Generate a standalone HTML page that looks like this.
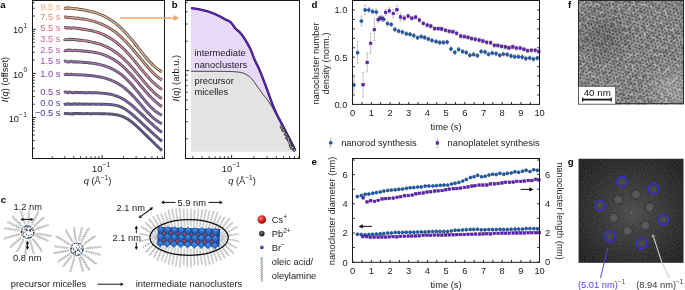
<!DOCTYPE html>
<html><head><meta charset="utf-8"><style>
html,body{margin:0;padding:0;background:#fff;width:685px;height:290px;overflow:hidden;}
svg{display:block;font-family:"Liberation Sans",sans-serif;will-change:transform;}
</style></head><body>
<svg width="685" height="290" viewBox="0 0 685 290">
<text x="0.30" y="7.60" font-size="9.6" text-anchor="start" fill="#000" font-weight="bold">a</text>
<line x1="32.50" y1="148.32" x2="34.70" y2="148.32" stroke="#1a1a1a" stroke-width="0.9"/>
<line x1="32.50" y1="140.56" x2="34.70" y2="140.56" stroke="#1a1a1a" stroke-width="0.9"/>
<line x1="32.50" y1="135.05" x2="34.70" y2="135.05" stroke="#1a1a1a" stroke-width="0.9"/>
<line x1="32.50" y1="130.78" x2="34.70" y2="130.78" stroke="#1a1a1a" stroke-width="0.9"/>
<line x1="32.50" y1="127.28" x2="34.70" y2="127.28" stroke="#1a1a1a" stroke-width="0.9"/>
<line x1="32.50" y1="124.33" x2="34.70" y2="124.33" stroke="#1a1a1a" stroke-width="0.9"/>
<line x1="32.50" y1="121.77" x2="34.70" y2="121.77" stroke="#1a1a1a" stroke-width="0.9"/>
<line x1="32.50" y1="119.52" x2="34.70" y2="119.52" stroke="#1a1a1a" stroke-width="0.9"/>
<line x1="32.50" y1="117.50" x2="36.00" y2="117.50" stroke="#1a1a1a" stroke-width="0.9"/>
<line x1="32.50" y1="104.22" x2="34.70" y2="104.22" stroke="#1a1a1a" stroke-width="0.9"/>
<line x1="32.50" y1="96.46" x2="34.70" y2="96.46" stroke="#1a1a1a" stroke-width="0.9"/>
<line x1="32.50" y1="90.95" x2="34.70" y2="90.95" stroke="#1a1a1a" stroke-width="0.9"/>
<line x1="32.50" y1="86.68" x2="34.70" y2="86.68" stroke="#1a1a1a" stroke-width="0.9"/>
<line x1="32.50" y1="83.18" x2="34.70" y2="83.18" stroke="#1a1a1a" stroke-width="0.9"/>
<line x1="32.50" y1="80.23" x2="34.70" y2="80.23" stroke="#1a1a1a" stroke-width="0.9"/>
<line x1="32.50" y1="77.67" x2="34.70" y2="77.67" stroke="#1a1a1a" stroke-width="0.9"/>
<line x1="32.50" y1="75.42" x2="34.70" y2="75.42" stroke="#1a1a1a" stroke-width="0.9"/>
<line x1="32.50" y1="73.40" x2="36.00" y2="73.40" stroke="#1a1a1a" stroke-width="0.9"/>
<line x1="32.50" y1="60.12" x2="34.70" y2="60.12" stroke="#1a1a1a" stroke-width="0.9"/>
<line x1="32.50" y1="52.36" x2="34.70" y2="52.36" stroke="#1a1a1a" stroke-width="0.9"/>
<line x1="32.50" y1="46.85" x2="34.70" y2="46.85" stroke="#1a1a1a" stroke-width="0.9"/>
<line x1="32.50" y1="42.58" x2="34.70" y2="42.58" stroke="#1a1a1a" stroke-width="0.9"/>
<line x1="32.50" y1="39.08" x2="34.70" y2="39.08" stroke="#1a1a1a" stroke-width="0.9"/>
<line x1="32.50" y1="36.13" x2="34.70" y2="36.13" stroke="#1a1a1a" stroke-width="0.9"/>
<line x1="32.50" y1="33.57" x2="34.70" y2="33.57" stroke="#1a1a1a" stroke-width="0.9"/>
<line x1="32.50" y1="31.32" x2="34.70" y2="31.32" stroke="#1a1a1a" stroke-width="0.9"/>
<line x1="32.50" y1="29.30" x2="36.00" y2="29.30" stroke="#1a1a1a" stroke-width="0.9"/>
<line x1="32.50" y1="16.02" x2="34.70" y2="16.02" stroke="#1a1a1a" stroke-width="0.9"/>
<line x1="32.50" y1="8.26" x2="34.70" y2="8.26" stroke="#1a1a1a" stroke-width="0.9"/>
<line x1="32.50" y1="2.75" x2="34.70" y2="2.75" stroke="#1a1a1a" stroke-width="0.9"/>
<line x1="52.26" y1="158.50" x2="52.26" y2="156.30" stroke="#1a1a1a" stroke-width="0.9"/>
<line x1="64.82" y1="158.50" x2="64.82" y2="156.30" stroke="#1a1a1a" stroke-width="0.9"/>
<line x1="73.73" y1="158.50" x2="73.73" y2="156.30" stroke="#1a1a1a" stroke-width="0.9"/>
<line x1="80.64" y1="158.50" x2="80.64" y2="156.30" stroke="#1a1a1a" stroke-width="0.9"/>
<line x1="86.28" y1="158.50" x2="86.28" y2="156.30" stroke="#1a1a1a" stroke-width="0.9"/>
<line x1="91.06" y1="158.50" x2="91.06" y2="156.30" stroke="#1a1a1a" stroke-width="0.9"/>
<line x1="95.19" y1="158.50" x2="95.19" y2="156.30" stroke="#1a1a1a" stroke-width="0.9"/>
<line x1="98.84" y1="158.50" x2="98.84" y2="156.30" stroke="#1a1a1a" stroke-width="0.9"/>
<line x1="102.10" y1="158.50" x2="102.10" y2="155.00" stroke="#1a1a1a" stroke-width="0.9"/>
<line x1="123.56" y1="158.50" x2="123.56" y2="156.30" stroke="#1a1a1a" stroke-width="0.9"/>
<line x1="136.12" y1="158.50" x2="136.12" y2="156.30" stroke="#1a1a1a" stroke-width="0.9"/>
<line x1="145.03" y1="158.50" x2="145.03" y2="156.30" stroke="#1a1a1a" stroke-width="0.9"/>
<line x1="151.94" y1="158.50" x2="151.94" y2="156.30" stroke="#1a1a1a" stroke-width="0.9"/>
<line x1="157.58" y1="158.50" x2="157.58" y2="156.30" stroke="#1a1a1a" stroke-width="0.9"/>
<line x1="162.36" y1="158.50" x2="162.36" y2="156.30" stroke="#1a1a1a" stroke-width="0.9"/>
<rect x="32.5" y="0.5" width="132.0" height="158.0" fill="none" stroke="#1a1a1a" stroke-width="1"/>
<text x="23.30" y="33.10" font-size="9.3" text-anchor="end" fill="#1a1a1a">10</text>
<text x="23.60" y="27.50" font-size="6.6" text-anchor="start" fill="#1a1a1a">1</text>
<text x="23.30" y="77.50" font-size="9.3" text-anchor="end" fill="#1a1a1a">10</text>
<text x="23.60" y="71.90" font-size="6.6" text-anchor="start" fill="#1a1a1a">0</text>
<text x="19.00" y="122.30" font-size="9.3" text-anchor="end" fill="#1a1a1a">10</text>
<text x="19.30" y="116.70" font-size="6.6" text-anchor="start" fill="#1a1a1a">−1</text>
<text x="102.40" y="172.20" font-size="9.3" text-anchor="end" fill="#1a1a1a">10</text>
<text x="102.70" y="166.60" font-size="6.6" text-anchor="start" fill="#1a1a1a">−1</text>
<text x="97.5" y="183.6" font-size="9.3" text-anchor="middle" fill="#1a1a1a"><tspan font-style="italic">q</tspan> (Å<tspan font-size="6.6" dy="-3.6">−1</tspan><tspan dy="3.6">)</tspan></text>
<text transform="translate(7.8,79.5) rotate(-90)" font-size="9.3" text-anchor="middle" fill="#1a1a1a"><tspan font-style="italic">I</tspan>(<tspan font-style="italic">q</tspan>) (offset)</text>
<text x="60.50" y="10.10" font-size="9.3" text-anchor="end" fill="#f3ad72">9.5 s</text>
<path d="M64.00,7.96 L65.00,8.23 L66.00,8.56 L67.00,7.95 L68.00,7.78 L69.00,8.47 L70.00,8.11 L71.00,8.10 L72.00,8.39 L73.00,8.45 L74.00,8.64 L75.00,8.95 L76.00,8.65 L77.00,8.94 L78.00,8.87 L79.00,9.41 L80.00,9.48 L81.00,9.73 L82.00,9.41 L83.00,9.78 L84.00,10.22 L85.00,10.18 L86.00,10.24 L87.00,10.72 L88.00,10.87 L89.00,11.03 L90.00,11.34 L91.00,11.56 L92.00,11.83 L93.00,11.95 L94.00,12.21 L95.00,12.56 L96.00,12.94 L97.00,13.23 L98.00,13.58 L99.00,13.98 L100.00,14.36 L101.00,14.78 L102.00,15.21 L103.00,15.66 L104.00,16.13 L105.00,16.63 L106.00,17.15 L107.00,17.69 L108.00,18.26 L109.00,18.85 L110.00,19.47 L111.00,20.11 L112.00,20.79 L113.00,21.49 L114.00,22.21 L115.00,22.97 L116.00,23.75 L117.00,24.57 L118.00,25.41 L119.00,26.28 L120.00,27.18 L121.00,28.10 L122.00,29.06 L123.00,30.05 L124.00,31.06 L125.00,32.10 L126.00,33.16 L127.00,34.25 L128.00,35.37 L129.00,36.51 L130.00,37.67 L131.00,38.85 L132.00,40.05 L133.00,41.27 L134.00,42.50 L135.00,43.74 L136.00,45.00 L137.00,46.26 L138.00,47.53 L139.00,48.80 L140.00,50.07 L141.00,51.34 L142.00,52.60 L143.00,53.85 L144.00,55.09 L145.00,56.31 L146.00,57.51 L147.00,58.69 L148.00,59.84 L149.00,60.96 L150.00,62.05 L151.00,63.10 L152.00,64.12 L153.00,65.09 L154.00,66.03 L155.00,66.92 L156.00,67.76 L157.00,68.56 L158.00,69.32 L159.00,70.03 L160.00,70.70 L161.00,71.32 L162.00,71.89" fill="none" stroke="#505050" stroke-width="2.9" stroke-linejoin="round"/>
<path d="M64.00,7.96 L65.00,8.23 L66.00,8.56 L67.00,7.95 L68.00,7.78 L69.00,8.47 L70.00,8.11 L71.00,8.10 L72.00,8.39 L73.00,8.45 L74.00,8.64 L75.00,8.95 L76.00,8.65 L77.00,8.94 L78.00,8.87 L79.00,9.41 L80.00,9.48 L81.00,9.73 L82.00,9.41 L83.00,9.78 L84.00,10.22 L85.00,10.18 L86.00,10.24 L87.00,10.72 L88.00,10.87 L89.00,11.03 L90.00,11.34 L91.00,11.56 L92.00,11.83 L93.00,11.95 L94.00,12.21 L95.00,12.56 L96.00,12.94 L97.00,13.23 L98.00,13.58 L99.00,13.98 L100.00,14.36 L101.00,14.78 L102.00,15.21 L103.00,15.66 L104.00,16.13 L105.00,16.63 L106.00,17.15 L107.00,17.69 L108.00,18.26 L109.00,18.85 L110.00,19.47 L111.00,20.11 L112.00,20.79 L113.00,21.49 L114.00,22.21 L115.00,22.97 L116.00,23.75 L117.00,24.57 L118.00,25.41 L119.00,26.28 L120.00,27.18 L121.00,28.10 L122.00,29.06 L123.00,30.05 L124.00,31.06 L125.00,32.10 L126.00,33.16 L127.00,34.25 L128.00,35.37 L129.00,36.51 L130.00,37.67 L131.00,38.85 L132.00,40.05 L133.00,41.27 L134.00,42.50 L135.00,43.74 L136.00,45.00 L137.00,46.26 L138.00,47.53 L139.00,48.80 L140.00,50.07 L141.00,51.34 L142.00,52.60 L143.00,53.85 L144.00,55.09 L145.00,56.31 L146.00,57.51 L147.00,58.69 L148.00,59.84 L149.00,60.96 L150.00,62.05 L151.00,63.10 L152.00,64.12 L153.00,65.09 L154.00,66.03 L155.00,66.92 L156.00,67.76 L157.00,68.56 L158.00,69.32 L159.00,70.03 L160.00,70.70 L161.00,71.32 L162.00,71.89" fill="none" stroke="#f5bb8b" stroke-width="1.2" stroke-linejoin="round"/>
<text x="60.50" y="20.30" font-size="9.3" text-anchor="end" fill="#ec8a72">7.5 s</text>
<path d="M64.00,17.16 L65.00,17.03 L66.00,16.83 L67.00,17.55 L68.00,17.32 L69.00,17.83 L70.00,17.58 L71.00,17.52 L72.00,17.92 L73.00,17.93 L74.00,17.59 L75.00,18.34 L76.00,18.44 L77.00,17.93 L78.00,18.09 L79.00,18.28 L80.00,18.61 L81.00,18.83 L82.00,19.05 L83.00,18.79 L84.00,18.95 L85.00,19.39 L86.00,19.33 L87.00,19.55 L88.00,20.04 L89.00,20.13 L90.00,20.41 L91.00,20.72 L92.00,20.92 L93.00,21.18 L94.00,21.44 L95.00,21.73 L96.00,22.03 L97.00,22.38 L98.00,22.77 L99.00,23.10 L100.00,23.49 L101.00,23.89 L102.00,24.32 L103.00,24.76 L104.00,25.23 L105.00,25.72 L106.00,26.23 L107.00,26.76 L108.00,27.32 L109.00,27.90 L110.00,28.51 L111.00,29.14 L112.00,29.80 L113.00,30.48 L114.00,31.19 L115.00,31.93 L116.00,32.69 L117.00,33.48 L118.00,34.30 L119.00,35.14 L120.00,36.01 L121.00,36.91 L122.00,37.83 L123.00,38.78 L124.00,39.76 L125.00,40.76 L126.00,41.78 L127.00,42.83 L128.00,43.90 L129.00,44.99 L130.00,46.10 L131.00,47.23 L132.00,48.37 L133.00,49.54 L134.00,50.71 L135.00,51.90 L136.00,53.10 L137.00,54.31 L138.00,55.52 L139.00,56.74 L140.00,57.95 L141.00,59.17 L142.00,60.39 L143.00,61.59 L144.00,62.79 L145.00,63.98 L146.00,65.15 L147.00,66.31 L148.00,67.45 L149.00,68.56 L150.00,69.66 L151.00,70.72 L152.00,71.76 L153.00,72.76 L154.00,73.73 L155.00,74.67 L156.00,75.57 L157.00,76.43 L158.00,77.26 L159.00,78.04 L160.00,78.79 L161.00,79.49 L162.00,80.16" fill="none" stroke="#505050" stroke-width="2.9" stroke-linejoin="round"/>
<path d="M64.00,17.16 L65.00,17.03 L66.00,16.83 L67.00,17.55 L68.00,17.32 L69.00,17.83 L70.00,17.58 L71.00,17.52 L72.00,17.92 L73.00,17.93 L74.00,17.59 L75.00,18.34 L76.00,18.44 L77.00,17.93 L78.00,18.09 L79.00,18.28 L80.00,18.61 L81.00,18.83 L82.00,19.05 L83.00,18.79 L84.00,18.95 L85.00,19.39 L86.00,19.33 L87.00,19.55 L88.00,20.04 L89.00,20.13 L90.00,20.41 L91.00,20.72 L92.00,20.92 L93.00,21.18 L94.00,21.44 L95.00,21.73 L96.00,22.03 L97.00,22.38 L98.00,22.77 L99.00,23.10 L100.00,23.49 L101.00,23.89 L102.00,24.32 L103.00,24.76 L104.00,25.23 L105.00,25.72 L106.00,26.23 L107.00,26.76 L108.00,27.32 L109.00,27.90 L110.00,28.51 L111.00,29.14 L112.00,29.80 L113.00,30.48 L114.00,31.19 L115.00,31.93 L116.00,32.69 L117.00,33.48 L118.00,34.30 L119.00,35.14 L120.00,36.01 L121.00,36.91 L122.00,37.83 L123.00,38.78 L124.00,39.76 L125.00,40.76 L126.00,41.78 L127.00,42.83 L128.00,43.90 L129.00,44.99 L130.00,46.10 L131.00,47.23 L132.00,48.37 L133.00,49.54 L134.00,50.71 L135.00,51.90 L136.00,53.10 L137.00,54.31 L138.00,55.52 L139.00,56.74 L140.00,57.95 L141.00,59.17 L142.00,60.39 L143.00,61.59 L144.00,62.79 L145.00,63.98 L146.00,65.15 L147.00,66.31 L148.00,67.45 L149.00,68.56 L150.00,69.66 L151.00,70.72 L152.00,71.76 L153.00,72.76 L154.00,73.73 L155.00,74.67 L156.00,75.57 L157.00,76.43 L158.00,77.26 L159.00,78.04 L160.00,78.79 L161.00,79.49 L162.00,80.16" fill="none" stroke="#ef9f8b" stroke-width="1.2" stroke-linejoin="round"/>
<text x="60.50" y="30.80" font-size="9.3" text-anchor="end" fill="#de6e86">5.5 s</text>
<path d="M64.00,27.33 L65.00,27.35 L66.00,27.82 L67.00,28.23 L68.00,27.51 L69.00,27.82 L70.00,28.01 L71.00,28.25 L72.00,28.18 L73.00,27.76 L74.00,27.94 L75.00,27.96 L76.00,28.39 L77.00,28.17 L78.00,28.70 L79.00,28.45 L80.00,28.69 L81.00,28.97 L82.00,29.24 L83.00,29.13 L84.00,29.19 L85.00,29.38 L86.00,29.75 L87.00,29.84 L88.00,30.06 L89.00,30.23 L90.00,30.23 L91.00,30.62 L92.00,30.74 L93.00,31.01 L94.00,31.28 L95.00,31.62 L96.00,31.83 L97.00,32.20 L98.00,32.53 L99.00,32.84 L100.00,33.21 L101.00,33.59 L102.00,34.00 L103.00,34.42 L104.00,34.87 L105.00,35.33 L106.00,35.83 L107.00,36.35 L108.00,36.89 L109.00,37.46 L110.00,38.05 L111.00,38.67 L112.00,39.32 L113.00,40.00 L114.00,40.70 L115.00,41.44 L116.00,42.20 L117.00,42.99 L118.00,43.81 L119.00,44.65 L120.00,45.53 L121.00,46.43 L122.00,47.36 L123.00,48.32 L124.00,49.30 L125.00,50.31 L126.00,51.35 L127.00,52.40 L128.00,53.48 L129.00,54.58 L130.00,55.70 L131.00,56.84 L132.00,58.00 L133.00,59.17 L134.00,60.35 L135.00,61.54 L136.00,62.74 L137.00,63.95 L138.00,65.16 L139.00,66.38 L140.00,67.59 L141.00,68.80 L142.00,70.01 L143.00,71.21 L144.00,72.39 L145.00,73.57 L146.00,74.73 L147.00,75.87 L148.00,76.99 L149.00,78.08 L150.00,79.15 L151.00,80.20 L152.00,81.21 L153.00,82.19 L154.00,83.14 L155.00,84.06 L156.00,84.93 L157.00,85.78 L158.00,86.58 L159.00,87.35 L160.00,88.08 L161.00,88.77 L162.00,89.42" fill="none" stroke="#505050" stroke-width="2.9" stroke-linejoin="round"/>
<path d="M64.00,27.33 L65.00,27.35 L66.00,27.82 L67.00,28.23 L68.00,27.51 L69.00,27.82 L70.00,28.01 L71.00,28.25 L72.00,28.18 L73.00,27.76 L74.00,27.94 L75.00,27.96 L76.00,28.39 L77.00,28.17 L78.00,28.70 L79.00,28.45 L80.00,28.69 L81.00,28.97 L82.00,29.24 L83.00,29.13 L84.00,29.19 L85.00,29.38 L86.00,29.75 L87.00,29.84 L88.00,30.06 L89.00,30.23 L90.00,30.23 L91.00,30.62 L92.00,30.74 L93.00,31.01 L94.00,31.28 L95.00,31.62 L96.00,31.83 L97.00,32.20 L98.00,32.53 L99.00,32.84 L100.00,33.21 L101.00,33.59 L102.00,34.00 L103.00,34.42 L104.00,34.87 L105.00,35.33 L106.00,35.83 L107.00,36.35 L108.00,36.89 L109.00,37.46 L110.00,38.05 L111.00,38.67 L112.00,39.32 L113.00,40.00 L114.00,40.70 L115.00,41.44 L116.00,42.20 L117.00,42.99 L118.00,43.81 L119.00,44.65 L120.00,45.53 L121.00,46.43 L122.00,47.36 L123.00,48.32 L124.00,49.30 L125.00,50.31 L126.00,51.35 L127.00,52.40 L128.00,53.48 L129.00,54.58 L130.00,55.70 L131.00,56.84 L132.00,58.00 L133.00,59.17 L134.00,60.35 L135.00,61.54 L136.00,62.74 L137.00,63.95 L138.00,65.16 L139.00,66.38 L140.00,67.59 L141.00,68.80 L142.00,70.01 L143.00,71.21 L144.00,72.39 L145.00,73.57 L146.00,74.73 L147.00,75.87 L148.00,76.99 L149.00,78.08 L150.00,79.15 L151.00,80.20 L152.00,81.21 L153.00,82.19 L154.00,83.14 L155.00,84.06 L156.00,84.93 L157.00,85.78 L158.00,86.58 L159.00,87.35 L160.00,88.08 L161.00,88.77 L162.00,89.42" fill="none" stroke="#e3889b" stroke-width="1.2" stroke-linejoin="round"/>
<text x="60.50" y="42.00" font-size="9.3" text-anchor="end" fill="#c8689c">3.5 s</text>
<path d="M64.00,38.85 L65.00,39.74 L66.00,39.61 L67.00,39.63 L68.00,39.78 L69.00,39.09 L70.00,39.02 L71.00,39.77 L72.00,39.58 L73.00,39.27 L74.00,39.46 L75.00,39.53 L76.00,40.16 L77.00,39.69 L78.00,40.10 L79.00,40.33 L80.00,39.92 L81.00,40.56 L82.00,40.34 L83.00,40.38 L84.00,40.65 L85.00,40.87 L86.00,40.83 L87.00,40.96 L88.00,41.27 L89.00,41.46 L90.00,41.58 L91.00,41.80 L92.00,42.10 L93.00,42.36 L94.00,42.56 L95.00,42.76 L96.00,43.04 L97.00,43.34 L98.00,43.60 L99.00,43.93 L100.00,44.24 L101.00,44.59 L102.00,44.95 L103.00,45.34 L104.00,45.74 L105.00,46.17 L106.00,46.62 L107.00,47.09 L108.00,47.58 L109.00,48.10 L110.00,48.64 L111.00,49.21 L112.00,49.80 L113.00,50.42 L114.00,51.07 L115.00,51.74 L116.00,52.44 L117.00,53.17 L118.00,53.93 L119.00,54.72 L120.00,55.53 L121.00,56.38 L122.00,57.25 L123.00,58.15 L124.00,59.07 L125.00,60.03 L126.00,61.00 L127.00,62.01 L128.00,63.04 L129.00,64.09 L130.00,65.17 L131.00,66.26 L132.00,67.38 L133.00,68.51 L134.00,69.66 L135.00,70.82 L136.00,72.00 L137.00,73.19 L138.00,74.38 L139.00,75.58 L140.00,76.79 L141.00,77.99 L142.00,79.19 L143.00,80.39 L144.00,81.58 L145.00,82.76 L146.00,83.92 L147.00,85.07 L148.00,86.20 L149.00,87.31 L150.00,88.40 L151.00,89.46 L152.00,90.49 L153.00,91.49 L154.00,92.45 L155.00,93.38 L156.00,94.28 L157.00,95.13 L158.00,95.95 L159.00,96.73 L160.00,97.47 L161.00,98.17 L162.00,98.83" fill="none" stroke="#505050" stroke-width="2.9" stroke-linejoin="round"/>
<path d="M64.00,38.85 L65.00,39.74 L66.00,39.61 L67.00,39.63 L68.00,39.78 L69.00,39.09 L70.00,39.02 L71.00,39.77 L72.00,39.58 L73.00,39.27 L74.00,39.46 L75.00,39.53 L76.00,40.16 L77.00,39.69 L78.00,40.10 L79.00,40.33 L80.00,39.92 L81.00,40.56 L82.00,40.34 L83.00,40.38 L84.00,40.65 L85.00,40.87 L86.00,40.83 L87.00,40.96 L88.00,41.27 L89.00,41.46 L90.00,41.58 L91.00,41.80 L92.00,42.10 L93.00,42.36 L94.00,42.56 L95.00,42.76 L96.00,43.04 L97.00,43.34 L98.00,43.60 L99.00,43.93 L100.00,44.24 L101.00,44.59 L102.00,44.95 L103.00,45.34 L104.00,45.74 L105.00,46.17 L106.00,46.62 L107.00,47.09 L108.00,47.58 L109.00,48.10 L110.00,48.64 L111.00,49.21 L112.00,49.80 L113.00,50.42 L114.00,51.07 L115.00,51.74 L116.00,52.44 L117.00,53.17 L118.00,53.93 L119.00,54.72 L120.00,55.53 L121.00,56.38 L122.00,57.25 L123.00,58.15 L124.00,59.07 L125.00,60.03 L126.00,61.00 L127.00,62.01 L128.00,63.04 L129.00,64.09 L130.00,65.17 L131.00,66.26 L132.00,67.38 L133.00,68.51 L134.00,69.66 L135.00,70.82 L136.00,72.00 L137.00,73.19 L138.00,74.38 L139.00,75.58 L140.00,76.79 L141.00,77.99 L142.00,79.19 L143.00,80.39 L144.00,81.58 L145.00,82.76 L146.00,83.92 L147.00,85.07 L148.00,86.20 L149.00,87.31 L150.00,88.40 L151.00,89.46 L152.00,90.49 L153.00,91.49 L154.00,92.45 L155.00,93.38 L156.00,94.28 L157.00,95.13 L158.00,95.95 L159.00,96.73 L160.00,97.47 L161.00,98.17 L162.00,98.83" fill="none" stroke="#d183ad" stroke-width="1.2" stroke-linejoin="round"/>
<text x="60.50" y="52.50" font-size="9.3" text-anchor="end" fill="#ae5aad">2.5 s</text>
<path d="M64.00,50.20 L65.00,50.72 L66.00,50.38 L67.00,50.43 L68.00,49.94 L69.00,50.71 L70.00,49.92 L71.00,50.36 L72.00,50.70 L73.00,50.60 L74.00,50.26 L75.00,50.45 L76.00,50.47 L77.00,50.41 L78.00,50.91 L79.00,50.71 L80.00,50.71 L81.00,50.75 L82.00,50.97 L83.00,51.05 L84.00,51.24 L85.00,51.14 L86.00,51.27 L87.00,51.15 L88.00,51.59 L89.00,51.72 L90.00,51.71 L91.00,51.93 L92.00,52.03 L93.00,52.15 L94.00,52.35 L95.00,52.48 L96.00,52.74 L97.00,52.94 L98.00,53.14 L99.00,53.39 L100.00,53.65 L101.00,53.93 L102.00,54.23 L103.00,54.55 L104.00,54.89 L105.00,55.25 L106.00,55.64 L107.00,56.05 L108.00,56.49 L109.00,56.96 L110.00,57.45 L111.00,57.97 L112.00,58.51 L113.00,59.09 L114.00,59.70 L115.00,60.33 L116.00,61.00 L117.00,61.70 L118.00,62.43 L119.00,63.20 L120.00,63.99 L121.00,64.81 L122.00,65.67 L123.00,66.55 L124.00,67.47 L125.00,68.41 L126.00,69.38 L127.00,70.38 L128.00,71.40 L129.00,72.44 L130.00,73.50 L131.00,74.59 L132.00,75.69 L133.00,76.81 L134.00,77.95 L135.00,79.10 L136.00,80.25 L137.00,81.42 L138.00,82.59 L139.00,83.76 L140.00,84.94 L141.00,86.11 L142.00,87.29 L143.00,88.45 L144.00,89.61 L145.00,90.75 L146.00,91.88 L147.00,93.00 L148.00,94.10 L149.00,95.18 L150.00,96.24 L151.00,97.27 L152.00,98.28 L153.00,99.26 L154.00,100.22 L155.00,101.14 L156.00,102.03 L157.00,102.89 L158.00,103.72 L159.00,104.52 L160.00,105.28 L161.00,106.00 L162.00,106.69" fill="none" stroke="#505050" stroke-width="2.9" stroke-linejoin="round"/>
<path d="M64.00,50.20 L65.00,50.72 L66.00,50.38 L67.00,50.43 L68.00,49.94 L69.00,50.71 L70.00,49.92 L71.00,50.36 L72.00,50.70 L73.00,50.60 L74.00,50.26 L75.00,50.45 L76.00,50.47 L77.00,50.41 L78.00,50.91 L79.00,50.71 L80.00,50.71 L81.00,50.75 L82.00,50.97 L83.00,51.05 L84.00,51.24 L85.00,51.14 L86.00,51.27 L87.00,51.15 L88.00,51.59 L89.00,51.72 L90.00,51.71 L91.00,51.93 L92.00,52.03 L93.00,52.15 L94.00,52.35 L95.00,52.48 L96.00,52.74 L97.00,52.94 L98.00,53.14 L99.00,53.39 L100.00,53.65 L101.00,53.93 L102.00,54.23 L103.00,54.55 L104.00,54.89 L105.00,55.25 L106.00,55.64 L107.00,56.05 L108.00,56.49 L109.00,56.96 L110.00,57.45 L111.00,57.97 L112.00,58.51 L113.00,59.09 L114.00,59.70 L115.00,60.33 L116.00,61.00 L117.00,61.70 L118.00,62.43 L119.00,63.20 L120.00,63.99 L121.00,64.81 L122.00,65.67 L123.00,66.55 L124.00,67.47 L125.00,68.41 L126.00,69.38 L127.00,70.38 L128.00,71.40 L129.00,72.44 L130.00,73.50 L131.00,74.59 L132.00,75.69 L133.00,76.81 L134.00,77.95 L135.00,79.10 L136.00,80.25 L137.00,81.42 L138.00,82.59 L139.00,83.76 L140.00,84.94 L141.00,86.11 L142.00,87.29 L143.00,88.45 L144.00,89.61 L145.00,90.75 L146.00,91.88 L147.00,93.00 L148.00,94.10 L149.00,95.18 L150.00,96.24 L151.00,97.27 L152.00,98.28 L153.00,99.26 L154.00,100.22 L155.00,101.14 L156.00,102.03 L157.00,102.89 L158.00,103.72 L159.00,104.52 L160.00,105.28 L161.00,106.00 L162.00,106.69" fill="none" stroke="#bc77bb" stroke-width="1.2" stroke-linejoin="round"/>
<text x="60.50" y="64.10" font-size="9.3" text-anchor="end" fill="#9650b4">1.5 s</text>
<path d="M64.00,61.44 L65.00,61.04 L66.00,61.62 L67.00,61.87 L68.00,61.59 L69.00,62.08 L70.00,61.73 L71.00,61.30 L72.00,61.72 L73.00,61.73 L74.00,61.99 L75.00,61.64 L76.00,62.04 L77.00,61.68 L78.00,62.19 L79.00,62.04 L80.00,61.94 L81.00,62.12 L82.00,62.22 L83.00,62.23 L84.00,62.46 L85.00,62.47 L86.00,62.49 L87.00,62.64 L88.00,62.69 L89.00,62.95 L90.00,62.80 L91.00,63.06 L92.00,63.07 L93.00,63.29 L94.00,63.39 L95.00,63.59 L96.00,63.84 L97.00,64.02 L98.00,64.19 L99.00,64.41 L100.00,64.63 L101.00,64.87 L102.00,65.13 L103.00,65.41 L104.00,65.70 L105.00,66.02 L106.00,66.35 L107.00,66.70 L108.00,67.08 L109.00,67.48 L110.00,67.90 L111.00,68.35 L112.00,68.82 L113.00,69.33 L114.00,69.86 L115.00,70.42 L116.00,71.01 L117.00,71.63 L118.00,72.28 L119.00,72.97 L120.00,73.69 L121.00,74.44 L122.00,75.23 L123.00,76.05 L124.00,76.90 L125.00,77.79 L126.00,78.72 L127.00,79.67 L128.00,80.66 L129.00,81.69 L130.00,82.74 L131.00,83.82 L132.00,84.93 L133.00,86.06 L134.00,87.22 L135.00,88.40 L136.00,89.60 L137.00,90.81 L138.00,92.03 L139.00,93.26 L140.00,94.50 L141.00,95.73 L142.00,96.97 L143.00,98.19 L144.00,99.40 L145.00,100.60 L146.00,101.77 L147.00,102.92 L148.00,104.04 L149.00,105.13 L150.00,106.18 L151.00,107.20 L152.00,108.17 L153.00,109.09 L154.00,109.97 L155.00,110.80 L156.00,111.58 L157.00,112.31 L158.00,113.00 L159.00,113.64 L160.00,114.22 L161.00,114.77 L162.00,115.27" fill="none" stroke="#505050" stroke-width="2.9" stroke-linejoin="round"/>
<path d="M64.00,61.44 L65.00,61.04 L66.00,61.62 L67.00,61.87 L68.00,61.59 L69.00,62.08 L70.00,61.73 L71.00,61.30 L72.00,61.72 L73.00,61.73 L74.00,61.99 L75.00,61.64 L76.00,62.04 L77.00,61.68 L78.00,62.19 L79.00,62.04 L80.00,61.94 L81.00,62.12 L82.00,62.22 L83.00,62.23 L84.00,62.46 L85.00,62.47 L86.00,62.49 L87.00,62.64 L88.00,62.69 L89.00,62.95 L90.00,62.80 L91.00,63.06 L92.00,63.07 L93.00,63.29 L94.00,63.39 L95.00,63.59 L96.00,63.84 L97.00,64.02 L98.00,64.19 L99.00,64.41 L100.00,64.63 L101.00,64.87 L102.00,65.13 L103.00,65.41 L104.00,65.70 L105.00,66.02 L106.00,66.35 L107.00,66.70 L108.00,67.08 L109.00,67.48 L110.00,67.90 L111.00,68.35 L112.00,68.82 L113.00,69.33 L114.00,69.86 L115.00,70.42 L116.00,71.01 L117.00,71.63 L118.00,72.28 L119.00,72.97 L120.00,73.69 L121.00,74.44 L122.00,75.23 L123.00,76.05 L124.00,76.90 L125.00,77.79 L126.00,78.72 L127.00,79.67 L128.00,80.66 L129.00,81.69 L130.00,82.74 L131.00,83.82 L132.00,84.93 L133.00,86.06 L134.00,87.22 L135.00,88.40 L136.00,89.60 L137.00,90.81 L138.00,92.03 L139.00,93.26 L140.00,94.50 L141.00,95.73 L142.00,96.97 L143.00,98.19 L144.00,99.40 L145.00,100.60 L146.00,101.77 L147.00,102.92 L148.00,104.04 L149.00,105.13 L150.00,106.18 L151.00,107.20 L152.00,108.17 L153.00,109.09 L154.00,109.97 L155.00,110.80 L156.00,111.58 L157.00,112.31 L158.00,113.00 L159.00,113.64 L160.00,114.22 L161.00,114.77 L162.00,115.27" fill="none" stroke="#a86fc1" stroke-width="1.2" stroke-linejoin="round"/>
<text x="60.50" y="76.90" font-size="9.3" text-anchor="end" fill="#8046b2">1.0 s</text>
<path d="M64.00,74.90 L65.00,74.54 L66.00,74.29 L67.00,73.98 L68.00,74.85 L69.00,74.63 L70.00,74.51 L71.00,74.24 L72.00,74.55 L73.00,74.57 L74.00,74.80 L75.00,74.70 L76.00,74.80 L77.00,74.68 L78.00,74.95 L79.00,74.89 L80.00,74.64 L81.00,74.77 L82.00,75.07 L83.00,75.14 L84.00,74.96 L85.00,75.00 L86.00,75.35 L87.00,75.16 L88.00,75.50 L89.00,75.45 L90.00,75.46 L91.00,75.65 L92.00,75.73 L93.00,75.92 L94.00,76.04 L95.00,76.14 L96.00,76.33 L97.00,76.46 L98.00,76.62 L99.00,76.80 L100.00,77.01 L101.00,77.21 L102.00,77.43 L103.00,77.67 L104.00,77.92 L105.00,78.18 L106.00,78.47 L107.00,78.77 L108.00,79.09 L109.00,79.43 L110.00,79.80 L111.00,80.18 L112.00,80.59 L113.00,81.03 L114.00,81.49 L115.00,81.97 L116.00,82.48 L117.00,83.03 L118.00,83.60 L119.00,84.20 L120.00,84.83 L121.00,85.49 L122.00,86.18 L123.00,86.91 L124.00,87.67 L125.00,88.46 L126.00,89.28 L127.00,90.14 L128.00,91.03 L129.00,91.95 L130.00,92.90 L131.00,93.88 L132.00,94.89 L133.00,95.93 L134.00,96.99 L135.00,98.07 L136.00,99.18 L137.00,100.30 L138.00,101.43 L139.00,102.58 L140.00,103.74 L141.00,104.90 L142.00,106.06 L143.00,107.21 L144.00,108.36 L145.00,109.50 L146.00,110.61 L147.00,111.71 L148.00,112.79 L149.00,113.83 L150.00,114.85 L151.00,115.82 L152.00,116.76 L153.00,117.66 L154.00,118.51 L155.00,119.32 L156.00,120.09 L157.00,120.81 L158.00,121.48 L159.00,122.10 L160.00,122.68 L161.00,123.21 L162.00,123.71" fill="none" stroke="#505050" stroke-width="2.9" stroke-linejoin="round"/>
<path d="M64.00,74.90 L65.00,74.54 L66.00,74.29 L67.00,73.98 L68.00,74.85 L69.00,74.63 L70.00,74.51 L71.00,74.24 L72.00,74.55 L73.00,74.57 L74.00,74.80 L75.00,74.70 L76.00,74.80 L77.00,74.68 L78.00,74.95 L79.00,74.89 L80.00,74.64 L81.00,74.77 L82.00,75.07 L83.00,75.14 L84.00,74.96 L85.00,75.00 L86.00,75.35 L87.00,75.16 L88.00,75.50 L89.00,75.45 L90.00,75.46 L91.00,75.65 L92.00,75.73 L93.00,75.92 L94.00,76.04 L95.00,76.14 L96.00,76.33 L97.00,76.46 L98.00,76.62 L99.00,76.80 L100.00,77.01 L101.00,77.21 L102.00,77.43 L103.00,77.67 L104.00,77.92 L105.00,78.18 L106.00,78.47 L107.00,78.77 L108.00,79.09 L109.00,79.43 L110.00,79.80 L111.00,80.18 L112.00,80.59 L113.00,81.03 L114.00,81.49 L115.00,81.97 L116.00,82.48 L117.00,83.03 L118.00,83.60 L119.00,84.20 L120.00,84.83 L121.00,85.49 L122.00,86.18 L123.00,86.91 L124.00,87.67 L125.00,88.46 L126.00,89.28 L127.00,90.14 L128.00,91.03 L129.00,91.95 L130.00,92.90 L131.00,93.88 L132.00,94.89 L133.00,95.93 L134.00,96.99 L135.00,98.07 L136.00,99.18 L137.00,100.30 L138.00,101.43 L139.00,102.58 L140.00,103.74 L141.00,104.90 L142.00,106.06 L143.00,107.21 L144.00,108.36 L145.00,109.50 L146.00,110.61 L147.00,111.71 L148.00,112.79 L149.00,113.83 L150.00,114.85 L151.00,115.82 L152.00,116.76 L153.00,117.66 L154.00,118.51 L155.00,119.32 L156.00,120.09 L157.00,120.81 L158.00,121.48 L159.00,122.10 L160.00,122.68 L161.00,123.21 L162.00,123.71" fill="none" stroke="#9667bf" stroke-width="1.2" stroke-linejoin="round"/>
<text x="60.50" y="94.70" font-size="9.3" text-anchor="end" fill="#6a3eaa">0.5 s</text>
<path d="M64.00,92.46 L65.00,91.96 L66.00,92.13 L67.00,92.41 L68.00,92.87 L69.00,92.02 L70.00,92.14 L71.00,92.32 L72.00,92.82 L73.00,92.59 L74.00,92.77 L75.00,92.51 L76.00,92.20 L77.00,92.49 L78.00,92.68 L79.00,92.38 L80.00,92.76 L81.00,92.49 L82.00,92.68 L83.00,92.44 L84.00,92.73 L85.00,92.69 L86.00,92.65 L87.00,92.76 L88.00,92.62 L89.00,92.48 L90.00,92.74 L91.00,92.72 L92.00,92.75 L93.00,92.63 L94.00,92.80 L95.00,92.80 L96.00,92.78 L97.00,92.89 L98.00,92.90 L99.00,92.97 L100.00,93.03 L101.00,93.10 L102.00,93.17 L103.00,93.26 L104.00,93.36 L105.00,93.47 L106.00,93.59 L107.00,93.73 L108.00,93.88 L109.00,94.05 L110.00,94.24 L111.00,94.45 L112.00,94.68 L113.00,94.93 L114.00,95.20 L115.00,95.51 L116.00,95.84 L117.00,96.20 L118.00,96.59 L119.00,97.01 L120.00,97.46 L121.00,97.95 L122.00,98.47 L123.00,99.03 L124.00,99.62 L125.00,100.24 L126.00,100.90 L127.00,101.59 L128.00,102.31 L129.00,103.06 L130.00,103.84 L131.00,104.64 L132.00,105.47 L133.00,106.32 L134.00,107.19 L135.00,108.07 L136.00,108.98 L137.00,109.90 L138.00,110.82 L139.00,111.76 L140.00,112.71 L141.00,113.66 L142.00,114.62 L143.00,115.58 L144.00,116.53 L145.00,117.49 L146.00,118.45 L147.00,119.40 L148.00,120.34 L149.00,121.28 L150.00,122.22 L151.00,123.14 L152.00,124.05 L153.00,124.95 L154.00,125.84 L155.00,126.72 L156.00,127.59 L157.00,128.44 L158.00,129.27 L159.00,130.09 L160.00,130.89 L161.00,131.68 L162.00,132.45" fill="none" stroke="#505050" stroke-width="2.9" stroke-linejoin="round"/>
<path d="M64.00,92.46 L65.00,91.96 L66.00,92.13 L67.00,92.41 L68.00,92.87 L69.00,92.02 L70.00,92.14 L71.00,92.32 L72.00,92.82 L73.00,92.59 L74.00,92.77 L75.00,92.51 L76.00,92.20 L77.00,92.49 L78.00,92.68 L79.00,92.38 L80.00,92.76 L81.00,92.49 L82.00,92.68 L83.00,92.44 L84.00,92.73 L85.00,92.69 L86.00,92.65 L87.00,92.76 L88.00,92.62 L89.00,92.48 L90.00,92.74 L91.00,92.72 L92.00,92.75 L93.00,92.63 L94.00,92.80 L95.00,92.80 L96.00,92.78 L97.00,92.89 L98.00,92.90 L99.00,92.97 L100.00,93.03 L101.00,93.10 L102.00,93.17 L103.00,93.26 L104.00,93.36 L105.00,93.47 L106.00,93.59 L107.00,93.73 L108.00,93.88 L109.00,94.05 L110.00,94.24 L111.00,94.45 L112.00,94.68 L113.00,94.93 L114.00,95.20 L115.00,95.51 L116.00,95.84 L117.00,96.20 L118.00,96.59 L119.00,97.01 L120.00,97.46 L121.00,97.95 L122.00,98.47 L123.00,99.03 L124.00,99.62 L125.00,100.24 L126.00,100.90 L127.00,101.59 L128.00,102.31 L129.00,103.06 L130.00,103.84 L131.00,104.64 L132.00,105.47 L133.00,106.32 L134.00,107.19 L135.00,108.07 L136.00,108.98 L137.00,109.90 L138.00,110.82 L139.00,111.76 L140.00,112.71 L141.00,113.66 L142.00,114.62 L143.00,115.58 L144.00,116.53 L145.00,117.49 L146.00,118.45 L147.00,119.40 L148.00,120.34 L149.00,121.28 L150.00,122.22 L151.00,123.14 L152.00,124.05 L153.00,124.95 L154.00,125.84 L155.00,126.72 L156.00,127.59 L157.00,128.44 L158.00,129.27 L159.00,130.09 L160.00,130.89 L161.00,131.68 L162.00,132.45" fill="none" stroke="#8460b9" stroke-width="1.2" stroke-linejoin="round"/>
<text x="60.50" y="106.30" font-size="9.3" text-anchor="end" fill="#56389c">0.0 s</text>
<path d="M64.00,104.61 L65.00,104.24 L66.00,104.56 L67.00,104.01 L68.00,103.64 L69.00,104.22 L70.00,103.96 L71.00,104.45 L72.00,104.22 L73.00,104.38 L74.00,103.81 L75.00,103.79 L76.00,104.34 L77.00,103.93 L78.00,104.35 L79.00,103.81 L80.00,104.16 L81.00,103.85 L82.00,103.87 L83.00,104.33 L84.00,104.23 L85.00,104.22 L86.00,104.00 L87.00,104.14 L88.00,104.25 L89.00,104.12 L90.00,104.24 L91.00,104.24 L92.00,104.14 L93.00,104.06 L94.00,104.15 L95.00,104.20 L96.00,104.12 L97.00,104.19 L98.00,104.17 L99.00,104.15 L100.00,104.18 L101.00,104.19 L102.00,104.21 L103.00,104.23 L104.00,104.25 L105.00,104.28 L106.00,104.32 L107.00,104.36 L108.00,104.41 L109.00,104.48 L110.00,104.55 L111.00,104.64 L112.00,104.75 L113.00,104.87 L114.00,105.02 L115.00,105.19 L116.00,105.40 L117.00,105.63 L118.00,105.91 L119.00,106.22 L120.00,106.57 L121.00,106.97 L122.00,107.42 L123.00,107.91 L124.00,108.45 L125.00,109.04 L126.00,109.67 L127.00,110.35 L128.00,111.06 L129.00,111.80 L130.00,112.58 L131.00,113.39 L132.00,114.22 L133.00,115.08 L134.00,115.95 L135.00,116.83 L136.00,117.73 L137.00,118.64 L138.00,119.55 L139.00,120.48 L140.00,121.40 L141.00,122.33 L142.00,123.26 L143.00,124.20 L144.00,125.13 L145.00,126.06 L146.00,126.99 L147.00,127.92 L148.00,128.84 L149.00,129.76 L150.00,130.68 L151.00,131.60 L152.00,132.51 L153.00,133.41 L154.00,134.31 L155.00,135.21 L156.00,136.10 L157.00,136.98 L158.00,137.86 L159.00,138.73 L160.00,139.60 L161.00,140.45 L162.00,141.30" fill="none" stroke="#505050" stroke-width="2.9" stroke-linejoin="round"/>
<path d="M64.00,104.61 L65.00,104.24 L66.00,104.56 L67.00,104.01 L68.00,103.64 L69.00,104.22 L70.00,103.96 L71.00,104.45 L72.00,104.22 L73.00,104.38 L74.00,103.81 L75.00,103.79 L76.00,104.34 L77.00,103.93 L78.00,104.35 L79.00,103.81 L80.00,104.16 L81.00,103.85 L82.00,103.87 L83.00,104.33 L84.00,104.23 L85.00,104.22 L86.00,104.00 L87.00,104.14 L88.00,104.25 L89.00,104.12 L90.00,104.24 L91.00,104.24 L92.00,104.14 L93.00,104.06 L94.00,104.15 L95.00,104.20 L96.00,104.12 L97.00,104.19 L98.00,104.17 L99.00,104.15 L100.00,104.18 L101.00,104.19 L102.00,104.21 L103.00,104.23 L104.00,104.25 L105.00,104.28 L106.00,104.32 L107.00,104.36 L108.00,104.41 L109.00,104.48 L110.00,104.55 L111.00,104.64 L112.00,104.75 L113.00,104.87 L114.00,105.02 L115.00,105.19 L116.00,105.40 L117.00,105.63 L118.00,105.91 L119.00,106.22 L120.00,106.57 L121.00,106.97 L122.00,107.42 L123.00,107.91 L124.00,108.45 L125.00,109.04 L126.00,109.67 L127.00,110.35 L128.00,111.06 L129.00,111.80 L130.00,112.58 L131.00,113.39 L132.00,114.22 L133.00,115.08 L134.00,115.95 L135.00,116.83 L136.00,117.73 L137.00,118.64 L138.00,119.55 L139.00,120.48 L140.00,121.40 L141.00,122.33 L142.00,123.26 L143.00,124.20 L144.00,125.13 L145.00,126.06 L146.00,126.99 L147.00,127.92 L148.00,128.84 L149.00,129.76 L150.00,130.68 L151.00,131.60 L152.00,132.51 L153.00,133.41 L154.00,134.31 L155.00,135.21 L156.00,136.10 L157.00,136.98 L158.00,137.86 L159.00,138.73 L160.00,139.60 L161.00,140.45 L162.00,141.30" fill="none" stroke="#745bad" stroke-width="1.2" stroke-linejoin="round"/>
<text x="60.50" y="116.40" font-size="9.3" text-anchor="end" fill="#43328a">−0.5 s</text>
<path d="M64.00,113.55 L65.00,113.39 L66.00,113.80 L67.00,113.33 L68.00,113.62 L69.00,113.72 L70.00,113.92 L71.00,113.73 L72.00,114.02 L73.00,113.52 L74.00,113.93 L75.00,113.41 L76.00,113.40 L77.00,113.49 L78.00,113.38 L79.00,113.50 L80.00,113.90 L81.00,113.49 L82.00,113.57 L83.00,113.61 L84.00,113.76 L85.00,113.59 L86.00,113.61 L87.00,113.48 L88.00,113.62 L89.00,113.67 L90.00,113.70 L91.00,113.74 L92.00,113.75 L93.00,113.67 L94.00,113.57 L95.00,113.58 L96.00,113.71 L97.00,113.65 L98.00,113.65 L99.00,113.67 L100.00,113.70 L101.00,113.71 L102.00,113.73 L103.00,113.75 L104.00,113.77 L105.00,113.80 L106.00,113.84 L107.00,113.88 L108.00,113.92 L109.00,113.98 L110.00,114.04 L111.00,114.12 L112.00,114.21 L113.00,114.31 L114.00,114.43 L115.00,114.57 L116.00,114.73 L117.00,114.92 L118.00,115.13 L119.00,115.38 L120.00,115.65 L121.00,115.97 L122.00,116.32 L123.00,116.71 L124.00,117.15 L125.00,117.63 L126.00,118.15 L127.00,118.72 L128.00,119.34 L129.00,119.99 L130.00,120.69 L131.00,121.42 L132.00,122.19 L133.00,123.00 L134.00,123.83 L135.00,124.69 L136.00,125.57 L137.00,126.48 L138.00,127.40 L139.00,128.34 L140.00,129.29 L141.00,130.25 L142.00,131.22 L143.00,132.19 L144.00,133.17 L145.00,134.16 L146.00,135.14 L147.00,136.13 L148.00,137.12 L149.00,138.11 L150.00,139.10 L151.00,140.08 L152.00,141.06 L153.00,142.04 L154.00,143.01 L155.00,143.98 L156.00,144.95 L157.00,145.91 L158.00,146.86 L159.00,147.80 L160.00,148.74 L161.00,149.68 L162.00,150.60" fill="none" stroke="#505050" stroke-width="2.9" stroke-linejoin="round"/>
<path d="M64.00,113.55 L65.00,113.39 L66.00,113.80 L67.00,113.33 L68.00,113.62 L69.00,113.72 L70.00,113.92 L71.00,113.73 L72.00,114.02 L73.00,113.52 L74.00,113.93 L75.00,113.41 L76.00,113.40 L77.00,113.49 L78.00,113.38 L79.00,113.50 L80.00,113.90 L81.00,113.49 L82.00,113.57 L83.00,113.61 L84.00,113.76 L85.00,113.59 L86.00,113.61 L87.00,113.48 L88.00,113.62 L89.00,113.67 L90.00,113.70 L91.00,113.74 L92.00,113.75 L93.00,113.67 L94.00,113.57 L95.00,113.58 L96.00,113.71 L97.00,113.65 L98.00,113.65 L99.00,113.67 L100.00,113.70 L101.00,113.71 L102.00,113.73 L103.00,113.75 L104.00,113.77 L105.00,113.80 L106.00,113.84 L107.00,113.88 L108.00,113.92 L109.00,113.98 L110.00,114.04 L111.00,114.12 L112.00,114.21 L113.00,114.31 L114.00,114.43 L115.00,114.57 L116.00,114.73 L117.00,114.92 L118.00,115.13 L119.00,115.38 L120.00,115.65 L121.00,115.97 L122.00,116.32 L123.00,116.71 L124.00,117.15 L125.00,117.63 L126.00,118.15 L127.00,118.72 L128.00,119.34 L129.00,119.99 L130.00,120.69 L131.00,121.42 L132.00,122.19 L133.00,123.00 L134.00,123.83 L135.00,124.69 L136.00,125.57 L137.00,126.48 L138.00,127.40 L139.00,128.34 L140.00,129.29 L141.00,130.25 L142.00,131.22 L143.00,132.19 L144.00,133.17 L145.00,134.16 L146.00,135.14 L147.00,136.13 L148.00,137.12 L149.00,138.11 L150.00,139.10 L151.00,140.08 L152.00,141.06 L153.00,142.04 L154.00,143.01 L155.00,143.98 L156.00,144.95 L157.00,145.91 L158.00,146.86 L159.00,147.80 L160.00,148.74 L161.00,149.68 L162.00,150.60" fill="none" stroke="#64569f" stroke-width="1.2" stroke-linejoin="round"/>
<line x1="120.00" y1="18.00" x2="175.00" y2="18.00" stroke="#f5a66a" stroke-width="1.5"/>
<path d="M173.5,15 L179.2,18 L173.5,21 Z" fill="#f5a66a"/>
<text x="171.80" y="7.80" font-size="9.6" text-anchor="start" fill="#000" font-weight="bold">b</text>
<line x1="192.70" y1="158.50" x2="192.70" y2="156.30" stroke="#1a1a1a" stroke-width="0.9"/>
<line x1="201.99" y1="158.50" x2="201.99" y2="156.30" stroke="#1a1a1a" stroke-width="0.9"/>
<line x1="209.20" y1="158.50" x2="209.20" y2="156.30" stroke="#1a1a1a" stroke-width="0.9"/>
<line x1="215.09" y1="158.50" x2="215.09" y2="156.30" stroke="#1a1a1a" stroke-width="0.9"/>
<line x1="220.08" y1="158.50" x2="220.08" y2="156.30" stroke="#1a1a1a" stroke-width="0.9"/>
<line x1="224.39" y1="158.50" x2="224.39" y2="156.30" stroke="#1a1a1a" stroke-width="0.9"/>
<line x1="228.20" y1="158.50" x2="228.20" y2="156.30" stroke="#1a1a1a" stroke-width="0.9"/>
<line x1="231.60" y1="158.50" x2="231.60" y2="155.00" stroke="#1a1a1a" stroke-width="0.9"/>
<line x1="185.50" y1="138.82" x2="187.70" y2="138.82" stroke="#1a1a1a" stroke-width="0.9"/>
<line x1="254.00" y1="158.50" x2="254.00" y2="156.30" stroke="#1a1a1a" stroke-width="0.9"/>
<line x1="185.50" y1="121.63" x2="187.70" y2="121.63" stroke="#1a1a1a" stroke-width="0.9"/>
<line x1="267.10" y1="158.50" x2="267.10" y2="156.30" stroke="#1a1a1a" stroke-width="0.9"/>
<line x1="185.50" y1="109.44" x2="187.70" y2="109.44" stroke="#1a1a1a" stroke-width="0.9"/>
<line x1="276.39" y1="158.50" x2="276.39" y2="156.30" stroke="#1a1a1a" stroke-width="0.9"/>
<line x1="185.50" y1="99.98" x2="187.70" y2="99.98" stroke="#1a1a1a" stroke-width="0.9"/>
<line x1="283.60" y1="158.50" x2="283.60" y2="156.30" stroke="#1a1a1a" stroke-width="0.9"/>
<line x1="185.50" y1="92.25" x2="187.70" y2="92.25" stroke="#1a1a1a" stroke-width="0.9"/>
<line x1="289.49" y1="158.50" x2="289.49" y2="156.30" stroke="#1a1a1a" stroke-width="0.9"/>
<line x1="185.50" y1="85.72" x2="187.70" y2="85.72" stroke="#1a1a1a" stroke-width="0.9"/>
<line x1="294.48" y1="158.50" x2="294.48" y2="156.30" stroke="#1a1a1a" stroke-width="0.9"/>
<line x1="185.50" y1="80.06" x2="187.70" y2="80.06" stroke="#1a1a1a" stroke-width="0.9"/>
<line x1="298.79" y1="158.50" x2="298.79" y2="156.30" stroke="#1a1a1a" stroke-width="0.9"/>
<line x1="185.50" y1="75.07" x2="187.70" y2="75.07" stroke="#1a1a1a" stroke-width="0.9"/>
<line x1="185.50" y1="70.60" x2="189.00" y2="70.60" stroke="#1a1a1a" stroke-width="0.9"/>
<line x1="185.50" y1="41.22" x2="187.70" y2="41.22" stroke="#1a1a1a" stroke-width="0.9"/>
<line x1="185.50" y1="24.03" x2="187.70" y2="24.03" stroke="#1a1a1a" stroke-width="0.9"/>
<line x1="185.50" y1="11.84" x2="187.70" y2="11.84" stroke="#1a1a1a" stroke-width="0.9"/>
<line x1="185.50" y1="2.38" x2="187.70" y2="2.38" stroke="#1a1a1a" stroke-width="0.9"/>
<path d="M191.00,8.10 L191.50,8.16 L192.00,8.22 L192.50,8.29 L193.00,8.35 L193.50,8.42 L194.00,8.49 L194.50,8.56 L195.00,8.64 L195.50,8.72 L196.00,8.80 L196.50,8.88 L197.00,8.97 L197.50,9.05 L198.00,9.14 L198.50,9.23 L199.00,9.33 L199.50,9.42 L200.00,9.52 L200.50,9.62 L201.00,9.72 L201.50,9.83 L202.00,9.94 L202.50,10.05 L203.00,10.16 L203.50,10.28 L204.00,10.39 L204.50,10.52 L205.00,10.64 L205.50,10.77 L206.00,10.90 L206.50,11.04 L207.00,11.18 L207.50,11.32 L208.00,11.48 L208.50,11.64 L209.00,11.80 L209.50,11.97 L210.00,12.14 L210.50,12.32 L211.00,12.50 L211.50,12.69 L212.00,12.87 L212.50,13.07 L213.00,13.26 L213.50,13.46 L214.00,13.67 L214.50,13.87 L215.00,14.08 L215.50,14.29 L216.00,14.50 L216.50,14.72 L217.00,14.94 L217.50,15.18 L218.00,15.42 L218.50,15.67 L219.00,15.93 L219.50,16.19 L220.00,16.46 L220.50,16.72 L221.00,17.00 L221.50,17.27 L222.00,17.55 L222.50,17.82 L223.00,18.10 L223.50,18.37 L224.00,18.64 L224.50,18.91 L225.00,19.18 L225.50,19.44 L226.00,19.70 L226.50,19.94 L227.00,20.17 L227.50,20.39 L228.00,20.61 L228.50,20.84 L229.00,21.09 L229.50,21.38 L230.00,21.70 L230.50,22.09 L231.00,22.58 L231.50,23.13 L232.00,23.75 L232.50,24.41 L233.00,25.10 L233.50,25.80 L234.00,26.50 L234.50,27.19 L235.00,27.84 L235.50,28.45 L236.00,29.00 L236.50,29.49 L237.00,29.93 L237.50,30.35 L238.00,30.76 L238.50,31.18 L239.00,31.61 L239.50,32.08 L240.00,32.60 L240.50,33.16 L241.00,33.76 L241.50,34.37 L242.00,35.02 L242.50,35.68 L243.00,36.38 L243.50,37.09 L244.00,37.83 L244.50,38.60 L245.00,39.38 L245.50,40.19 L246.00,41.01 L246.50,41.86 L247.00,42.72 L247.50,43.61 L248.00,44.51 L248.50,45.44 L249.00,46.37 L249.50,47.33 L250.00,48.30 L250.50,49.33 L251.00,50.46 L251.50,51.67 L252.00,52.93 L252.50,54.23 L253.00,55.54 L253.50,56.84 L254.00,58.11 L254.50,59.34 L255.00,60.50 L255.50,61.59 L256.00,62.63 L256.50,63.64 L257.00,64.63 L257.50,65.63 L258.00,66.65 L258.50,67.70 L259.00,68.80 L259.50,69.95 L260.00,71.14 L260.50,72.36 L261.00,73.61 L261.50,74.87 L262.00,76.16 L262.50,77.46 L263.00,78.77 L263.50,80.08 L264.00,81.39 L264.50,82.70 L265.00,84.00 L265.50,85.31 L266.00,86.64 L266.50,87.99 L267.00,89.35 L267.50,90.73 L268.00,92.12 L268.50,93.51 L269.00,94.90 L269.50,96.29 L270.00,97.68 L270.50,99.06 L271.00,100.42 L271.50,101.77 L272.00,103.10 L272.50,104.40 L273.00,105.68 L273.50,106.93 L274.00,108.14 L274.50,109.32 L275.00,110.45 L275.50,111.55 L276.00,112.63 L276.50,113.68 L277.00,114.71 L277.50,115.72 L278.00,116.72 L278.50,117.70 L279.00,118.66 L279.50,119.61 L280.00,120.56 L280.50,121.50 L281.00,122.43 L281.50,123.36 L282.00,124.29 L282.50,125.23 L283.00,126.17 L283.50,127.11 L284.00,128.06 L284.50,129.02 L285.00,130.00 L285.50,130.98 L286.00,131.97 L286.50,132.95 L287.00,133.93 L287.50,134.92 L288.00,135.90 L288.50,136.89 L289.00,137.87 L289.50,138.86 L290.00,139.84 L290.50,140.83 L291.00,141.81 L291.50,142.80 L292.00,143.79 L292.50,144.77 L293.00,145.76 L293.50,146.75 L294.00,147.73 L294.50,148.72 L295.00,149.71 L295.4,151.4 L191,151.4 Z" fill="#e9d9f8"/>
<path d="M191.00,71.30 L191.50,71.30 L192.00,71.30 L192.50,71.30 L193.00,71.30 L193.50,71.30 L194.00,71.30 L194.50,71.30 L195.00,71.30 L195.50,71.30 L196.00,71.30 L196.50,71.30 L197.00,71.30 L197.50,71.30 L198.00,71.30 L198.50,71.30 L199.00,71.30 L199.50,71.30 L200.00,71.30 L200.50,71.30 L201.00,71.30 L201.50,71.30 L202.00,71.30 L202.50,71.30 L203.00,71.30 L203.50,71.30 L204.00,71.30 L204.50,71.30 L205.00,71.30 L205.50,71.30 L206.00,71.30 L206.50,71.30 L207.00,71.30 L207.50,71.30 L208.00,71.30 L208.50,71.30 L209.00,71.30 L209.50,71.30 L210.00,71.30 L210.50,71.30 L211.00,71.30 L211.50,71.30 L212.00,71.30 L212.50,71.30 L213.00,71.30 L213.50,71.31 L214.00,71.31 L214.50,71.31 L215.00,71.31 L215.50,71.32 L216.00,71.32 L216.50,71.32 L217.00,71.33 L217.50,71.33 L218.00,71.33 L218.50,71.34 L219.00,71.34 L219.50,71.35 L220.00,71.35 L220.50,71.36 L221.00,71.36 L221.50,71.37 L222.00,71.37 L222.50,71.38 L223.00,71.39 L223.50,71.39 L224.00,71.40 L224.50,71.41 L225.00,71.41 L225.50,71.42 L226.00,71.43 L226.50,71.44 L227.00,71.45 L227.50,71.45 L228.00,71.46 L228.50,71.47 L229.00,71.48 L229.50,71.49 L230.00,71.50 L230.50,71.51 L231.00,71.53 L231.50,71.54 L232.00,71.56 L232.50,71.59 L233.00,71.62 L233.50,71.65 L234.00,71.68 L234.50,71.71 L235.00,71.75 L235.50,71.80 L236.00,71.84 L236.50,71.89 L237.00,71.94 L237.50,71.99 L238.00,72.05 L238.50,72.11 L239.00,72.17 L239.50,72.23 L240.00,72.30 L240.50,72.38 L241.00,72.48 L241.50,72.60 L242.00,72.74 L242.50,72.89 L243.00,73.07 L243.50,73.26 L244.00,73.46 L244.50,73.67 L245.00,73.90 L245.50,74.14 L246.00,74.38 L246.50,74.64 L247.00,74.90 L247.50,75.19 L248.00,75.52 L248.50,75.88 L249.00,76.29 L249.50,76.72 L250.00,77.18 L250.50,77.66 L251.00,78.16 L251.50,78.67 L252.00,79.20 L252.50,79.76 L253.00,80.37 L253.50,81.03 L254.00,81.73 L254.50,82.45 L255.00,83.19 L255.50,83.93 L256.00,84.67 L256.50,85.40 L257.00,86.10 L257.50,86.79 L258.00,87.49 L258.50,88.18 L259.00,88.88 L259.50,89.57 L260.00,90.27 L260.50,90.96 L261.00,91.65 L261.50,92.33 L262.00,93.00 L262.50,93.66 L263.00,94.31 L263.50,94.95 L264.00,95.58 L264.50,96.21 L265.00,96.84 L265.50,97.47 L266.00,98.11 L266.50,98.76 L267.00,99.42 L267.50,100.10 L268.00,100.80 L268.50,101.52 L269.00,102.25 L269.50,103.00 L270.00,103.76 L270.50,104.54 L271.00,105.33 L271.50,106.13 L272.00,106.94 L272.50,107.76 L273.00,108.60 L273.50,109.45 L274.00,110.33 L274.50,111.22 L275.00,112.13 L275.50,113.05 L276.00,113.98 L276.50,114.92 L277.00,115.87 L277.50,116.82 L278.00,117.76 L278.50,118.71 L279.00,119.65 L279.50,120.58 L280.00,121.50 L280.50,122.41 L281.00,123.32 L281.50,124.23 L282.00,125.14 L282.50,126.05 L283.00,126.96 L283.50,127.86 L284.00,128.77 L284.50,129.67 L285.00,130.57 L285.50,131.48 L286.00,132.38 L286.50,133.28 L287.00,134.19 L287.50,135.09 L288.00,136.00 L288.50,136.91 L289.00,137.81 L289.50,138.72 L290.00,139.62 L290.50,140.53 L291.00,141.44 L291.50,142.34 L292.00,143.25 L292.50,144.16 L293.00,145.06 L293.50,145.97 L294.00,146.88 L294.50,147.78 L295.00,148.69 L295.50,149.59 L296.00,150.50 L296,151.4 L191,151.4 Z" fill="#e3e3e3"/>
<path d="M191.00,71.30 L191.50,71.30 L192.00,71.30 L192.50,71.30 L193.00,71.30 L193.50,71.30 L194.00,71.30 L194.50,71.30 L195.00,71.30 L195.50,71.30 L196.00,71.30 L196.50,71.30 L197.00,71.30 L197.50,71.30 L198.00,71.30 L198.50,71.30 L199.00,71.30 L199.50,71.30 L200.00,71.30 L200.50,71.30 L201.00,71.30 L201.50,71.30 L202.00,71.30 L202.50,71.30 L203.00,71.30 L203.50,71.30 L204.00,71.30 L204.50,71.30 L205.00,71.30 L205.50,71.30 L206.00,71.30 L206.50,71.30 L207.00,71.30 L207.50,71.30 L208.00,71.30 L208.50,71.30 L209.00,71.30 L209.50,71.30 L210.00,71.30 L210.50,71.30 L211.00,71.30 L211.50,71.30 L212.00,71.30 L212.50,71.30 L213.00,71.30 L213.50,71.31 L214.00,71.31 L214.50,71.31 L215.00,71.31 L215.50,71.32 L216.00,71.32 L216.50,71.32 L217.00,71.33 L217.50,71.33 L218.00,71.33 L218.50,71.34 L219.00,71.34 L219.50,71.35 L220.00,71.35 L220.50,71.36 L221.00,71.36 L221.50,71.37 L222.00,71.37 L222.50,71.38 L223.00,71.39 L223.50,71.39 L224.00,71.40 L224.50,71.41 L225.00,71.41 L225.50,71.42 L226.00,71.43 L226.50,71.44 L227.00,71.45 L227.50,71.45 L228.00,71.46 L228.50,71.47 L229.00,71.48 L229.50,71.49 L230.00,71.50 L230.50,71.51 L231.00,71.53 L231.50,71.54 L232.00,71.56 L232.50,71.59 L233.00,71.62 L233.50,71.65 L234.00,71.68 L234.50,71.71 L235.00,71.75 L235.50,71.80 L236.00,71.84 L236.50,71.89 L237.00,71.94 L237.50,71.99 L238.00,72.05 L238.50,72.11 L239.00,72.17 L239.50,72.23 L240.00,72.30 L240.50,72.38 L241.00,72.48 L241.50,72.60 L242.00,72.74 L242.50,72.89 L243.00,73.07 L243.50,73.26 L244.00,73.46 L244.50,73.67 L245.00,73.90 L245.50,74.14 L246.00,74.38 L246.50,74.64 L247.00,74.90 L247.50,75.19 L248.00,75.52 L248.50,75.88 L249.00,76.29 L249.50,76.72 L250.00,77.18 L250.50,77.66 L251.00,78.16 L251.50,78.67 L252.00,79.20 L252.50,79.76 L253.00,80.37 L253.50,81.03 L254.00,81.73 L254.50,82.45 L255.00,83.19 L255.50,83.93 L256.00,84.67 L256.50,85.40 L257.00,86.10 L257.50,86.79 L258.00,87.49 L258.50,88.18 L259.00,88.88 L259.50,89.57 L260.00,90.27 L260.50,90.96 L261.00,91.65 L261.50,92.33 L262.00,93.00 L262.50,93.66 L263.00,94.31 L263.50,94.95 L264.00,95.58 L264.50,96.21 L265.00,96.84 L265.50,97.47 L266.00,98.11 L266.50,98.76 L267.00,99.42 L267.50,100.10 L268.00,100.80 L268.50,101.52 L269.00,102.25 L269.50,103.00 L270.00,103.76 L270.50,104.54 L271.00,105.33 L271.50,106.13 L272.00,106.94 L272.50,107.76 L273.00,108.60 L273.50,109.45 L274.00,110.33 L274.50,111.22 L275.00,112.13 L275.50,113.05 L276.00,113.98 L276.50,114.92 L277.00,115.87 L277.50,116.82 L278.00,117.76 L278.50,118.71 L279.00,119.65 L279.50,120.58 L280.00,121.50 L280.50,122.41 L281.00,123.32 L281.50,124.23 L282.00,125.14 L282.50,126.05 L283.00,126.96 L283.50,127.86 L284.00,128.77 L284.50,129.67 L285.00,130.57 L285.50,131.48 L286.00,132.38 L286.50,133.28 L287.00,134.19 L287.50,135.09 L288.00,136.00 L288.50,136.91 L289.00,137.81 L289.50,138.72 L290.00,139.62 L290.50,140.53 L291.00,141.44 L291.50,142.34 L292.00,143.25 L292.50,144.16 L293.00,145.06 L293.50,145.97 L294.00,146.88 L294.50,147.78 L295.00,148.69 L295.50,149.59 L296.00,150.50" fill="none" stroke="#262626" stroke-width="1.0"/>
<path d="M191.00,8.10 L191.50,8.16 L192.00,8.22 L192.50,8.29 L193.00,8.35 L193.50,8.42 L194.00,8.49 L194.50,8.56 L195.00,8.64 L195.50,8.72 L196.00,8.80 L196.50,8.88 L197.00,8.97 L197.50,9.05 L198.00,9.14 L198.50,9.23 L199.00,9.33 L199.50,9.42 L200.00,9.52 L200.50,9.62 L201.00,9.72 L201.50,9.83 L202.00,9.94 L202.50,10.05 L203.00,10.16 L203.50,10.28 L204.00,10.39 L204.50,10.52 L205.00,10.64 L205.50,10.77 L206.00,10.90 L206.50,11.04 L207.00,11.18 L207.50,11.32 L208.00,11.48 L208.50,11.64 L209.00,11.80 L209.50,11.97 L210.00,12.14 L210.50,12.32 L211.00,12.50 L211.50,12.69 L212.00,12.87 L212.50,13.07 L213.00,13.26 L213.50,13.46 L214.00,13.67 L214.50,13.87 L215.00,14.08 L215.50,14.29 L216.00,14.50 L216.50,14.72 L217.00,14.94 L217.50,15.18 L218.00,15.42 L218.50,15.67 L219.00,15.93 L219.50,16.19 L220.00,16.46 L220.50,16.72 L221.00,17.00 L221.50,17.27 L222.00,17.55 L222.50,17.82 L223.00,18.10 L223.50,18.37 L224.00,18.64 L224.50,18.91 L225.00,19.18 L225.50,19.44 L226.00,19.70 L226.50,19.94 L227.00,20.17 L227.50,20.39 L228.00,20.61 L228.50,20.84 L229.00,21.09 L229.50,21.38 L230.00,21.70 L230.50,22.09 L231.00,22.58 L231.50,23.13 L232.00,23.75 L232.50,24.41 L233.00,25.10 L233.50,25.80 L234.00,26.50 L234.50,27.19 L235.00,27.84 L235.50,28.45 L236.00,29.00 L236.50,29.49 L237.00,29.93 L237.50,30.35 L238.00,30.76 L238.50,31.18 L239.00,31.61 L239.50,32.08 L240.00,32.60 L240.50,33.16 L241.00,33.76 L241.50,34.37 L242.00,35.02 L242.50,35.68 L243.00,36.38 L243.50,37.09 L244.00,37.83 L244.50,38.60 L245.00,39.38 L245.50,40.19 L246.00,41.01 L246.50,41.86 L247.00,42.72 L247.50,43.61 L248.00,44.51 L248.50,45.44 L249.00,46.37 L249.50,47.33 L250.00,48.30 L250.50,49.33 L251.00,50.46 L251.50,51.67 L252.00,52.93 L252.50,54.23 L253.00,55.54 L253.50,56.84 L254.00,58.11 L254.50,59.34 L255.00,60.50 L255.50,61.59 L256.00,62.63 L256.50,63.64 L257.00,64.63 L257.50,65.63 L258.00,66.65 L258.50,67.70 L259.00,68.80 L259.50,69.95 L260.00,71.14 L260.50,72.36 L261.00,73.61 L261.50,74.87 L262.00,76.16 L262.50,77.46 L263.00,78.77 L263.50,80.08 L264.00,81.39 L264.50,82.70 L265.00,84.00 L265.50,85.31 L266.00,86.64 L266.50,87.99 L267.00,89.35 L267.50,90.73 L268.00,92.12 L268.50,93.51 L269.00,94.90 L269.50,96.29 L270.00,97.68 L270.50,99.06 L271.00,100.42 L271.50,101.77 L272.00,103.10 L272.50,104.40 L273.00,105.68 L273.50,106.93 L274.00,108.14 L274.50,109.32 L275.00,110.45 L275.50,111.55 L276.00,112.63 L276.50,113.68 L277.00,114.71 L277.50,115.72 L278.00,116.72 L278.50,117.70 L279.00,118.66 L279.50,119.61 L280.00,120.56 L280.50,121.50 L281.00,122.43 L281.50,123.36 L282.00,124.29 L282.50,125.23 L283.00,126.17 L283.50,127.11 L284.00,128.06 L284.50,129.02 L285.00,130.00 L285.50,130.98 L286.00,131.97 L286.50,132.95 L287.00,133.93 L287.50,134.92 L288.00,135.90 L288.50,136.89 L289.00,137.87 L289.50,138.86 L290.00,139.84 L290.50,140.83 L291.00,141.81 L291.50,142.80 L292.00,143.79 L292.50,144.77 L293.00,145.76 L293.50,146.75 L294.00,147.73 L294.50,148.72 L295.00,149.71" fill="none" stroke="#1b1030" stroke-width="2.3"/>
<path d="M191.00,8.10 L191.50,8.16 L192.00,8.22 L192.50,8.29 L193.00,8.35 L193.50,8.42 L194.00,8.49 L194.50,8.56 L195.00,8.64 L195.50,8.72 L196.00,8.80 L196.50,8.88 L197.00,8.97 L197.50,9.05 L198.00,9.14 L198.50,9.23 L199.00,9.33 L199.50,9.42 L200.00,9.52 L200.50,9.62 L201.00,9.72 L201.50,9.83 L202.00,9.94 L202.50,10.05 L203.00,10.16 L203.50,10.28 L204.00,10.39 L204.50,10.52 L205.00,10.64 L205.50,10.77 L206.00,10.90 L206.50,11.04 L207.00,11.18 L207.50,11.32 L208.00,11.48 L208.50,11.64 L209.00,11.80 L209.50,11.97 L210.00,12.14 L210.50,12.32 L211.00,12.50 L211.50,12.69 L212.00,12.87 L212.50,13.07 L213.00,13.26 L213.50,13.46 L214.00,13.67 L214.50,13.87 L215.00,14.08 L215.50,14.29 L216.00,14.50 L216.50,14.72 L217.00,14.94 L217.50,15.18 L218.00,15.42 L218.50,15.67 L219.00,15.93 L219.50,16.19 L220.00,16.46 L220.50,16.72 L221.00,17.00 L221.50,17.27 L222.00,17.55 L222.50,17.82 L223.00,18.10 L223.50,18.37 L224.00,18.64 L224.50,18.91 L225.00,19.18 L225.50,19.44 L226.00,19.70 L226.50,19.94 L227.00,20.17 L227.50,20.39 L228.00,20.61 L228.50,20.84 L229.00,21.09 L229.50,21.38 L230.00,21.70 L230.50,22.09 L231.00,22.58 L231.50,23.13 L232.00,23.75 L232.50,24.41 L233.00,25.10 L233.50,25.80 L234.00,26.50 L234.50,27.19 L235.00,27.84 L235.50,28.45 L236.00,29.00 L236.50,29.49 L237.00,29.93 L237.50,30.35 L238.00,30.76 L238.50,31.18 L239.00,31.61 L239.50,32.08 L240.00,32.60 L240.50,33.16 L241.00,33.76 L241.50,34.37 L242.00,35.02 L242.50,35.68 L243.00,36.38 L243.50,37.09 L244.00,37.83 L244.50,38.60 L245.00,39.38 L245.50,40.19 L246.00,41.01 L246.50,41.86 L247.00,42.72 L247.50,43.61 L248.00,44.51 L248.50,45.44 L249.00,46.37 L249.50,47.33 L250.00,48.30 L250.50,49.33 L251.00,50.46 L251.50,51.67 L252.00,52.93 L252.50,54.23 L253.00,55.54 L253.50,56.84 L254.00,58.11 L254.50,59.34 L255.00,60.50 L255.50,61.59 L256.00,62.63 L256.50,63.64 L257.00,64.63 L257.50,65.63 L258.00,66.65 L258.50,67.70 L259.00,68.80 L259.50,69.95 L260.00,71.14 L260.50,72.36 L261.00,73.61 L261.50,74.87 L262.00,76.16 L262.50,77.46 L263.00,78.77 L263.50,80.08 L264.00,81.39 L264.50,82.70 L265.00,84.00 L265.50,85.31 L266.00,86.64 L266.50,87.99 L267.00,89.35 L267.50,90.73 L268.00,92.12 L268.50,93.51 L269.00,94.90 L269.50,96.29 L270.00,97.68 L270.50,99.06 L271.00,100.42 L271.50,101.77 L272.00,103.10 L272.50,104.40 L273.00,105.68 L273.50,106.93 L274.00,108.14 L274.50,109.32 L275.00,110.45 L275.50,111.55 L276.00,112.63 L276.50,113.68 L277.00,114.71 L277.50,115.72 L278.00,116.72 L278.50,117.70 L279.00,118.66 L279.50,119.61 L280.00,120.56 L280.50,121.50 L281.00,122.43 L281.50,123.36 L282.00,124.29 L282.50,125.23 L283.00,126.17 L283.50,127.11 L284.00,128.06 L284.50,129.02 L285.00,130.00 L285.50,130.98 L286.00,131.97 L286.50,132.95 L287.00,133.93 L287.50,134.92 L288.00,135.90 L288.50,136.89 L289.00,137.87 L289.50,138.86 L290.00,139.84 L290.50,140.83 L291.00,141.81 L291.50,142.80 L292.00,143.79 L292.50,144.77 L293.00,145.76 L293.50,146.75 L294.00,147.73 L294.50,148.72 L295.00,149.71" fill="none" stroke="#6a22d8" stroke-width="1.2"/>
<circle cx="281.3" cy="126.5" r="1.2" fill="#fff" fill-opacity="0.6" stroke="#151515" stroke-width="0.7"/>
<circle cx="282.0" cy="128.1" r="1.2" fill="#fff" fill-opacity="0.6" stroke="#151515" stroke-width="0.7"/>
<circle cx="283.0" cy="128.0" r="1.2" fill="#fff" fill-opacity="0.6" stroke="#151515" stroke-width="0.7"/>
<circle cx="282.8" cy="130.4" r="1.2" fill="#fff" fill-opacity="0.6" stroke="#151515" stroke-width="0.7"/>
<circle cx="283.7" cy="130.0" r="1.2" fill="#fff" fill-opacity="0.6" stroke="#151515" stroke-width="0.7"/>
<circle cx="285.2" cy="133.8" r="1.2" fill="#fff" fill-opacity="0.6" stroke="#151515" stroke-width="0.7"/>
<circle cx="285.6" cy="134.6" r="1.2" fill="#fff" fill-opacity="0.6" stroke="#151515" stroke-width="0.7"/>
<circle cx="286.0" cy="134.2" r="1.2" fill="#fff" fill-opacity="0.6" stroke="#151515" stroke-width="0.7"/>
<circle cx="286.6" cy="137.9" r="1.2" fill="#fff" fill-opacity="0.6" stroke="#151515" stroke-width="0.7"/>
<circle cx="287.0" cy="138.3" r="1.2" fill="#fff" fill-opacity="0.6" stroke="#151515" stroke-width="0.7"/>
<circle cx="287.8" cy="137.5" r="1.2" fill="#fff" fill-opacity="0.6" stroke="#151515" stroke-width="0.7"/>
<circle cx="288.5" cy="140.7" r="1.2" fill="#fff" fill-opacity="0.6" stroke="#151515" stroke-width="0.7"/>
<circle cx="288.6" cy="138.9" r="1.2" fill="#fff" fill-opacity="0.6" stroke="#151515" stroke-width="0.7"/>
<circle cx="289.8" cy="142.9" r="1.2" fill="#fff" fill-opacity="0.6" stroke="#151515" stroke-width="0.7"/>
<circle cx="290.3" cy="145.2" r="1.2" fill="#fff" fill-opacity="0.6" stroke="#151515" stroke-width="0.7"/>
<circle cx="290.9" cy="146.5" r="1.2" fill="#fff" fill-opacity="0.6" stroke="#151515" stroke-width="0.7"/>
<circle cx="291.1" cy="146.5" r="1.2" fill="#fff" fill-opacity="0.6" stroke="#151515" stroke-width="0.7"/>
<circle cx="291.7" cy="148.3" r="1.2" fill="#fff" fill-opacity="0.6" stroke="#151515" stroke-width="0.7"/>
<circle cx="292.9" cy="147.6" r="1.2" fill="#fff" fill-opacity="0.6" stroke="#151515" stroke-width="0.7"/>
<circle cx="292.6" cy="147.4" r="1.2" fill="#fff" fill-opacity="0.6" stroke="#151515" stroke-width="0.7"/>
<circle cx="294.2" cy="150.2" r="1.2" fill="#fff" fill-opacity="0.6" stroke="#151515" stroke-width="0.7"/>
<circle cx="294.4" cy="149.8" r="1.2" fill="#fff" fill-opacity="0.6" stroke="#151515" stroke-width="0.7"/>
<rect x="185.5" y="0.5" width="114.0" height="158.0" fill="none" stroke="#1a1a1a" stroke-width="1"/>
<text x="194.50" y="56.40" font-size="9.3" text-anchor="start" fill="#1a1a1a">intermediate</text>
<text x="194.50" y="67.80" font-size="9.3" text-anchor="start" fill="#1a1a1a">nanoclusters</text>
<text x="194.50" y="84.00" font-size="9.3" text-anchor="start" fill="#1a1a1a">precursor</text>
<text x="194.50" y="95.20" font-size="9.3" text-anchor="start" fill="#1a1a1a">micelles</text>
<text x="232.20" y="172.20" font-size="9.3" text-anchor="end" fill="#1a1a1a">10</text>
<text x="232.50" y="166.60" font-size="6.6" text-anchor="start" fill="#1a1a1a">−1</text>
<text x="242" y="183.6" font-size="9.3" text-anchor="middle" fill="#1a1a1a"><tspan font-style="italic">q</tspan> (Å<tspan font-size="6.6" dy="-3.6">−1</tspan><tspan dy="3.6">)</tspan></text>
<text transform="translate(179.0,78.2) rotate(-90)" font-size="9.3" text-anchor="middle" fill="#1a1a1a"><tspan font-style="italic">I</tspan>(<tspan font-style="italic">q</tspan>) (arb.u.)</text>
<text x="311.60" y="7.60" font-size="9.6" text-anchor="start" fill="#000" font-weight="bold">d</text>
<line x1="352.60" y1="104.40" x2="352.60" y2="102.00" stroke="#1a1a1a" stroke-width="0.9"/>
<line x1="361.95" y1="104.40" x2="361.95" y2="102.00" stroke="#1a1a1a" stroke-width="0.9"/>
<line x1="371.30" y1="104.40" x2="371.30" y2="102.00" stroke="#1a1a1a" stroke-width="0.9"/>
<line x1="380.65" y1="104.40" x2="380.65" y2="102.00" stroke="#1a1a1a" stroke-width="0.9"/>
<line x1="390.00" y1="104.40" x2="390.00" y2="102.00" stroke="#1a1a1a" stroke-width="0.9"/>
<line x1="399.35" y1="104.40" x2="399.35" y2="102.00" stroke="#1a1a1a" stroke-width="0.9"/>
<line x1="408.70" y1="104.40" x2="408.70" y2="102.00" stroke="#1a1a1a" stroke-width="0.9"/>
<line x1="418.05" y1="104.40" x2="418.05" y2="102.00" stroke="#1a1a1a" stroke-width="0.9"/>
<line x1="427.40" y1="104.40" x2="427.40" y2="102.00" stroke="#1a1a1a" stroke-width="0.9"/>
<line x1="436.75" y1="104.40" x2="436.75" y2="102.00" stroke="#1a1a1a" stroke-width="0.9"/>
<line x1="446.10" y1="104.40" x2="446.10" y2="102.00" stroke="#1a1a1a" stroke-width="0.9"/>
<line x1="455.45" y1="104.40" x2="455.45" y2="102.00" stroke="#1a1a1a" stroke-width="0.9"/>
<line x1="464.80" y1="104.40" x2="464.80" y2="102.00" stroke="#1a1a1a" stroke-width="0.9"/>
<line x1="474.15" y1="104.40" x2="474.15" y2="102.00" stroke="#1a1a1a" stroke-width="0.9"/>
<line x1="483.50" y1="104.40" x2="483.50" y2="102.00" stroke="#1a1a1a" stroke-width="0.9"/>
<line x1="492.85" y1="104.40" x2="492.85" y2="102.00" stroke="#1a1a1a" stroke-width="0.9"/>
<line x1="502.20" y1="104.40" x2="502.20" y2="102.00" stroke="#1a1a1a" stroke-width="0.9"/>
<line x1="511.55" y1="104.40" x2="511.55" y2="102.00" stroke="#1a1a1a" stroke-width="0.9"/>
<line x1="520.90" y1="104.40" x2="520.90" y2="102.00" stroke="#1a1a1a" stroke-width="0.9"/>
<line x1="530.25" y1="104.40" x2="530.25" y2="102.00" stroke="#1a1a1a" stroke-width="0.9"/>
<line x1="352.50" y1="94.96" x2="354.90" y2="94.96" stroke="#1a1a1a" stroke-width="0.9"/>
<line x1="539.50" y1="94.96" x2="537.10" y2="94.96" stroke="#1a1a1a" stroke-width="0.9"/>
<line x1="352.50" y1="85.52" x2="354.90" y2="85.52" stroke="#1a1a1a" stroke-width="0.9"/>
<line x1="539.50" y1="85.52" x2="537.10" y2="85.52" stroke="#1a1a1a" stroke-width="0.9"/>
<line x1="352.50" y1="76.08" x2="354.90" y2="76.08" stroke="#1a1a1a" stroke-width="0.9"/>
<line x1="539.50" y1="76.08" x2="537.10" y2="76.08" stroke="#1a1a1a" stroke-width="0.9"/>
<line x1="352.50" y1="66.64" x2="354.90" y2="66.64" stroke="#1a1a1a" stroke-width="0.9"/>
<line x1="539.50" y1="66.64" x2="537.10" y2="66.64" stroke="#1a1a1a" stroke-width="0.9"/>
<line x1="352.50" y1="57.20" x2="354.90" y2="57.20" stroke="#1a1a1a" stroke-width="0.9"/>
<line x1="539.50" y1="57.20" x2="537.10" y2="57.20" stroke="#1a1a1a" stroke-width="0.9"/>
<line x1="352.50" y1="47.76" x2="354.90" y2="47.76" stroke="#1a1a1a" stroke-width="0.9"/>
<line x1="539.50" y1="47.76" x2="537.10" y2="47.76" stroke="#1a1a1a" stroke-width="0.9"/>
<line x1="352.50" y1="38.32" x2="354.90" y2="38.32" stroke="#1a1a1a" stroke-width="0.9"/>
<line x1="539.50" y1="38.32" x2="537.10" y2="38.32" stroke="#1a1a1a" stroke-width="0.9"/>
<line x1="352.50" y1="28.88" x2="354.90" y2="28.88" stroke="#1a1a1a" stroke-width="0.9"/>
<line x1="539.50" y1="28.88" x2="537.10" y2="28.88" stroke="#1a1a1a" stroke-width="0.9"/>
<line x1="352.50" y1="19.44" x2="354.90" y2="19.44" stroke="#1a1a1a" stroke-width="0.9"/>
<line x1="539.50" y1="19.44" x2="537.10" y2="19.44" stroke="#1a1a1a" stroke-width="0.9"/>
<line x1="352.50" y1="10.00" x2="354.90" y2="10.00" stroke="#1a1a1a" stroke-width="0.9"/>
<line x1="539.50" y1="10.00" x2="537.10" y2="10.00" stroke="#1a1a1a" stroke-width="0.9"/>
<line x1="352.50" y1="0.56" x2="354.90" y2="0.56" stroke="#1a1a1a" stroke-width="0.9"/>
<line x1="539.50" y1="0.56" x2="537.10" y2="0.56" stroke="#1a1a1a" stroke-width="0.9"/>
<text x="347.40" y="107.70" font-size="9.3" text-anchor="end" fill="#1a1a1a">0.0</text>
<text x="347.40" y="60.50" font-size="9.3" text-anchor="end" fill="#1a1a1a">0.5</text>
<text x="347.40" y="13.30" font-size="9.3" text-anchor="end" fill="#1a1a1a">1.0</text>
<text x="352.60" y="115.80" font-size="9.3" text-anchor="middle" fill="#1a1a1a">0</text>
<text x="371.30" y="115.80" font-size="9.3" text-anchor="middle" fill="#1a1a1a">1</text>
<text x="390.00" y="115.80" font-size="9.3" text-anchor="middle" fill="#1a1a1a">2</text>
<text x="408.70" y="115.80" font-size="9.3" text-anchor="middle" fill="#1a1a1a">3</text>
<text x="427.40" y="115.80" font-size="9.3" text-anchor="middle" fill="#1a1a1a">4</text>
<text x="446.10" y="115.80" font-size="9.3" text-anchor="middle" fill="#1a1a1a">5</text>
<text x="464.80" y="115.80" font-size="9.3" text-anchor="middle" fill="#1a1a1a">6</text>
<text x="483.50" y="115.80" font-size="9.3" text-anchor="middle" fill="#1a1a1a">7</text>
<text x="502.20" y="115.80" font-size="9.3" text-anchor="middle" fill="#1a1a1a">8</text>
<text x="520.90" y="115.80" font-size="9.3" text-anchor="middle" fill="#1a1a1a">9</text>
<text x="539.60" y="115.80" font-size="9.3" text-anchor="middle" fill="#1a1a1a">10</text>
<text x="446.00" y="130.00" font-size="9.3" text-anchor="middle" fill="#1a1a1a">time (s)</text>
<text transform="translate(319.2,63.5) rotate(-90)" font-size="9.3" text-anchor="middle" fill="#1a1a1a">nanocluster number</text>
<text transform="translate(328.6,63.5) rotate(-90)" font-size="9.3" text-anchor="middle" fill="#1a1a1a">density (norm.)</text>
<line x1="353.90" y1="74.90" x2="353.90" y2="94.90" stroke="#b8b8b8" stroke-width="0.8"/>
<line x1="352.80" y1="74.90" x2="355.00" y2="74.90" stroke="#b8b8b8" stroke-width="0.8"/>
<line x1="352.80" y1="94.90" x2="355.00" y2="94.90" stroke="#b8b8b8" stroke-width="0.8"/>
<line x1="357.60" y1="41.70" x2="357.60" y2="63.70" stroke="#b8b8b8" stroke-width="0.8"/>
<line x1="356.50" y1="41.70" x2="358.70" y2="41.70" stroke="#b8b8b8" stroke-width="0.8"/>
<line x1="356.50" y1="63.70" x2="358.70" y2="63.70" stroke="#b8b8b8" stroke-width="0.8"/>
<line x1="361.40" y1="16.10" x2="361.40" y2="26.10" stroke="#b8b8b8" stroke-width="0.8"/>
<line x1="360.30" y1="16.10" x2="362.50" y2="16.10" stroke="#b8b8b8" stroke-width="0.8"/>
<line x1="360.30" y1="26.10" x2="362.50" y2="26.10" stroke="#b8b8b8" stroke-width="0.8"/>
<line x1="365.10" y1="5.20" x2="365.10" y2="14.60" stroke="#b8b8b8" stroke-width="0.8"/>
<line x1="364.00" y1="5.20" x2="366.20" y2="5.20" stroke="#b8b8b8" stroke-width="0.8"/>
<line x1="364.00" y1="14.60" x2="366.20" y2="14.60" stroke="#b8b8b8" stroke-width="0.8"/>
<line x1="368.80" y1="7.40" x2="368.80" y2="12.40" stroke="#b8b8b8" stroke-width="0.8"/>
<line x1="367.70" y1="7.40" x2="369.90" y2="7.40" stroke="#b8b8b8" stroke-width="0.8"/>
<line x1="367.70" y1="12.40" x2="369.90" y2="12.40" stroke="#b8b8b8" stroke-width="0.8"/>
<line x1="372.60" y1="9.10" x2="372.60" y2="14.10" stroke="#b8b8b8" stroke-width="0.8"/>
<line x1="371.50" y1="9.10" x2="373.70" y2="9.10" stroke="#b8b8b8" stroke-width="0.8"/>
<line x1="371.50" y1="14.10" x2="373.70" y2="14.10" stroke="#b8b8b8" stroke-width="0.8"/>
<line x1="376.30" y1="9.00" x2="376.30" y2="15.00" stroke="#b8b8b8" stroke-width="0.8"/>
<line x1="375.20" y1="9.00" x2="377.40" y2="9.00" stroke="#b8b8b8" stroke-width="0.8"/>
<line x1="375.20" y1="15.00" x2="377.40" y2="15.00" stroke="#b8b8b8" stroke-width="0.8"/>
<line x1="380.00" y1="15.70" x2="380.00" y2="20.70" stroke="#b8b8b8" stroke-width="0.8"/>
<line x1="378.90" y1="15.70" x2="381.10" y2="15.70" stroke="#b8b8b8" stroke-width="0.8"/>
<line x1="378.90" y1="20.70" x2="381.10" y2="20.70" stroke="#b8b8b8" stroke-width="0.8"/>
<line x1="383.70" y1="16.80" x2="383.70" y2="21.80" stroke="#b8b8b8" stroke-width="0.8"/>
<line x1="382.60" y1="16.80" x2="384.80" y2="16.80" stroke="#b8b8b8" stroke-width="0.8"/>
<line x1="382.60" y1="21.80" x2="384.80" y2="21.80" stroke="#b8b8b8" stroke-width="0.8"/>
<line x1="387.50" y1="21.10" x2="387.50" y2="26.10" stroke="#b8b8b8" stroke-width="0.8"/>
<line x1="386.40" y1="21.10" x2="388.60" y2="21.10" stroke="#b8b8b8" stroke-width="0.8"/>
<line x1="386.40" y1="26.10" x2="388.60" y2="26.10" stroke="#b8b8b8" stroke-width="0.8"/>
<line x1="391.20" y1="22.40" x2="391.20" y2="26.40" stroke="#b8b8b8" stroke-width="0.8"/>
<line x1="390.10" y1="22.40" x2="392.30" y2="22.40" stroke="#b8b8b8" stroke-width="0.8"/>
<line x1="390.10" y1="26.40" x2="392.30" y2="26.40" stroke="#b8b8b8" stroke-width="0.8"/>
<line x1="394.90" y1="27.40" x2="394.90" y2="31.40" stroke="#b8b8b8" stroke-width="0.8"/>
<line x1="393.80" y1="27.40" x2="396.00" y2="27.40" stroke="#b8b8b8" stroke-width="0.8"/>
<line x1="393.80" y1="31.40" x2="396.00" y2="31.40" stroke="#b8b8b8" stroke-width="0.8"/>
<line x1="398.70" y1="29.10" x2="398.70" y2="33.10" stroke="#b8b8b8" stroke-width="0.8"/>
<line x1="397.60" y1="29.10" x2="399.80" y2="29.10" stroke="#b8b8b8" stroke-width="0.8"/>
<line x1="397.60" y1="33.10" x2="399.80" y2="33.10" stroke="#b8b8b8" stroke-width="0.8"/>
<line x1="402.40" y1="30.10" x2="402.40" y2="34.10" stroke="#b8b8b8" stroke-width="0.8"/>
<line x1="401.30" y1="30.10" x2="403.50" y2="30.10" stroke="#b8b8b8" stroke-width="0.8"/>
<line x1="401.30" y1="34.10" x2="403.50" y2="34.10" stroke="#b8b8b8" stroke-width="0.8"/>
<line x1="406.30" y1="31.70" x2="406.30" y2="35.70" stroke="#b8b8b8" stroke-width="0.8"/>
<line x1="405.20" y1="31.70" x2="407.40" y2="31.70" stroke="#b8b8b8" stroke-width="0.8"/>
<line x1="405.20" y1="35.70" x2="407.40" y2="35.70" stroke="#b8b8b8" stroke-width="0.8"/>
<line x1="410.00" y1="32.20" x2="410.00" y2="36.20" stroke="#b8b8b8" stroke-width="0.8"/>
<line x1="408.90" y1="32.20" x2="411.10" y2="32.20" stroke="#b8b8b8" stroke-width="0.8"/>
<line x1="408.90" y1="36.20" x2="411.10" y2="36.20" stroke="#b8b8b8" stroke-width="0.8"/>
<line x1="413.80" y1="33.60" x2="413.80" y2="37.60" stroke="#b8b8b8" stroke-width="0.8"/>
<line x1="412.70" y1="33.60" x2="414.90" y2="33.60" stroke="#b8b8b8" stroke-width="0.8"/>
<line x1="412.70" y1="37.60" x2="414.90" y2="37.60" stroke="#b8b8b8" stroke-width="0.8"/>
<line x1="417.50" y1="35.70" x2="417.50" y2="39.70" stroke="#b8b8b8" stroke-width="0.8"/>
<line x1="416.40" y1="35.70" x2="418.60" y2="35.70" stroke="#b8b8b8" stroke-width="0.8"/>
<line x1="416.40" y1="39.70" x2="418.60" y2="39.70" stroke="#b8b8b8" stroke-width="0.8"/>
<line x1="421.20" y1="34.60" x2="421.20" y2="38.60" stroke="#b8b8b8" stroke-width="0.8"/>
<line x1="420.10" y1="34.60" x2="422.30" y2="34.60" stroke="#b8b8b8" stroke-width="0.8"/>
<line x1="420.10" y1="38.60" x2="422.30" y2="38.60" stroke="#b8b8b8" stroke-width="0.8"/>
<line x1="424.60" y1="35.50" x2="424.60" y2="39.50" stroke="#b8b8b8" stroke-width="0.8"/>
<line x1="423.50" y1="35.50" x2="425.70" y2="35.50" stroke="#b8b8b8" stroke-width="0.8"/>
<line x1="423.50" y1="39.50" x2="425.70" y2="39.50" stroke="#b8b8b8" stroke-width="0.8"/>
<line x1="428.30" y1="37.00" x2="428.30" y2="41.00" stroke="#b8b8b8" stroke-width="0.8"/>
<line x1="427.20" y1="37.00" x2="429.40" y2="37.00" stroke="#b8b8b8" stroke-width="0.8"/>
<line x1="427.20" y1="41.00" x2="429.40" y2="41.00" stroke="#b8b8b8" stroke-width="0.8"/>
<line x1="432.00" y1="38.40" x2="432.00" y2="42.40" stroke="#b8b8b8" stroke-width="0.8"/>
<line x1="430.90" y1="38.40" x2="433.10" y2="38.40" stroke="#b8b8b8" stroke-width="0.8"/>
<line x1="430.90" y1="42.40" x2="433.10" y2="42.40" stroke="#b8b8b8" stroke-width="0.8"/>
<line x1="436.00" y1="39.50" x2="436.00" y2="43.50" stroke="#b8b8b8" stroke-width="0.8"/>
<line x1="434.90" y1="39.50" x2="437.10" y2="39.50" stroke="#b8b8b8" stroke-width="0.8"/>
<line x1="434.90" y1="43.50" x2="437.10" y2="43.50" stroke="#b8b8b8" stroke-width="0.8"/>
<line x1="439.70" y1="40.50" x2="439.70" y2="44.50" stroke="#b8b8b8" stroke-width="0.8"/>
<line x1="438.60" y1="40.50" x2="440.80" y2="40.50" stroke="#b8b8b8" stroke-width="0.8"/>
<line x1="438.60" y1="44.50" x2="440.80" y2="44.50" stroke="#b8b8b8" stroke-width="0.8"/>
<line x1="443.40" y1="40.50" x2="443.40" y2="44.50" stroke="#b8b8b8" stroke-width="0.8"/>
<line x1="442.30" y1="40.50" x2="444.50" y2="40.50" stroke="#b8b8b8" stroke-width="0.8"/>
<line x1="442.30" y1="44.50" x2="444.50" y2="44.50" stroke="#b8b8b8" stroke-width="0.8"/>
<line x1="447.10" y1="40.10" x2="447.10" y2="44.10" stroke="#b8b8b8" stroke-width="0.8"/>
<line x1="446.00" y1="40.10" x2="448.20" y2="40.10" stroke="#b8b8b8" stroke-width="0.8"/>
<line x1="446.00" y1="44.10" x2="448.20" y2="44.10" stroke="#b8b8b8" stroke-width="0.8"/>
<line x1="451.00" y1="46.90" x2="451.00" y2="50.90" stroke="#b8b8b8" stroke-width="0.8"/>
<line x1="449.90" y1="46.90" x2="452.10" y2="46.90" stroke="#b8b8b8" stroke-width="0.8"/>
<line x1="449.90" y1="50.90" x2="452.10" y2="50.90" stroke="#b8b8b8" stroke-width="0.8"/>
<line x1="454.80" y1="50.30" x2="454.80" y2="54.30" stroke="#b8b8b8" stroke-width="0.8"/>
<line x1="453.70" y1="50.30" x2="455.90" y2="50.30" stroke="#b8b8b8" stroke-width="0.8"/>
<line x1="453.70" y1="54.30" x2="455.90" y2="54.30" stroke="#b8b8b8" stroke-width="0.8"/>
<line x1="458.60" y1="47.40" x2="458.60" y2="51.40" stroke="#b8b8b8" stroke-width="0.8"/>
<line x1="457.50" y1="47.40" x2="459.70" y2="47.40" stroke="#b8b8b8" stroke-width="0.8"/>
<line x1="457.50" y1="51.40" x2="459.70" y2="51.40" stroke="#b8b8b8" stroke-width="0.8"/>
<line x1="462.50" y1="49.50" x2="462.50" y2="53.50" stroke="#b8b8b8" stroke-width="0.8"/>
<line x1="461.40" y1="49.50" x2="463.60" y2="49.50" stroke="#b8b8b8" stroke-width="0.8"/>
<line x1="461.40" y1="53.50" x2="463.60" y2="53.50" stroke="#b8b8b8" stroke-width="0.8"/>
<line x1="466.20" y1="50.50" x2="466.20" y2="54.50" stroke="#b8b8b8" stroke-width="0.8"/>
<line x1="465.10" y1="50.50" x2="467.30" y2="50.50" stroke="#b8b8b8" stroke-width="0.8"/>
<line x1="465.10" y1="54.50" x2="467.30" y2="54.50" stroke="#b8b8b8" stroke-width="0.8"/>
<line x1="469.90" y1="53.20" x2="469.90" y2="57.20" stroke="#b8b8b8" stroke-width="0.8"/>
<line x1="468.80" y1="53.20" x2="471.00" y2="53.20" stroke="#b8b8b8" stroke-width="0.8"/>
<line x1="468.80" y1="57.20" x2="471.00" y2="57.20" stroke="#b8b8b8" stroke-width="0.8"/>
<line x1="473.60" y1="52.40" x2="473.60" y2="56.40" stroke="#b8b8b8" stroke-width="0.8"/>
<line x1="472.50" y1="52.40" x2="474.70" y2="52.40" stroke="#b8b8b8" stroke-width="0.8"/>
<line x1="472.50" y1="56.40" x2="474.70" y2="56.40" stroke="#b8b8b8" stroke-width="0.8"/>
<line x1="477.40" y1="53.60" x2="477.40" y2="57.60" stroke="#b8b8b8" stroke-width="0.8"/>
<line x1="476.30" y1="53.60" x2="478.50" y2="53.60" stroke="#b8b8b8" stroke-width="0.8"/>
<line x1="476.30" y1="57.60" x2="478.50" y2="57.60" stroke="#b8b8b8" stroke-width="0.8"/>
<line x1="481.10" y1="49.50" x2="481.10" y2="53.50" stroke="#b8b8b8" stroke-width="0.8"/>
<line x1="480.00" y1="49.50" x2="482.20" y2="49.50" stroke="#b8b8b8" stroke-width="0.8"/>
<line x1="480.00" y1="53.50" x2="482.20" y2="53.50" stroke="#b8b8b8" stroke-width="0.8"/>
<line x1="485.00" y1="49.90" x2="485.00" y2="53.90" stroke="#b8b8b8" stroke-width="0.8"/>
<line x1="483.90" y1="49.90" x2="486.10" y2="49.90" stroke="#b8b8b8" stroke-width="0.8"/>
<line x1="483.90" y1="53.90" x2="486.10" y2="53.90" stroke="#b8b8b8" stroke-width="0.8"/>
<line x1="488.50" y1="52.20" x2="488.50" y2="56.20" stroke="#b8b8b8" stroke-width="0.8"/>
<line x1="487.40" y1="52.20" x2="489.60" y2="52.20" stroke="#b8b8b8" stroke-width="0.8"/>
<line x1="487.40" y1="56.20" x2="489.60" y2="56.20" stroke="#b8b8b8" stroke-width="0.8"/>
<line x1="492.20" y1="51.00" x2="492.20" y2="55.00" stroke="#b8b8b8" stroke-width="0.8"/>
<line x1="491.10" y1="51.00" x2="493.30" y2="51.00" stroke="#b8b8b8" stroke-width="0.8"/>
<line x1="491.10" y1="55.00" x2="493.30" y2="55.00" stroke="#b8b8b8" stroke-width="0.8"/>
<line x1="496.00" y1="51.60" x2="496.00" y2="55.60" stroke="#b8b8b8" stroke-width="0.8"/>
<line x1="494.90" y1="51.60" x2="497.10" y2="51.60" stroke="#b8b8b8" stroke-width="0.8"/>
<line x1="494.90" y1="55.60" x2="497.10" y2="55.60" stroke="#b8b8b8" stroke-width="0.8"/>
<line x1="499.80" y1="53.30" x2="499.80" y2="57.30" stroke="#b8b8b8" stroke-width="0.8"/>
<line x1="498.70" y1="53.30" x2="500.90" y2="53.30" stroke="#b8b8b8" stroke-width="0.8"/>
<line x1="498.70" y1="57.30" x2="500.90" y2="57.30" stroke="#b8b8b8" stroke-width="0.8"/>
<line x1="503.40" y1="52.10" x2="503.40" y2="56.10" stroke="#b8b8b8" stroke-width="0.8"/>
<line x1="502.30" y1="52.10" x2="504.50" y2="52.10" stroke="#b8b8b8" stroke-width="0.8"/>
<line x1="502.30" y1="56.10" x2="504.50" y2="56.10" stroke="#b8b8b8" stroke-width="0.8"/>
<line x1="507.20" y1="52.50" x2="507.20" y2="56.50" stroke="#b8b8b8" stroke-width="0.8"/>
<line x1="506.10" y1="52.50" x2="508.30" y2="52.50" stroke="#b8b8b8" stroke-width="0.8"/>
<line x1="506.10" y1="56.50" x2="508.30" y2="56.50" stroke="#b8b8b8" stroke-width="0.8"/>
<line x1="511.00" y1="53.90" x2="511.00" y2="57.90" stroke="#b8b8b8" stroke-width="0.8"/>
<line x1="509.90" y1="53.90" x2="512.10" y2="53.90" stroke="#b8b8b8" stroke-width="0.8"/>
<line x1="509.90" y1="57.90" x2="512.10" y2="57.90" stroke="#b8b8b8" stroke-width="0.8"/>
<line x1="514.70" y1="54.70" x2="514.70" y2="58.70" stroke="#b8b8b8" stroke-width="0.8"/>
<line x1="513.60" y1="54.70" x2="515.80" y2="54.70" stroke="#b8b8b8" stroke-width="0.8"/>
<line x1="513.60" y1="58.70" x2="515.80" y2="58.70" stroke="#b8b8b8" stroke-width="0.8"/>
<line x1="518.40" y1="54.70" x2="518.40" y2="58.70" stroke="#b8b8b8" stroke-width="0.8"/>
<line x1="517.30" y1="54.70" x2="519.50" y2="54.70" stroke="#b8b8b8" stroke-width="0.8"/>
<line x1="517.30" y1="58.70" x2="519.50" y2="58.70" stroke="#b8b8b8" stroke-width="0.8"/>
<line x1="522.10" y1="55.10" x2="522.10" y2="59.10" stroke="#b8b8b8" stroke-width="0.8"/>
<line x1="521.00" y1="55.10" x2="523.20" y2="55.10" stroke="#b8b8b8" stroke-width="0.8"/>
<line x1="521.00" y1="59.10" x2="523.20" y2="59.10" stroke="#b8b8b8" stroke-width="0.8"/>
<line x1="525.90" y1="56.40" x2="525.90" y2="60.40" stroke="#b8b8b8" stroke-width="0.8"/>
<line x1="524.80" y1="56.40" x2="527.00" y2="56.40" stroke="#b8b8b8" stroke-width="0.8"/>
<line x1="524.80" y1="60.40" x2="527.00" y2="60.40" stroke="#b8b8b8" stroke-width="0.8"/>
<line x1="529.70" y1="55.90" x2="529.70" y2="59.90" stroke="#b8b8b8" stroke-width="0.8"/>
<line x1="528.60" y1="55.90" x2="530.80" y2="55.90" stroke="#b8b8b8" stroke-width="0.8"/>
<line x1="528.60" y1="59.90" x2="530.80" y2="59.90" stroke="#b8b8b8" stroke-width="0.8"/>
<line x1="533.40" y1="57.00" x2="533.40" y2="61.00" stroke="#b8b8b8" stroke-width="0.8"/>
<line x1="532.30" y1="57.00" x2="534.50" y2="57.00" stroke="#b8b8b8" stroke-width="0.8"/>
<line x1="532.30" y1="61.00" x2="534.50" y2="61.00" stroke="#b8b8b8" stroke-width="0.8"/>
<line x1="537.20" y1="56.10" x2="537.20" y2="60.10" stroke="#b8b8b8" stroke-width="0.8"/>
<line x1="536.10" y1="56.10" x2="538.30" y2="56.10" stroke="#b8b8b8" stroke-width="0.8"/>
<line x1="536.10" y1="60.10" x2="538.30" y2="60.10" stroke="#b8b8b8" stroke-width="0.8"/>
<line x1="363.10" y1="72.40" x2="363.10" y2="97.00" stroke="#b8b8b8" stroke-width="0.8"/>
<line x1="362.00" y1="72.40" x2="364.20" y2="72.40" stroke="#b8b8b8" stroke-width="0.8"/>
<line x1="362.00" y1="97.00" x2="364.20" y2="97.00" stroke="#b8b8b8" stroke-width="0.8"/>
<line x1="367.20" y1="53.00" x2="367.20" y2="72.00" stroke="#b8b8b8" stroke-width="0.8"/>
<line x1="366.10" y1="53.00" x2="368.30" y2="53.00" stroke="#b8b8b8" stroke-width="0.8"/>
<line x1="366.10" y1="72.00" x2="368.30" y2="72.00" stroke="#b8b8b8" stroke-width="0.8"/>
<line x1="370.60" y1="33.40" x2="370.60" y2="53.40" stroke="#b8b8b8" stroke-width="0.8"/>
<line x1="369.50" y1="33.40" x2="371.70" y2="33.40" stroke="#b8b8b8" stroke-width="0.8"/>
<line x1="369.50" y1="53.40" x2="371.70" y2="53.40" stroke="#b8b8b8" stroke-width="0.8"/>
<line x1="374.40" y1="18.60" x2="374.40" y2="40.60" stroke="#b8b8b8" stroke-width="0.8"/>
<line x1="373.30" y1="18.60" x2="375.50" y2="18.60" stroke="#b8b8b8" stroke-width="0.8"/>
<line x1="373.30" y1="40.60" x2="375.50" y2="40.60" stroke="#b8b8b8" stroke-width="0.8"/>
<line x1="378.20" y1="16.50" x2="378.20" y2="22.90" stroke="#b8b8b8" stroke-width="0.8"/>
<line x1="377.10" y1="16.50" x2="379.30" y2="16.50" stroke="#b8b8b8" stroke-width="0.8"/>
<line x1="377.10" y1="22.90" x2="379.30" y2="22.90" stroke="#b8b8b8" stroke-width="0.8"/>
<line x1="381.90" y1="15.20" x2="381.90" y2="21.20" stroke="#b8b8b8" stroke-width="0.8"/>
<line x1="380.80" y1="15.20" x2="383.00" y2="15.20" stroke="#b8b8b8" stroke-width="0.8"/>
<line x1="380.80" y1="21.20" x2="383.00" y2="21.20" stroke="#b8b8b8" stroke-width="0.8"/>
<line x1="385.60" y1="9.40" x2="385.60" y2="15.40" stroke="#b8b8b8" stroke-width="0.8"/>
<line x1="384.50" y1="9.40" x2="386.70" y2="9.40" stroke="#b8b8b8" stroke-width="0.8"/>
<line x1="384.50" y1="15.40" x2="386.70" y2="15.40" stroke="#b8b8b8" stroke-width="0.8"/>
<line x1="389.40" y1="7.80" x2="389.40" y2="13.80" stroke="#b8b8b8" stroke-width="0.8"/>
<line x1="388.30" y1="7.80" x2="390.50" y2="7.80" stroke="#b8b8b8" stroke-width="0.8"/>
<line x1="388.30" y1="13.80" x2="390.50" y2="13.80" stroke="#b8b8b8" stroke-width="0.8"/>
<line x1="393.30" y1="9.50" x2="393.30" y2="17.50" stroke="#b8b8b8" stroke-width="0.8"/>
<line x1="392.20" y1="9.50" x2="394.40" y2="9.50" stroke="#b8b8b8" stroke-width="0.8"/>
<line x1="392.20" y1="17.50" x2="394.40" y2="17.50" stroke="#b8b8b8" stroke-width="0.8"/>
<line x1="397.00" y1="5.70" x2="397.00" y2="13.70" stroke="#b8b8b8" stroke-width="0.8"/>
<line x1="395.90" y1="5.70" x2="398.10" y2="5.70" stroke="#b8b8b8" stroke-width="0.8"/>
<line x1="395.90" y1="13.70" x2="398.10" y2="13.70" stroke="#b8b8b8" stroke-width="0.8"/>
<line x1="400.50" y1="13.00" x2="400.50" y2="21.00" stroke="#b8b8b8" stroke-width="0.8"/>
<line x1="399.40" y1="13.00" x2="401.60" y2="13.00" stroke="#b8b8b8" stroke-width="0.8"/>
<line x1="399.40" y1="21.00" x2="401.60" y2="21.00" stroke="#b8b8b8" stroke-width="0.8"/>
<line x1="404.30" y1="15.20" x2="404.30" y2="21.20" stroke="#b8b8b8" stroke-width="0.8"/>
<line x1="403.20" y1="15.20" x2="405.40" y2="15.20" stroke="#b8b8b8" stroke-width="0.8"/>
<line x1="403.20" y1="21.20" x2="405.40" y2="21.20" stroke="#b8b8b8" stroke-width="0.8"/>
<line x1="408.20" y1="14.10" x2="408.20" y2="18.10" stroke="#b8b8b8" stroke-width="0.8"/>
<line x1="407.10" y1="14.10" x2="409.30" y2="14.10" stroke="#b8b8b8" stroke-width="0.8"/>
<line x1="407.10" y1="18.10" x2="409.30" y2="18.10" stroke="#b8b8b8" stroke-width="0.8"/>
<line x1="411.90" y1="16.20" x2="411.90" y2="20.20" stroke="#b8b8b8" stroke-width="0.8"/>
<line x1="410.80" y1="16.20" x2="413.00" y2="16.20" stroke="#b8b8b8" stroke-width="0.8"/>
<line x1="410.80" y1="20.20" x2="413.00" y2="20.20" stroke="#b8b8b8" stroke-width="0.8"/>
<line x1="415.60" y1="15.20" x2="415.60" y2="19.20" stroke="#b8b8b8" stroke-width="0.8"/>
<line x1="414.50" y1="15.20" x2="416.70" y2="15.20" stroke="#b8b8b8" stroke-width="0.8"/>
<line x1="414.50" y1="19.20" x2="416.70" y2="19.20" stroke="#b8b8b8" stroke-width="0.8"/>
<line x1="419.40" y1="18.10" x2="419.40" y2="22.10" stroke="#b8b8b8" stroke-width="0.8"/>
<line x1="418.30" y1="18.10" x2="420.50" y2="18.10" stroke="#b8b8b8" stroke-width="0.8"/>
<line x1="418.30" y1="22.10" x2="420.50" y2="22.10" stroke="#b8b8b8" stroke-width="0.8"/>
<line x1="423.30" y1="21.40" x2="423.30" y2="25.40" stroke="#b8b8b8" stroke-width="0.8"/>
<line x1="422.20" y1="21.40" x2="424.40" y2="21.40" stroke="#b8b8b8" stroke-width="0.8"/>
<line x1="422.20" y1="25.40" x2="424.40" y2="25.40" stroke="#b8b8b8" stroke-width="0.8"/>
<line x1="427.20" y1="23.10" x2="427.20" y2="27.10" stroke="#b8b8b8" stroke-width="0.8"/>
<line x1="426.10" y1="23.10" x2="428.30" y2="23.10" stroke="#b8b8b8" stroke-width="0.8"/>
<line x1="426.10" y1="27.10" x2="428.30" y2="27.10" stroke="#b8b8b8" stroke-width="0.8"/>
<line x1="430.80" y1="24.10" x2="430.80" y2="28.10" stroke="#b8b8b8" stroke-width="0.8"/>
<line x1="429.70" y1="24.10" x2="431.90" y2="24.10" stroke="#b8b8b8" stroke-width="0.8"/>
<line x1="429.70" y1="28.10" x2="431.90" y2="28.10" stroke="#b8b8b8" stroke-width="0.8"/>
<line x1="434.50" y1="26.60" x2="434.50" y2="30.60" stroke="#b8b8b8" stroke-width="0.8"/>
<line x1="433.40" y1="26.60" x2="435.60" y2="26.60" stroke="#b8b8b8" stroke-width="0.8"/>
<line x1="433.40" y1="30.60" x2="435.60" y2="30.60" stroke="#b8b8b8" stroke-width="0.8"/>
<line x1="438.20" y1="26.60" x2="438.20" y2="30.60" stroke="#b8b8b8" stroke-width="0.8"/>
<line x1="437.10" y1="26.60" x2="439.30" y2="26.60" stroke="#b8b8b8" stroke-width="0.8"/>
<line x1="437.10" y1="30.60" x2="439.30" y2="30.60" stroke="#b8b8b8" stroke-width="0.8"/>
<line x1="441.70" y1="27.00" x2="441.70" y2="31.00" stroke="#b8b8b8" stroke-width="0.8"/>
<line x1="440.60" y1="27.00" x2="442.80" y2="27.00" stroke="#b8b8b8" stroke-width="0.8"/>
<line x1="440.60" y1="31.00" x2="442.80" y2="31.00" stroke="#b8b8b8" stroke-width="0.8"/>
<line x1="445.50" y1="28.30" x2="445.50" y2="32.30" stroke="#b8b8b8" stroke-width="0.8"/>
<line x1="444.40" y1="28.30" x2="446.60" y2="28.30" stroke="#b8b8b8" stroke-width="0.8"/>
<line x1="444.40" y1="32.30" x2="446.60" y2="32.30" stroke="#b8b8b8" stroke-width="0.8"/>
<line x1="449.20" y1="29.30" x2="449.20" y2="33.30" stroke="#b8b8b8" stroke-width="0.8"/>
<line x1="448.10" y1="29.30" x2="450.30" y2="29.30" stroke="#b8b8b8" stroke-width="0.8"/>
<line x1="448.10" y1="33.30" x2="450.30" y2="33.30" stroke="#b8b8b8" stroke-width="0.8"/>
<line x1="452.90" y1="29.70" x2="452.90" y2="33.70" stroke="#b8b8b8" stroke-width="0.8"/>
<line x1="451.80" y1="29.70" x2="454.00" y2="29.70" stroke="#b8b8b8" stroke-width="0.8"/>
<line x1="451.80" y1="33.70" x2="454.00" y2="33.70" stroke="#b8b8b8" stroke-width="0.8"/>
<line x1="456.60" y1="31.40" x2="456.60" y2="35.40" stroke="#b8b8b8" stroke-width="0.8"/>
<line x1="455.50" y1="31.40" x2="457.70" y2="31.40" stroke="#b8b8b8" stroke-width="0.8"/>
<line x1="455.50" y1="35.40" x2="457.70" y2="35.40" stroke="#b8b8b8" stroke-width="0.8"/>
<line x1="460.60" y1="34.10" x2="460.60" y2="38.10" stroke="#b8b8b8" stroke-width="0.8"/>
<line x1="459.50" y1="34.10" x2="461.70" y2="34.10" stroke="#b8b8b8" stroke-width="0.8"/>
<line x1="459.50" y1="38.10" x2="461.70" y2="38.10" stroke="#b8b8b8" stroke-width="0.8"/>
<line x1="464.30" y1="34.60" x2="464.30" y2="38.60" stroke="#b8b8b8" stroke-width="0.8"/>
<line x1="463.20" y1="34.60" x2="465.40" y2="34.60" stroke="#b8b8b8" stroke-width="0.8"/>
<line x1="463.20" y1="38.60" x2="465.40" y2="38.60" stroke="#b8b8b8" stroke-width="0.8"/>
<line x1="468.00" y1="35.40" x2="468.00" y2="39.40" stroke="#b8b8b8" stroke-width="0.8"/>
<line x1="466.90" y1="35.40" x2="469.10" y2="35.40" stroke="#b8b8b8" stroke-width="0.8"/>
<line x1="466.90" y1="39.40" x2="469.10" y2="39.40" stroke="#b8b8b8" stroke-width="0.8"/>
<line x1="471.60" y1="36.60" x2="471.60" y2="40.60" stroke="#b8b8b8" stroke-width="0.8"/>
<line x1="470.50" y1="36.60" x2="472.70" y2="36.60" stroke="#b8b8b8" stroke-width="0.8"/>
<line x1="470.50" y1="40.60" x2="472.70" y2="40.60" stroke="#b8b8b8" stroke-width="0.8"/>
<line x1="475.30" y1="37.30" x2="475.30" y2="41.30" stroke="#b8b8b8" stroke-width="0.8"/>
<line x1="474.20" y1="37.30" x2="476.40" y2="37.30" stroke="#b8b8b8" stroke-width="0.8"/>
<line x1="474.20" y1="41.30" x2="476.40" y2="41.30" stroke="#b8b8b8" stroke-width="0.8"/>
<line x1="479.20" y1="38.10" x2="479.20" y2="42.10" stroke="#b8b8b8" stroke-width="0.8"/>
<line x1="478.10" y1="38.10" x2="480.30" y2="38.10" stroke="#b8b8b8" stroke-width="0.8"/>
<line x1="478.10" y1="42.10" x2="480.30" y2="42.10" stroke="#b8b8b8" stroke-width="0.8"/>
<line x1="483.00" y1="39.10" x2="483.00" y2="43.10" stroke="#b8b8b8" stroke-width="0.8"/>
<line x1="481.90" y1="39.10" x2="484.10" y2="39.10" stroke="#b8b8b8" stroke-width="0.8"/>
<line x1="481.90" y1="43.10" x2="484.10" y2="43.10" stroke="#b8b8b8" stroke-width="0.8"/>
<line x1="486.70" y1="40.40" x2="486.70" y2="44.40" stroke="#b8b8b8" stroke-width="0.8"/>
<line x1="485.60" y1="40.40" x2="487.80" y2="40.40" stroke="#b8b8b8" stroke-width="0.8"/>
<line x1="485.60" y1="44.40" x2="487.80" y2="44.40" stroke="#b8b8b8" stroke-width="0.8"/>
<line x1="490.60" y1="40.70" x2="490.60" y2="44.70" stroke="#b8b8b8" stroke-width="0.8"/>
<line x1="489.50" y1="40.70" x2="491.70" y2="40.70" stroke="#b8b8b8" stroke-width="0.8"/>
<line x1="489.50" y1="44.70" x2="491.70" y2="44.70" stroke="#b8b8b8" stroke-width="0.8"/>
<line x1="494.30" y1="43.40" x2="494.30" y2="47.40" stroke="#b8b8b8" stroke-width="0.8"/>
<line x1="493.20" y1="43.40" x2="495.40" y2="43.40" stroke="#b8b8b8" stroke-width="0.8"/>
<line x1="493.20" y1="47.40" x2="495.40" y2="47.40" stroke="#b8b8b8" stroke-width="0.8"/>
<line x1="497.90" y1="43.50" x2="497.90" y2="47.50" stroke="#b8b8b8" stroke-width="0.8"/>
<line x1="496.80" y1="43.50" x2="499.00" y2="43.50" stroke="#b8b8b8" stroke-width="0.8"/>
<line x1="496.80" y1="47.50" x2="499.00" y2="47.50" stroke="#b8b8b8" stroke-width="0.8"/>
<line x1="501.60" y1="44.40" x2="501.60" y2="48.40" stroke="#b8b8b8" stroke-width="0.8"/>
<line x1="500.50" y1="44.40" x2="502.70" y2="44.40" stroke="#b8b8b8" stroke-width="0.8"/>
<line x1="500.50" y1="48.40" x2="502.70" y2="48.40" stroke="#b8b8b8" stroke-width="0.8"/>
<line x1="505.30" y1="44.90" x2="505.30" y2="48.90" stroke="#b8b8b8" stroke-width="0.8"/>
<line x1="504.20" y1="44.90" x2="506.40" y2="44.90" stroke="#b8b8b8" stroke-width="0.8"/>
<line x1="504.20" y1="48.90" x2="506.40" y2="48.90" stroke="#b8b8b8" stroke-width="0.8"/>
<line x1="509.00" y1="45.80" x2="509.00" y2="49.80" stroke="#b8b8b8" stroke-width="0.8"/>
<line x1="507.90" y1="45.80" x2="510.10" y2="45.80" stroke="#b8b8b8" stroke-width="0.8"/>
<line x1="507.90" y1="49.80" x2="510.10" y2="49.80" stroke="#b8b8b8" stroke-width="0.8"/>
<line x1="512.80" y1="44.90" x2="512.80" y2="48.90" stroke="#b8b8b8" stroke-width="0.8"/>
<line x1="511.70" y1="44.90" x2="513.90" y2="44.90" stroke="#b8b8b8" stroke-width="0.8"/>
<line x1="511.70" y1="48.90" x2="513.90" y2="48.90" stroke="#b8b8b8" stroke-width="0.8"/>
<line x1="516.40" y1="46.10" x2="516.40" y2="50.10" stroke="#b8b8b8" stroke-width="0.8"/>
<line x1="515.30" y1="46.10" x2="517.50" y2="46.10" stroke="#b8b8b8" stroke-width="0.8"/>
<line x1="515.30" y1="50.10" x2="517.50" y2="50.10" stroke="#b8b8b8" stroke-width="0.8"/>
<line x1="520.20" y1="46.10" x2="520.20" y2="50.10" stroke="#b8b8b8" stroke-width="0.8"/>
<line x1="519.10" y1="46.10" x2="521.30" y2="46.10" stroke="#b8b8b8" stroke-width="0.8"/>
<line x1="519.10" y1="50.10" x2="521.30" y2="50.10" stroke="#b8b8b8" stroke-width="0.8"/>
<line x1="524.00" y1="47.30" x2="524.00" y2="51.30" stroke="#b8b8b8" stroke-width="0.8"/>
<line x1="522.90" y1="47.30" x2="525.10" y2="47.30" stroke="#b8b8b8" stroke-width="0.8"/>
<line x1="522.90" y1="51.30" x2="525.10" y2="51.30" stroke="#b8b8b8" stroke-width="0.8"/>
<line x1="527.60" y1="48.70" x2="527.60" y2="52.70" stroke="#b8b8b8" stroke-width="0.8"/>
<line x1="526.50" y1="48.70" x2="528.70" y2="48.70" stroke="#b8b8b8" stroke-width="0.8"/>
<line x1="526.50" y1="52.70" x2="528.70" y2="52.70" stroke="#b8b8b8" stroke-width="0.8"/>
<line x1="531.40" y1="48.30" x2="531.40" y2="52.30" stroke="#b8b8b8" stroke-width="0.8"/>
<line x1="530.30" y1="48.30" x2="532.50" y2="48.30" stroke="#b8b8b8" stroke-width="0.8"/>
<line x1="530.30" y1="52.30" x2="532.50" y2="52.30" stroke="#b8b8b8" stroke-width="0.8"/>
<line x1="535.20" y1="48.30" x2="535.20" y2="52.30" stroke="#b8b8b8" stroke-width="0.8"/>
<line x1="534.10" y1="48.30" x2="536.30" y2="48.30" stroke="#b8b8b8" stroke-width="0.8"/>
<line x1="534.10" y1="52.30" x2="536.30" y2="52.30" stroke="#b8b8b8" stroke-width="0.8"/>
<line x1="538.80" y1="49.60" x2="538.80" y2="53.60" stroke="#b8b8b8" stroke-width="0.8"/>
<line x1="537.70" y1="49.60" x2="539.90" y2="49.60" stroke="#b8b8b8" stroke-width="0.8"/>
<line x1="537.70" y1="53.60" x2="539.90" y2="53.60" stroke="#b8b8b8" stroke-width="0.8"/>
<circle cx="353.90" cy="84.90" r="1.5" fill="#1763c2" stroke="#0b2456" stroke-width="0.55"/>
<circle cx="357.60" cy="52.70" r="1.5" fill="#1763c2" stroke="#0b2456" stroke-width="0.55"/>
<circle cx="361.40" cy="21.10" r="1.5" fill="#1763c2" stroke="#0b2456" stroke-width="0.55"/>
<circle cx="365.10" cy="9.90" r="1.5" fill="#1763c2" stroke="#0b2456" stroke-width="0.55"/>
<circle cx="368.80" cy="9.90" r="1.5" fill="#1763c2" stroke="#0b2456" stroke-width="0.55"/>
<circle cx="372.60" cy="11.60" r="1.5" fill="#1763c2" stroke="#0b2456" stroke-width="0.55"/>
<circle cx="376.30" cy="12.00" r="1.5" fill="#1763c2" stroke="#0b2456" stroke-width="0.55"/>
<circle cx="380.00" cy="18.20" r="1.5" fill="#1763c2" stroke="#0b2456" stroke-width="0.55"/>
<circle cx="383.70" cy="19.30" r="1.5" fill="#1763c2" stroke="#0b2456" stroke-width="0.55"/>
<circle cx="387.50" cy="23.60" r="1.5" fill="#1763c2" stroke="#0b2456" stroke-width="0.55"/>
<circle cx="391.20" cy="24.40" r="1.5" fill="#1763c2" stroke="#0b2456" stroke-width="0.55"/>
<circle cx="394.90" cy="29.40" r="1.5" fill="#1763c2" stroke="#0b2456" stroke-width="0.55"/>
<circle cx="398.70" cy="31.10" r="1.5" fill="#1763c2" stroke="#0b2456" stroke-width="0.55"/>
<circle cx="402.40" cy="32.10" r="1.5" fill="#1763c2" stroke="#0b2456" stroke-width="0.55"/>
<circle cx="406.30" cy="33.70" r="1.5" fill="#1763c2" stroke="#0b2456" stroke-width="0.55"/>
<circle cx="410.00" cy="34.20" r="1.5" fill="#1763c2" stroke="#0b2456" stroke-width="0.55"/>
<circle cx="413.80" cy="35.60" r="1.5" fill="#1763c2" stroke="#0b2456" stroke-width="0.55"/>
<circle cx="417.50" cy="37.70" r="1.5" fill="#1763c2" stroke="#0b2456" stroke-width="0.55"/>
<circle cx="421.20" cy="36.60" r="1.5" fill="#1763c2" stroke="#0b2456" stroke-width="0.55"/>
<circle cx="424.60" cy="37.50" r="1.5" fill="#1763c2" stroke="#0b2456" stroke-width="0.55"/>
<circle cx="428.30" cy="39.00" r="1.5" fill="#1763c2" stroke="#0b2456" stroke-width="0.55"/>
<circle cx="432.00" cy="40.40" r="1.5" fill="#1763c2" stroke="#0b2456" stroke-width="0.55"/>
<circle cx="436.00" cy="41.50" r="1.5" fill="#1763c2" stroke="#0b2456" stroke-width="0.55"/>
<circle cx="439.70" cy="42.50" r="1.5" fill="#1763c2" stroke="#0b2456" stroke-width="0.55"/>
<circle cx="443.40" cy="42.50" r="1.5" fill="#1763c2" stroke="#0b2456" stroke-width="0.55"/>
<circle cx="447.10" cy="42.10" r="1.5" fill="#1763c2" stroke="#0b2456" stroke-width="0.55"/>
<circle cx="451.00" cy="48.90" r="1.5" fill="#1763c2" stroke="#0b2456" stroke-width="0.55"/>
<circle cx="454.80" cy="52.30" r="1.5" fill="#1763c2" stroke="#0b2456" stroke-width="0.55"/>
<circle cx="458.60" cy="49.40" r="1.5" fill="#1763c2" stroke="#0b2456" stroke-width="0.55"/>
<circle cx="462.50" cy="51.50" r="1.5" fill="#1763c2" stroke="#0b2456" stroke-width="0.55"/>
<circle cx="466.20" cy="52.50" r="1.5" fill="#1763c2" stroke="#0b2456" stroke-width="0.55"/>
<circle cx="469.90" cy="55.20" r="1.5" fill="#1763c2" stroke="#0b2456" stroke-width="0.55"/>
<circle cx="473.60" cy="54.40" r="1.5" fill="#1763c2" stroke="#0b2456" stroke-width="0.55"/>
<circle cx="477.40" cy="55.60" r="1.5" fill="#1763c2" stroke="#0b2456" stroke-width="0.55"/>
<circle cx="481.10" cy="51.50" r="1.5" fill="#1763c2" stroke="#0b2456" stroke-width="0.55"/>
<circle cx="485.00" cy="51.90" r="1.5" fill="#1763c2" stroke="#0b2456" stroke-width="0.55"/>
<circle cx="488.50" cy="54.20" r="1.5" fill="#1763c2" stroke="#0b2456" stroke-width="0.55"/>
<circle cx="492.20" cy="53.00" r="1.5" fill="#1763c2" stroke="#0b2456" stroke-width="0.55"/>
<circle cx="496.00" cy="53.60" r="1.5" fill="#1763c2" stroke="#0b2456" stroke-width="0.55"/>
<circle cx="499.80" cy="55.30" r="1.5" fill="#1763c2" stroke="#0b2456" stroke-width="0.55"/>
<circle cx="503.40" cy="54.10" r="1.5" fill="#1763c2" stroke="#0b2456" stroke-width="0.55"/>
<circle cx="507.20" cy="54.50" r="1.5" fill="#1763c2" stroke="#0b2456" stroke-width="0.55"/>
<circle cx="511.00" cy="55.90" r="1.5" fill="#1763c2" stroke="#0b2456" stroke-width="0.55"/>
<circle cx="514.70" cy="56.70" r="1.5" fill="#1763c2" stroke="#0b2456" stroke-width="0.55"/>
<circle cx="518.40" cy="56.70" r="1.5" fill="#1763c2" stroke="#0b2456" stroke-width="0.55"/>
<circle cx="522.10" cy="57.10" r="1.5" fill="#1763c2" stroke="#0b2456" stroke-width="0.55"/>
<circle cx="525.90" cy="58.40" r="1.5" fill="#1763c2" stroke="#0b2456" stroke-width="0.55"/>
<circle cx="529.70" cy="57.90" r="1.5" fill="#1763c2" stroke="#0b2456" stroke-width="0.55"/>
<circle cx="533.40" cy="59.00" r="1.5" fill="#1763c2" stroke="#0b2456" stroke-width="0.55"/>
<circle cx="537.20" cy="58.10" r="1.5" fill="#1763c2" stroke="#0b2456" stroke-width="0.55"/>
<rect x="361.78" y="83.38" width="2.65" height="2.65" fill="#6c10dc" stroke="#3a2a5a" stroke-width="0.5"/>
<rect x="365.88" y="61.17" width="2.65" height="2.65" fill="#6c10dc" stroke="#3a2a5a" stroke-width="0.5"/>
<rect x="369.28" y="42.07" width="2.65" height="2.65" fill="#6c10dc" stroke="#3a2a5a" stroke-width="0.5"/>
<rect x="373.07" y="28.28" width="2.65" height="2.65" fill="#6c10dc" stroke="#3a2a5a" stroke-width="0.5"/>
<rect x="376.88" y="18.38" width="2.65" height="2.65" fill="#6c10dc" stroke="#3a2a5a" stroke-width="0.5"/>
<rect x="380.57" y="16.88" width="2.65" height="2.65" fill="#6c10dc" stroke="#3a2a5a" stroke-width="0.5"/>
<rect x="384.28" y="11.08" width="2.65" height="2.65" fill="#6c10dc" stroke="#3a2a5a" stroke-width="0.5"/>
<rect x="388.07" y="9.48" width="2.65" height="2.65" fill="#6c10dc" stroke="#3a2a5a" stroke-width="0.5"/>
<rect x="391.98" y="12.18" width="2.65" height="2.65" fill="#6c10dc" stroke="#3a2a5a" stroke-width="0.5"/>
<rect x="395.68" y="8.38" width="2.65" height="2.65" fill="#6c10dc" stroke="#3a2a5a" stroke-width="0.5"/>
<rect x="399.18" y="15.68" width="2.65" height="2.65" fill="#6c10dc" stroke="#3a2a5a" stroke-width="0.5"/>
<rect x="402.98" y="16.88" width="2.65" height="2.65" fill="#6c10dc" stroke="#3a2a5a" stroke-width="0.5"/>
<rect x="406.88" y="14.78" width="2.65" height="2.65" fill="#6c10dc" stroke="#3a2a5a" stroke-width="0.5"/>
<rect x="410.57" y="16.88" width="2.65" height="2.65" fill="#6c10dc" stroke="#3a2a5a" stroke-width="0.5"/>
<rect x="414.28" y="15.88" width="2.65" height="2.65" fill="#6c10dc" stroke="#3a2a5a" stroke-width="0.5"/>
<rect x="418.07" y="18.78" width="2.65" height="2.65" fill="#6c10dc" stroke="#3a2a5a" stroke-width="0.5"/>
<rect x="421.98" y="22.07" width="2.65" height="2.65" fill="#6c10dc" stroke="#3a2a5a" stroke-width="0.5"/>
<rect x="425.88" y="23.78" width="2.65" height="2.65" fill="#6c10dc" stroke="#3a2a5a" stroke-width="0.5"/>
<rect x="429.48" y="24.78" width="2.65" height="2.65" fill="#6c10dc" stroke="#3a2a5a" stroke-width="0.5"/>
<rect x="433.18" y="27.28" width="2.65" height="2.65" fill="#6c10dc" stroke="#3a2a5a" stroke-width="0.5"/>
<rect x="436.88" y="27.28" width="2.65" height="2.65" fill="#6c10dc" stroke="#3a2a5a" stroke-width="0.5"/>
<rect x="440.38" y="27.68" width="2.65" height="2.65" fill="#6c10dc" stroke="#3a2a5a" stroke-width="0.5"/>
<rect x="444.18" y="28.98" width="2.65" height="2.65" fill="#6c10dc" stroke="#3a2a5a" stroke-width="0.5"/>
<rect x="447.88" y="29.98" width="2.65" height="2.65" fill="#6c10dc" stroke="#3a2a5a" stroke-width="0.5"/>
<rect x="451.57" y="30.38" width="2.65" height="2.65" fill="#6c10dc" stroke="#3a2a5a" stroke-width="0.5"/>
<rect x="455.28" y="32.07" width="2.65" height="2.65" fill="#6c10dc" stroke="#3a2a5a" stroke-width="0.5"/>
<rect x="459.28" y="34.77" width="2.65" height="2.65" fill="#6c10dc" stroke="#3a2a5a" stroke-width="0.5"/>
<rect x="462.98" y="35.27" width="2.65" height="2.65" fill="#6c10dc" stroke="#3a2a5a" stroke-width="0.5"/>
<rect x="466.68" y="36.07" width="2.65" height="2.65" fill="#6c10dc" stroke="#3a2a5a" stroke-width="0.5"/>
<rect x="470.28" y="37.27" width="2.65" height="2.65" fill="#6c10dc" stroke="#3a2a5a" stroke-width="0.5"/>
<rect x="473.98" y="37.97" width="2.65" height="2.65" fill="#6c10dc" stroke="#3a2a5a" stroke-width="0.5"/>
<rect x="477.88" y="38.77" width="2.65" height="2.65" fill="#6c10dc" stroke="#3a2a5a" stroke-width="0.5"/>
<rect x="481.68" y="39.77" width="2.65" height="2.65" fill="#6c10dc" stroke="#3a2a5a" stroke-width="0.5"/>
<rect x="485.38" y="41.07" width="2.65" height="2.65" fill="#6c10dc" stroke="#3a2a5a" stroke-width="0.5"/>
<rect x="489.28" y="41.38" width="2.65" height="2.65" fill="#6c10dc" stroke="#3a2a5a" stroke-width="0.5"/>
<rect x="492.98" y="44.07" width="2.65" height="2.65" fill="#6c10dc" stroke="#3a2a5a" stroke-width="0.5"/>
<rect x="496.57" y="44.17" width="2.65" height="2.65" fill="#6c10dc" stroke="#3a2a5a" stroke-width="0.5"/>
<rect x="500.28" y="45.07" width="2.65" height="2.65" fill="#6c10dc" stroke="#3a2a5a" stroke-width="0.5"/>
<rect x="503.98" y="45.57" width="2.65" height="2.65" fill="#6c10dc" stroke="#3a2a5a" stroke-width="0.5"/>
<rect x="507.68" y="46.47" width="2.65" height="2.65" fill="#6c10dc" stroke="#3a2a5a" stroke-width="0.5"/>
<rect x="511.47" y="45.57" width="2.65" height="2.65" fill="#6c10dc" stroke="#3a2a5a" stroke-width="0.5"/>
<rect x="515.07" y="46.77" width="2.65" height="2.65" fill="#6c10dc" stroke="#3a2a5a" stroke-width="0.5"/>
<rect x="518.88" y="46.77" width="2.65" height="2.65" fill="#6c10dc" stroke="#3a2a5a" stroke-width="0.5"/>
<rect x="522.67" y="47.97" width="2.65" height="2.65" fill="#6c10dc" stroke="#3a2a5a" stroke-width="0.5"/>
<rect x="526.27" y="49.38" width="2.65" height="2.65" fill="#6c10dc" stroke="#3a2a5a" stroke-width="0.5"/>
<rect x="530.07" y="48.97" width="2.65" height="2.65" fill="#6c10dc" stroke="#3a2a5a" stroke-width="0.5"/>
<rect x="533.88" y="48.97" width="2.65" height="2.65" fill="#6c10dc" stroke="#3a2a5a" stroke-width="0.5"/>
<rect x="537.47" y="50.27" width="2.65" height="2.65" fill="#6c10dc" stroke="#3a2a5a" stroke-width="0.5"/>
<rect x="352.5" y="0.5" width="187.0" height="103.9" fill="none" stroke="#1a1a1a" stroke-width="1"/>
<line x1="330.70" y1="138.50" x2="330.70" y2="147.10" stroke="#b8b8b8" stroke-width="0.8"/>
<line x1="329.60" y1="138.50" x2="331.80" y2="138.50" stroke="#b8b8b8" stroke-width="0.8"/>
<line x1="329.60" y1="147.10" x2="331.80" y2="147.10" stroke="#b8b8b8" stroke-width="0.8"/>
<circle cx="330.70" cy="142.80" r="1.5" fill="#1763c2" stroke="#0b2456" stroke-width="0.55"/>
<text x="341.20" y="146.10" font-size="9.3" text-anchor="start" fill="#1a1a1a">nanorod synthesis</text>
<line x1="437.40" y1="138.70" x2="437.40" y2="147.30" stroke="#b8b8b8" stroke-width="0.8"/>
<line x1="436.30" y1="138.70" x2="438.50" y2="138.70" stroke="#b8b8b8" stroke-width="0.8"/>
<line x1="436.30" y1="147.30" x2="438.50" y2="147.30" stroke="#b8b8b8" stroke-width="0.8"/>
<rect x="436.07" y="141.68" width="2.65" height="2.65" fill="#6c10dc" stroke="#3a2a5a" stroke-width="0.5"/>
<text x="447.60" y="146.10" font-size="9.3" text-anchor="start" fill="#1a1a1a">nanoplatelet synthesis</text>
<text x="311.60" y="164.60" font-size="9.6" text-anchor="start" fill="#000" font-weight="bold">e</text>
<line x1="352.60" y1="262.30" x2="352.60" y2="259.90" stroke="#1a1a1a" stroke-width="0.9"/>
<line x1="361.95" y1="262.30" x2="361.95" y2="259.90" stroke="#1a1a1a" stroke-width="0.9"/>
<line x1="371.30" y1="262.30" x2="371.30" y2="259.90" stroke="#1a1a1a" stroke-width="0.9"/>
<line x1="380.65" y1="262.30" x2="380.65" y2="259.90" stroke="#1a1a1a" stroke-width="0.9"/>
<line x1="390.00" y1="262.30" x2="390.00" y2="259.90" stroke="#1a1a1a" stroke-width="0.9"/>
<line x1="399.35" y1="262.30" x2="399.35" y2="259.90" stroke="#1a1a1a" stroke-width="0.9"/>
<line x1="408.70" y1="262.30" x2="408.70" y2="259.90" stroke="#1a1a1a" stroke-width="0.9"/>
<line x1="418.05" y1="262.30" x2="418.05" y2="259.90" stroke="#1a1a1a" stroke-width="0.9"/>
<line x1="427.40" y1="262.30" x2="427.40" y2="259.90" stroke="#1a1a1a" stroke-width="0.9"/>
<line x1="436.75" y1="262.30" x2="436.75" y2="259.90" stroke="#1a1a1a" stroke-width="0.9"/>
<line x1="446.10" y1="262.30" x2="446.10" y2="259.90" stroke="#1a1a1a" stroke-width="0.9"/>
<line x1="455.45" y1="262.30" x2="455.45" y2="259.90" stroke="#1a1a1a" stroke-width="0.9"/>
<line x1="464.80" y1="262.30" x2="464.80" y2="259.90" stroke="#1a1a1a" stroke-width="0.9"/>
<line x1="474.15" y1="262.30" x2="474.15" y2="259.90" stroke="#1a1a1a" stroke-width="0.9"/>
<line x1="483.50" y1="262.30" x2="483.50" y2="259.90" stroke="#1a1a1a" stroke-width="0.9"/>
<line x1="492.85" y1="262.30" x2="492.85" y2="259.90" stroke="#1a1a1a" stroke-width="0.9"/>
<line x1="502.20" y1="262.30" x2="502.20" y2="259.90" stroke="#1a1a1a" stroke-width="0.9"/>
<line x1="511.55" y1="262.30" x2="511.55" y2="259.90" stroke="#1a1a1a" stroke-width="0.9"/>
<line x1="520.90" y1="262.30" x2="520.90" y2="259.90" stroke="#1a1a1a" stroke-width="0.9"/>
<line x1="530.25" y1="262.30" x2="530.25" y2="259.90" stroke="#1a1a1a" stroke-width="0.9"/>
<line x1="352.50" y1="262.20" x2="354.90" y2="262.20" stroke="#1a1a1a" stroke-width="0.9"/>
<line x1="539.50" y1="262.20" x2="537.10" y2="262.20" stroke="#1a1a1a" stroke-width="0.9"/>
<line x1="352.50" y1="247.60" x2="354.90" y2="247.60" stroke="#1a1a1a" stroke-width="0.9"/>
<line x1="539.50" y1="247.60" x2="537.10" y2="247.60" stroke="#1a1a1a" stroke-width="0.9"/>
<line x1="352.50" y1="233.00" x2="354.90" y2="233.00" stroke="#1a1a1a" stroke-width="0.9"/>
<line x1="539.50" y1="233.00" x2="537.10" y2="233.00" stroke="#1a1a1a" stroke-width="0.9"/>
<line x1="352.50" y1="218.40" x2="354.90" y2="218.40" stroke="#1a1a1a" stroke-width="0.9"/>
<line x1="539.50" y1="218.40" x2="537.10" y2="218.40" stroke="#1a1a1a" stroke-width="0.9"/>
<line x1="352.50" y1="203.80" x2="354.90" y2="203.80" stroke="#1a1a1a" stroke-width="0.9"/>
<line x1="539.50" y1="203.80" x2="537.10" y2="203.80" stroke="#1a1a1a" stroke-width="0.9"/>
<line x1="352.50" y1="189.20" x2="354.90" y2="189.20" stroke="#1a1a1a" stroke-width="0.9"/>
<line x1="539.50" y1="189.20" x2="537.10" y2="189.20" stroke="#1a1a1a" stroke-width="0.9"/>
<line x1="352.50" y1="174.60" x2="354.90" y2="174.60" stroke="#1a1a1a" stroke-width="0.9"/>
<line x1="539.50" y1="174.60" x2="537.10" y2="174.60" stroke="#1a1a1a" stroke-width="0.9"/>
<line x1="352.50" y1="160.00" x2="354.90" y2="160.00" stroke="#1a1a1a" stroke-width="0.9"/>
<line x1="539.50" y1="160.00" x2="537.10" y2="160.00" stroke="#1a1a1a" stroke-width="0.9"/>
<text x="347.60" y="265.50" font-size="9.3" text-anchor="end" fill="#1a1a1a">0</text>
<text x="545.00" y="265.30" font-size="9.3" text-anchor="start" fill="#1a1a1a">0</text>
<text x="347.60" y="236.30" font-size="9.3" text-anchor="end" fill="#1a1a1a">2</text>
<text x="545.00" y="236.10" font-size="9.3" text-anchor="start" fill="#1a1a1a">2</text>
<text x="347.60" y="207.10" font-size="9.3" text-anchor="end" fill="#1a1a1a">4</text>
<text x="545.00" y="206.90" font-size="9.3" text-anchor="start" fill="#1a1a1a">4</text>
<text x="347.60" y="177.90" font-size="9.3" text-anchor="end" fill="#1a1a1a">6</text>
<text x="545.00" y="177.70" font-size="9.3" text-anchor="start" fill="#1a1a1a">6</text>
<text x="352.60" y="274.10" font-size="9.3" text-anchor="middle" fill="#1a1a1a">0</text>
<text x="371.30" y="274.10" font-size="9.3" text-anchor="middle" fill="#1a1a1a">1</text>
<text x="390.00" y="274.10" font-size="9.3" text-anchor="middle" fill="#1a1a1a">2</text>
<text x="408.70" y="274.10" font-size="9.3" text-anchor="middle" fill="#1a1a1a">3</text>
<text x="427.40" y="274.10" font-size="9.3" text-anchor="middle" fill="#1a1a1a">4</text>
<text x="446.10" y="274.10" font-size="9.3" text-anchor="middle" fill="#1a1a1a">5</text>
<text x="464.80" y="274.10" font-size="9.3" text-anchor="middle" fill="#1a1a1a">6</text>
<text x="483.50" y="274.10" font-size="9.3" text-anchor="middle" fill="#1a1a1a">7</text>
<text x="502.20" y="274.10" font-size="9.3" text-anchor="middle" fill="#1a1a1a">8</text>
<text x="520.90" y="274.10" font-size="9.3" text-anchor="middle" fill="#1a1a1a">9</text>
<text x="539.60" y="274.10" font-size="9.3" text-anchor="middle" fill="#1a1a1a">10</text>
<text x="446.00" y="288.20" font-size="9.3" text-anchor="middle" fill="#1a1a1a">time (s)</text>
<text transform="translate(335.0,211) rotate(-90)" font-size="9.3" text-anchor="middle" fill="#1a1a1a">nanocluster diameter (nm)</text>
<text transform="translate(556.6,211.0) rotate(90)" font-size="9.3" text-anchor="middle" fill="#1a1a1a">nanocluster length (nm)</text>
<circle cx="357.40" cy="196.60" r="1.5" fill="#1763c2" stroke="#0b2456" stroke-width="0.55"/>
<circle cx="361.40" cy="195.50" r="1.5" fill="#1763c2" stroke="#0b2456" stroke-width="0.55"/>
<circle cx="365.20" cy="194.30" r="1.5" fill="#1763c2" stroke="#0b2456" stroke-width="0.55"/>
<circle cx="368.90" cy="194.00" r="1.5" fill="#1763c2" stroke="#0b2456" stroke-width="0.55"/>
<circle cx="372.80" cy="193.20" r="1.5" fill="#1763c2" stroke="#0b2456" stroke-width="0.55"/>
<circle cx="376.40" cy="192.60" r="1.5" fill="#1763c2" stroke="#0b2456" stroke-width="0.55"/>
<circle cx="380.20" cy="191.90" r="1.5" fill="#1763c2" stroke="#0b2456" stroke-width="0.55"/>
<circle cx="383.90" cy="191.10" r="1.5" fill="#1763c2" stroke="#0b2456" stroke-width="0.55"/>
<circle cx="387.80" cy="190.40" r="1.5" fill="#1763c2" stroke="#0b2456" stroke-width="0.55"/>
<circle cx="391.40" cy="190.10" r="1.5" fill="#1763c2" stroke="#0b2456" stroke-width="0.55"/>
<circle cx="395.20" cy="189.80" r="1.5" fill="#1763c2" stroke="#0b2456" stroke-width="0.55"/>
<circle cx="398.90" cy="189.30" r="1.5" fill="#1763c2" stroke="#0b2456" stroke-width="0.55"/>
<circle cx="402.60" cy="189.00" r="1.5" fill="#1763c2" stroke="#0b2456" stroke-width="0.55"/>
<circle cx="406.40" cy="188.30" r="1.5" fill="#1763c2" stroke="#0b2456" stroke-width="0.55"/>
<circle cx="410.10" cy="187.70" r="1.5" fill="#1763c2" stroke="#0b2456" stroke-width="0.55"/>
<circle cx="413.80" cy="187.50" r="1.5" fill="#1763c2" stroke="#0b2456" stroke-width="0.55"/>
<circle cx="417.70" cy="187.10" r="1.5" fill="#1763c2" stroke="#0b2456" stroke-width="0.55"/>
<circle cx="421.30" cy="186.90" r="1.5" fill="#1763c2" stroke="#0b2456" stroke-width="0.55"/>
<circle cx="425.20" cy="186.10" r="1.5" fill="#1763c2" stroke="#0b2456" stroke-width="0.55"/>
<circle cx="428.90" cy="185.90" r="1.5" fill="#1763c2" stroke="#0b2456" stroke-width="0.55"/>
<circle cx="432.80" cy="185.90" r="1.5" fill="#1763c2" stroke="#0b2456" stroke-width="0.55"/>
<circle cx="436.40" cy="185.70" r="1.5" fill="#1763c2" stroke="#0b2456" stroke-width="0.55"/>
<circle cx="440.20" cy="185.30" r="1.5" fill="#1763c2" stroke="#0b2456" stroke-width="0.55"/>
<circle cx="443.90" cy="185.10" r="1.5" fill="#1763c2" stroke="#0b2456" stroke-width="0.55"/>
<circle cx="447.60" cy="185.10" r="1.5" fill="#1763c2" stroke="#0b2456" stroke-width="0.55"/>
<circle cx="451.50" cy="183.90" r="1.5" fill="#1763c2" stroke="#0b2456" stroke-width="0.55"/>
<circle cx="455.10" cy="183.30" r="1.5" fill="#1763c2" stroke="#0b2456" stroke-width="0.55"/>
<circle cx="458.90" cy="182.40" r="1.5" fill="#1763c2" stroke="#0b2456" stroke-width="0.55"/>
<circle cx="462.70" cy="181.10" r="1.5" fill="#1763c2" stroke="#0b2456" stroke-width="0.55"/>
<circle cx="466.30" cy="179.40" r="1.5" fill="#1763c2" stroke="#0b2456" stroke-width="0.55"/>
<circle cx="470.40" cy="177.50" r="1.5" fill="#1763c2" stroke="#0b2456" stroke-width="0.55"/>
<circle cx="474.00" cy="176.70" r="1.5" fill="#1763c2" stroke="#0b2456" stroke-width="0.55"/>
<circle cx="477.60" cy="175.30" r="1.5" fill="#1763c2" stroke="#0b2456" stroke-width="0.55"/>
<circle cx="481.50" cy="176.70" r="1.5" fill="#1763c2" stroke="#0b2456" stroke-width="0.55"/>
<circle cx="485.10" cy="176.30" r="1.5" fill="#1763c2" stroke="#0b2456" stroke-width="0.55"/>
<circle cx="488.90" cy="175.10" r="1.5" fill="#1763c2" stroke="#0b2456" stroke-width="0.55"/>
<circle cx="492.60" cy="174.20" r="1.5" fill="#1763c2" stroke="#0b2456" stroke-width="0.55"/>
<circle cx="496.20" cy="174.50" r="1.5" fill="#1763c2" stroke="#0b2456" stroke-width="0.55"/>
<circle cx="499.90" cy="173.30" r="1.5" fill="#1763c2" stroke="#0b2456" stroke-width="0.55"/>
<circle cx="503.80" cy="174.20" r="1.5" fill="#1763c2" stroke="#0b2456" stroke-width="0.55"/>
<circle cx="507.40" cy="173.30" r="1.5" fill="#1763c2" stroke="#0b2456" stroke-width="0.55"/>
<circle cx="511.30" cy="172.90" r="1.5" fill="#1763c2" stroke="#0b2456" stroke-width="0.55"/>
<circle cx="514.90" cy="171.80" r="1.5" fill="#1763c2" stroke="#0b2456" stroke-width="0.55"/>
<circle cx="518.60" cy="172.30" r="1.5" fill="#1763c2" stroke="#0b2456" stroke-width="0.55"/>
<circle cx="522.50" cy="171.20" r="1.5" fill="#1763c2" stroke="#0b2456" stroke-width="0.55"/>
<circle cx="526.10" cy="170.30" r="1.5" fill="#1763c2" stroke="#0b2456" stroke-width="0.55"/>
<circle cx="530.00" cy="171.50" r="1.5" fill="#1763c2" stroke="#0b2456" stroke-width="0.55"/>
<circle cx="533.70" cy="169.70" r="1.5" fill="#1763c2" stroke="#0b2456" stroke-width="0.55"/>
<circle cx="537.30" cy="170.30" r="1.5" fill="#1763c2" stroke="#0b2456" stroke-width="0.55"/>
<circle cx="357.40" cy="234.30" r="1.5" fill="#1763c2" stroke="#0b2456" stroke-width="0.55"/>
<circle cx="361.20" cy="234.50" r="1.5" fill="#1763c2" stroke="#0b2456" stroke-width="0.55"/>
<circle cx="365.00" cy="234.80" r="1.5" fill="#1763c2" stroke="#0b2456" stroke-width="0.55"/>
<circle cx="368.90" cy="234.60" r="1.5" fill="#1763c2" stroke="#0b2456" stroke-width="0.55"/>
<circle cx="372.50" cy="234.30" r="1.5" fill="#1763c2" stroke="#0b2456" stroke-width="0.55"/>
<circle cx="376.40" cy="234.10" r="1.5" fill="#1763c2" stroke="#0b2456" stroke-width="0.55"/>
<circle cx="380.10" cy="233.80" r="1.5" fill="#1763c2" stroke="#0b2456" stroke-width="0.55"/>
<circle cx="383.70" cy="233.50" r="1.5" fill="#1763c2" stroke="#0b2456" stroke-width="0.55"/>
<circle cx="387.60" cy="233.00" r="1.5" fill="#1763c2" stroke="#0b2456" stroke-width="0.55"/>
<circle cx="391.40" cy="232.90" r="1.5" fill="#1763c2" stroke="#0b2456" stroke-width="0.55"/>
<circle cx="395.20" cy="232.40" r="1.5" fill="#1763c2" stroke="#0b2456" stroke-width="0.55"/>
<circle cx="398.80" cy="232.40" r="1.5" fill="#1763c2" stroke="#0b2456" stroke-width="0.55"/>
<circle cx="402.60" cy="232.40" r="1.5" fill="#1763c2" stroke="#0b2456" stroke-width="0.55"/>
<circle cx="406.20" cy="232.20" r="1.5" fill="#1763c2" stroke="#0b2456" stroke-width="0.55"/>
<circle cx="410.10" cy="232.20" r="1.5" fill="#1763c2" stroke="#0b2456" stroke-width="0.55"/>
<circle cx="413.90" cy="232.20" r="1.5" fill="#1763c2" stroke="#0b2456" stroke-width="0.55"/>
<circle cx="417.60" cy="232.00" r="1.5" fill="#1763c2" stroke="#0b2456" stroke-width="0.55"/>
<circle cx="421.30" cy="231.90" r="1.5" fill="#1763c2" stroke="#0b2456" stroke-width="0.55"/>
<circle cx="425.00" cy="231.90" r="1.5" fill="#1763c2" stroke="#0b2456" stroke-width="0.55"/>
<circle cx="428.80" cy="231.70" r="1.5" fill="#1763c2" stroke="#0b2456" stroke-width="0.55"/>
<circle cx="432.60" cy="231.50" r="1.5" fill="#1763c2" stroke="#0b2456" stroke-width="0.55"/>
<circle cx="436.30" cy="231.40" r="1.5" fill="#1763c2" stroke="#0b2456" stroke-width="0.55"/>
<circle cx="440.00" cy="231.40" r="1.5" fill="#1763c2" stroke="#0b2456" stroke-width="0.55"/>
<circle cx="443.80" cy="231.40" r="1.5" fill="#1763c2" stroke="#0b2456" stroke-width="0.55"/>
<circle cx="447.50" cy="231.40" r="1.5" fill="#1763c2" stroke="#0b2456" stroke-width="0.55"/>
<circle cx="451.30" cy="230.90" r="1.5" fill="#1763c2" stroke="#0b2456" stroke-width="0.55"/>
<circle cx="455.10" cy="230.20" r="1.5" fill="#1763c2" stroke="#0b2456" stroke-width="0.55"/>
<circle cx="458.70" cy="230.20" r="1.5" fill="#1763c2" stroke="#0b2456" stroke-width="0.55"/>
<circle cx="462.50" cy="229.90" r="1.5" fill="#1763c2" stroke="#0b2456" stroke-width="0.55"/>
<circle cx="466.30" cy="229.70" r="1.5" fill="#1763c2" stroke="#0b2456" stroke-width="0.55"/>
<circle cx="470.20" cy="229.40" r="1.5" fill="#1763c2" stroke="#0b2456" stroke-width="0.55"/>
<circle cx="473.80" cy="229.40" r="1.5" fill="#1763c2" stroke="#0b2456" stroke-width="0.55"/>
<circle cx="477.50" cy="229.20" r="1.5" fill="#1763c2" stroke="#0b2456" stroke-width="0.55"/>
<circle cx="481.30" cy="229.80" r="1.5" fill="#1763c2" stroke="#0b2456" stroke-width="0.55"/>
<circle cx="485.00" cy="229.80" r="1.5" fill="#1763c2" stroke="#0b2456" stroke-width="0.55"/>
<circle cx="488.80" cy="229.50" r="1.5" fill="#1763c2" stroke="#0b2456" stroke-width="0.55"/>
<circle cx="492.50" cy="229.60" r="1.5" fill="#1763c2" stroke="#0b2456" stroke-width="0.55"/>
<circle cx="496.20" cy="229.50" r="1.5" fill="#1763c2" stroke="#0b2456" stroke-width="0.55"/>
<circle cx="500.00" cy="229.30" r="1.5" fill="#1763c2" stroke="#0b2456" stroke-width="0.55"/>
<circle cx="503.60" cy="229.50" r="1.5" fill="#1763c2" stroke="#0b2456" stroke-width="0.55"/>
<circle cx="507.40" cy="229.50" r="1.5" fill="#1763c2" stroke="#0b2456" stroke-width="0.55"/>
<circle cx="511.10" cy="229.30" r="1.5" fill="#1763c2" stroke="#0b2456" stroke-width="0.55"/>
<circle cx="515.00" cy="229.10" r="1.5" fill="#1763c2" stroke="#0b2456" stroke-width="0.55"/>
<circle cx="518.60" cy="229.10" r="1.5" fill="#1763c2" stroke="#0b2456" stroke-width="0.55"/>
<circle cx="522.50" cy="229.10" r="1.5" fill="#1763c2" stroke="#0b2456" stroke-width="0.55"/>
<circle cx="526.20" cy="228.60" r="1.5" fill="#1763c2" stroke="#0b2456" stroke-width="0.55"/>
<circle cx="529.90" cy="228.60" r="1.5" fill="#1763c2" stroke="#0b2456" stroke-width="0.55"/>
<circle cx="533.80" cy="228.60" r="1.5" fill="#1763c2" stroke="#0b2456" stroke-width="0.55"/>
<circle cx="537.40" cy="228.80" r="1.5" fill="#1763c2" stroke="#0b2456" stroke-width="0.55"/>
<rect x="361.88" y="196.48" width="2.65" height="2.65" fill="#6c10dc" stroke="#3a2a5a" stroke-width="0.5"/>
<rect x="365.78" y="200.58" width="2.65" height="2.65" fill="#6c10dc" stroke="#3a2a5a" stroke-width="0.5"/>
<rect x="369.38" y="199.38" width="2.65" height="2.65" fill="#6c10dc" stroke="#3a2a5a" stroke-width="0.5"/>
<rect x="373.18" y="200.08" width="2.65" height="2.65" fill="#6c10dc" stroke="#3a2a5a" stroke-width="0.5"/>
<rect x="376.88" y="199.08" width="2.65" height="2.65" fill="#6c10dc" stroke="#3a2a5a" stroke-width="0.5"/>
<rect x="380.78" y="197.58" width="2.65" height="2.65" fill="#6c10dc" stroke="#3a2a5a" stroke-width="0.5"/>
<rect x="384.38" y="197.28" width="2.65" height="2.65" fill="#6c10dc" stroke="#3a2a5a" stroke-width="0.5"/>
<rect x="387.98" y="197.08" width="2.65" height="2.65" fill="#6c10dc" stroke="#3a2a5a" stroke-width="0.5"/>
<rect x="391.88" y="196.78" width="2.65" height="2.65" fill="#6c10dc" stroke="#3a2a5a" stroke-width="0.5"/>
<rect x="395.78" y="195.98" width="2.65" height="2.65" fill="#6c10dc" stroke="#3a2a5a" stroke-width="0.5"/>
<rect x="399.38" y="195.28" width="2.65" height="2.65" fill="#6c10dc" stroke="#3a2a5a" stroke-width="0.5"/>
<rect x="403.18" y="194.38" width="2.65" height="2.65" fill="#6c10dc" stroke="#3a2a5a" stroke-width="0.5"/>
<rect x="406.98" y="194.18" width="2.65" height="2.65" fill="#6c10dc" stroke="#3a2a5a" stroke-width="0.5"/>
<rect x="410.88" y="193.78" width="2.65" height="2.65" fill="#6c10dc" stroke="#3a2a5a" stroke-width="0.5"/>
<rect x="414.57" y="192.48" width="2.65" height="2.65" fill="#6c10dc" stroke="#3a2a5a" stroke-width="0.5"/>
<rect x="418.18" y="191.98" width="2.65" height="2.65" fill="#6c10dc" stroke="#3a2a5a" stroke-width="0.5"/>
<rect x="421.98" y="191.58" width="2.65" height="2.65" fill="#6c10dc" stroke="#3a2a5a" stroke-width="0.5"/>
<rect x="425.78" y="190.78" width="2.65" height="2.65" fill="#6c10dc" stroke="#3a2a5a" stroke-width="0.5"/>
<rect x="429.38" y="190.38" width="2.65" height="2.65" fill="#6c10dc" stroke="#3a2a5a" stroke-width="0.5"/>
<rect x="433.28" y="189.78" width="2.65" height="2.65" fill="#6c10dc" stroke="#3a2a5a" stroke-width="0.5"/>
<rect x="436.88" y="189.48" width="2.65" height="2.65" fill="#6c10dc" stroke="#3a2a5a" stroke-width="0.5"/>
<rect x="440.78" y="189.18" width="2.65" height="2.65" fill="#6c10dc" stroke="#3a2a5a" stroke-width="0.5"/>
<rect x="444.48" y="188.38" width="2.65" height="2.65" fill="#6c10dc" stroke="#3a2a5a" stroke-width="0.5"/>
<rect x="448.07" y="187.78" width="2.65" height="2.65" fill="#6c10dc" stroke="#3a2a5a" stroke-width="0.5"/>
<rect x="451.98" y="187.38" width="2.65" height="2.65" fill="#6c10dc" stroke="#3a2a5a" stroke-width="0.5"/>
<rect x="455.57" y="187.18" width="2.65" height="2.65" fill="#6c10dc" stroke="#3a2a5a" stroke-width="0.5"/>
<rect x="459.18" y="186.78" width="2.65" height="2.65" fill="#6c10dc" stroke="#3a2a5a" stroke-width="0.5"/>
<rect x="463.07" y="186.18" width="2.65" height="2.65" fill="#6c10dc" stroke="#3a2a5a" stroke-width="0.5"/>
<rect x="466.78" y="185.58" width="2.65" height="2.65" fill="#6c10dc" stroke="#3a2a5a" stroke-width="0.5"/>
<rect x="470.68" y="184.78" width="2.65" height="2.65" fill="#6c10dc" stroke="#3a2a5a" stroke-width="0.5"/>
<rect x="473.78" y="184.38" width="2.65" height="2.65" fill="#6c10dc" stroke="#3a2a5a" stroke-width="0.5"/>
<rect x="477.78" y="183.78" width="2.65" height="2.65" fill="#6c10dc" stroke="#3a2a5a" stroke-width="0.5"/>
<rect x="481.57" y="183.78" width="2.65" height="2.65" fill="#6c10dc" stroke="#3a2a5a" stroke-width="0.5"/>
<rect x="485.57" y="183.68" width="2.65" height="2.65" fill="#6c10dc" stroke="#3a2a5a" stroke-width="0.5"/>
<rect x="489.18" y="182.58" width="2.65" height="2.65" fill="#6c10dc" stroke="#3a2a5a" stroke-width="0.5"/>
<rect x="493.07" y="182.58" width="2.65" height="2.65" fill="#6c10dc" stroke="#3a2a5a" stroke-width="0.5"/>
<rect x="496.78" y="182.18" width="2.65" height="2.65" fill="#6c10dc" stroke="#3a2a5a" stroke-width="0.5"/>
<rect x="500.68" y="181.58" width="2.65" height="2.65" fill="#6c10dc" stroke="#3a2a5a" stroke-width="0.5"/>
<rect x="504.28" y="180.98" width="2.65" height="2.65" fill="#6c10dc" stroke="#3a2a5a" stroke-width="0.5"/>
<rect x="508.18" y="180.98" width="2.65" height="2.65" fill="#6c10dc" stroke="#3a2a5a" stroke-width="0.5"/>
<rect x="511.88" y="180.78" width="2.65" height="2.65" fill="#6c10dc" stroke="#3a2a5a" stroke-width="0.5"/>
<rect x="515.47" y="180.08" width="2.65" height="2.65" fill="#6c10dc" stroke="#3a2a5a" stroke-width="0.5"/>
<rect x="519.38" y="180.08" width="2.65" height="2.65" fill="#6c10dc" stroke="#3a2a5a" stroke-width="0.5"/>
<rect x="522.97" y="179.78" width="2.65" height="2.65" fill="#6c10dc" stroke="#3a2a5a" stroke-width="0.5"/>
<rect x="526.88" y="179.18" width="2.65" height="2.65" fill="#6c10dc" stroke="#3a2a5a" stroke-width="0.5"/>
<rect x="530.57" y="179.18" width="2.65" height="2.65" fill="#6c10dc" stroke="#3a2a5a" stroke-width="0.5"/>
<rect x="534.17" y="177.98" width="2.65" height="2.65" fill="#6c10dc" stroke="#3a2a5a" stroke-width="0.5"/>
<rect x="537.47" y="178.58" width="2.65" height="2.65" fill="#6c10dc" stroke="#3a2a5a" stroke-width="0.5"/>
<rect x="361.48" y="235.28" width="2.65" height="2.65" fill="#6c10dc" stroke="#3a2a5a" stroke-width="0.5"/>
<rect x="365.38" y="235.28" width="2.65" height="2.65" fill="#6c10dc" stroke="#3a2a5a" stroke-width="0.5"/>
<rect x="369.07" y="235.98" width="2.65" height="2.65" fill="#6c10dc" stroke="#3a2a5a" stroke-width="0.5"/>
<rect x="372.88" y="235.78" width="2.65" height="2.65" fill="#6c10dc" stroke="#3a2a5a" stroke-width="0.5"/>
<rect x="376.78" y="235.78" width="2.65" height="2.65" fill="#6c10dc" stroke="#3a2a5a" stroke-width="0.5"/>
<rect x="380.57" y="235.68" width="2.65" height="2.65" fill="#6c10dc" stroke="#3a2a5a" stroke-width="0.5"/>
<rect x="384.28" y="235.78" width="2.65" height="2.65" fill="#6c10dc" stroke="#3a2a5a" stroke-width="0.5"/>
<rect x="387.98" y="235.48" width="2.65" height="2.65" fill="#6c10dc" stroke="#3a2a5a" stroke-width="0.5"/>
<rect x="391.78" y="235.28" width="2.65" height="2.65" fill="#6c10dc" stroke="#3a2a5a" stroke-width="0.5"/>
<rect x="395.68" y="235.48" width="2.65" height="2.65" fill="#6c10dc" stroke="#3a2a5a" stroke-width="0.5"/>
<rect x="399.28" y="234.98" width="2.65" height="2.65" fill="#6c10dc" stroke="#3a2a5a" stroke-width="0.5"/>
<rect x="403.07" y="234.98" width="2.65" height="2.65" fill="#6c10dc" stroke="#3a2a5a" stroke-width="0.5"/>
<rect x="406.88" y="234.78" width="2.65" height="2.65" fill="#6c10dc" stroke="#3a2a5a" stroke-width="0.5"/>
<rect x="410.48" y="234.78" width="2.65" height="2.65" fill="#6c10dc" stroke="#3a2a5a" stroke-width="0.5"/>
<rect x="414.28" y="234.58" width="2.65" height="2.65" fill="#6c10dc" stroke="#3a2a5a" stroke-width="0.5"/>
<rect x="417.98" y="234.48" width="2.65" height="2.65" fill="#6c10dc" stroke="#3a2a5a" stroke-width="0.5"/>
<rect x="421.88" y="233.98" width="2.65" height="2.65" fill="#6c10dc" stroke="#3a2a5a" stroke-width="0.5"/>
<rect x="425.68" y="233.98" width="2.65" height="2.65" fill="#6c10dc" stroke="#3a2a5a" stroke-width="0.5"/>
<rect x="429.28" y="233.98" width="2.65" height="2.65" fill="#6c10dc" stroke="#3a2a5a" stroke-width="0.5"/>
<rect x="433.07" y="233.78" width="2.65" height="2.65" fill="#6c10dc" stroke="#3a2a5a" stroke-width="0.5"/>
<rect x="436.88" y="233.78" width="2.65" height="2.65" fill="#6c10dc" stroke="#3a2a5a" stroke-width="0.5"/>
<rect x="440.57" y="233.78" width="2.65" height="2.65" fill="#6c10dc" stroke="#3a2a5a" stroke-width="0.5"/>
<rect x="444.38" y="233.68" width="2.65" height="2.65" fill="#6c10dc" stroke="#3a2a5a" stroke-width="0.5"/>
<rect x="448.07" y="233.48" width="2.65" height="2.65" fill="#6c10dc" stroke="#3a2a5a" stroke-width="0.5"/>
<rect x="451.78" y="233.48" width="2.65" height="2.65" fill="#6c10dc" stroke="#3a2a5a" stroke-width="0.5"/>
<rect x="455.57" y="233.28" width="2.65" height="2.65" fill="#6c10dc" stroke="#3a2a5a" stroke-width="0.5"/>
<rect x="459.38" y="233.18" width="2.65" height="2.65" fill="#6c10dc" stroke="#3a2a5a" stroke-width="0.5"/>
<rect x="463.07" y="233.18" width="2.65" height="2.65" fill="#6c10dc" stroke="#3a2a5a" stroke-width="0.5"/>
<rect x="466.78" y="232.98" width="2.65" height="2.65" fill="#6c10dc" stroke="#3a2a5a" stroke-width="0.5"/>
<rect x="470.57" y="232.98" width="2.65" height="2.65" fill="#6c10dc" stroke="#3a2a5a" stroke-width="0.5"/>
<rect x="474.28" y="232.78" width="2.65" height="2.65" fill="#6c10dc" stroke="#3a2a5a" stroke-width="0.5"/>
<rect x="478.18" y="232.78" width="2.65" height="2.65" fill="#6c10dc" stroke="#3a2a5a" stroke-width="0.5"/>
<rect x="481.78" y="232.58" width="2.65" height="2.65" fill="#6c10dc" stroke="#3a2a5a" stroke-width="0.5"/>
<rect x="485.48" y="232.38" width="2.65" height="2.65" fill="#6c10dc" stroke="#3a2a5a" stroke-width="0.5"/>
<rect x="489.18" y="232.58" width="2.65" height="2.65" fill="#6c10dc" stroke="#3a2a5a" stroke-width="0.5"/>
<rect x="492.98" y="232.08" width="2.65" height="2.65" fill="#6c10dc" stroke="#3a2a5a" stroke-width="0.5"/>
<rect x="496.78" y="232.08" width="2.65" height="2.65" fill="#6c10dc" stroke="#3a2a5a" stroke-width="0.5"/>
<rect x="500.68" y="231.88" width="2.65" height="2.65" fill="#6c10dc" stroke="#3a2a5a" stroke-width="0.5"/>
<rect x="504.28" y="231.88" width="2.65" height="2.65" fill="#6c10dc" stroke="#3a2a5a" stroke-width="0.5"/>
<rect x="507.98" y="231.88" width="2.65" height="2.65" fill="#6c10dc" stroke="#3a2a5a" stroke-width="0.5"/>
<rect x="511.88" y="231.68" width="2.65" height="2.65" fill="#6c10dc" stroke="#3a2a5a" stroke-width="0.5"/>
<rect x="515.57" y="231.68" width="2.65" height="2.65" fill="#6c10dc" stroke="#3a2a5a" stroke-width="0.5"/>
<rect x="519.27" y="231.68" width="2.65" height="2.65" fill="#6c10dc" stroke="#3a2a5a" stroke-width="0.5"/>
<rect x="522.97" y="231.68" width="2.65" height="2.65" fill="#6c10dc" stroke="#3a2a5a" stroke-width="0.5"/>
<rect x="526.77" y="231.38" width="2.65" height="2.65" fill="#6c10dc" stroke="#3a2a5a" stroke-width="0.5"/>
<rect x="530.47" y="231.38" width="2.65" height="2.65" fill="#6c10dc" stroke="#3a2a5a" stroke-width="0.5"/>
<rect x="534.38" y="231.38" width="2.65" height="2.65" fill="#6c10dc" stroke="#3a2a5a" stroke-width="0.5"/>
<rect x="537.88" y="231.18" width="2.65" height="2.65" fill="#6c10dc" stroke="#3a2a5a" stroke-width="0.5"/>
<rect x="352.5" y="158.5" width="187.0" height="103.80000000000001" fill="none" stroke="#1a1a1a" stroke-width="1"/>
<line x1="360.00" y1="226.40" x2="372.00" y2="226.40" stroke="#111" stroke-width="1"/>
<path d="M358.6,226.4 L362.8,224.2 L362.8,228.6 Z" fill="#111"/>
<line x1="520.60" y1="189.40" x2="531.00" y2="189.40" stroke="#111" stroke-width="1"/>
<path d="M533.6,189.4 L529.4,187.2 L529.4,191.6 Z" fill="#111"/>
<text x="568.00" y="7.60" font-size="9.6" text-anchor="start" fill="#000" font-weight="bold">f</text>
<defs><filter id="temn" x="0" y="0" width="100%" height="100%" color-interpolation-filters="sRGB"><feTurbulence type="fractalNoise" baseFrequency="0.28" numOctaves="2" seed="7" result="n"/><feColorMatrix in="n" type="matrix" values="1.5 0 0 0 -0.17  1.5 0 0 0 -0.17  1.5 0 0 0 -0.17  0 0 0 0 1"/><feGaussianBlur stdDeviation="0.45"/></filter><pattern id="hexp" width="3.3" height="5.716" patternUnits="userSpaceOnUse" patternTransform="rotate(12)"><circle cx="0.8" cy="0.8" r="0.95" fill="#2a2a2a"/><circle cx="2.45" cy="3.66" r="0.95" fill="#2a2a2a"/></pattern><filter id="fftn" x="0" y="0" width="100%" height="100%" color-interpolation-filters="sRGB"><feTurbulence type="fractalNoise" baseFrequency="0.9" numOctaves="1" seed="3" result="n"/><feColorMatrix in="n" type="matrix" values="0 0 0 0 0.5  0 0 0 0 0.5  0 0 0 0 0.5  1.2 0 0 0 -0.35"/></filter><filter id="blur07" x="-5%" y="-5%" width="110%" height="110%"><feGaussianBlur stdDeviation="0.65"/></filter><filter id="blur05" x="-5%" y="-5%" width="110%" height="110%"><feGaussianBlur stdDeviation="0.45"/></filter><radialGradient id="fftg" cx="0.51" cy="0.52" r="0.62"><stop offset="0" stop-color="#4a4a4a"/><stop offset="0.45" stop-color="#333"/><stop offset="1" stop-color="#1c1c1c"/></radialGradient><radialGradient id="spot" cx="0.5" cy="0.5" r="0.5"><stop offset="0" stop-color="#5a5a5a"/><stop offset="0.62" stop-color="#4e4e4e"/><stop offset="0.87" stop-color="#2a2a2a"/><stop offset="1" stop-color="#2a2a2a" stop-opacity="0"/></radialGradient></defs>
<rect x="578.0" y="0.0" width="106.0" height="104.2" fill="#909090"/>
<rect x="578.0" y="0.0" width="106.0" height="104.2" filter="url(#temn)" opacity="0.32"/>
<g filter="url(#blur07)"><path d="M583.0 1.3h0M579.3 3.1h0M581.2 7.8h0M579.2 13.6h0M586.2 2.5h0M583.6 4.4h0M584.4 8.5h0M581.6 10.9h0M582.1 14.8h0M579.6 17.2h0M580.6 21.0h0M589.5 3.5h0M587.7 6.3h0M588.1 9.8h0M585.4 12.4h0M586.4 15.4h0M583.2 18.6h0M584.0 21.3h0M581.9 24.4h0M582.5 28.3h0M579.4 30.5h0M580.6 34.0h0M578.8 40.0h0M592.4 1.0h0M593.3 4.3h0M590.8 6.8h0M591.4 10.5h0M588.8 13.2h0M589.4 17.1h0M586.1 19.4h0M588.1 23.3h0M585.2 25.6h0M585.8 28.9h0M582.9 31.4h0M583.6 34.6h0M581.6 37.8h0M582.5 41.2h0M579.1 43.9h0M580.6 46.9h0M579.0 53.6h0M596.5 1.8h0M597.0 5.8h0M594.5 8.4h0M595.0 11.5h0M592.6 14.6h0M592.9 18.1h0M590.5 20.5h0M591.1 24.3h0M588.9 25.9h0M589.9 30.2h0M586.4 32.9h0M587.3 36.5h0M585.3 38.6h0M585.5 41.9h0M582.8 45.4h0M583.5 48.9h0M581.4 50.9h0M582.1 54.7h0M579.3 57.4h0M580.2 60.6h0M599.7 3.2h0M600.7 7.0h0M598.1 9.4h0M598.5 12.5h0M595.4 15.6h0M596.9 18.9h0M593.7 21.5h0M595.2 25.5h0M592.8 27.9h0M593.2 31.6h0M589.8 34.0h0M590.9 37.4h0M588.0 39.6h0M589.0 43.3h0M586.7 45.7h0M587.6 49.9h0M584.3 52.4h0M586.0 55.5h0M583.0 58.6h0M583.4 61.7h0M580.9 64.3h0M581.5 67.9h0M578.8 70.6h0M580.5 74.4h0M606.2 1.5h0M602.6 4.3h0M604.3 7.6h0M601.3 10.2h0M602.3 14.3h0M599.5 16.4h0M600.6 20.2h0M597.4 22.5h0M598.9 26.2h0M595.8 28.4h0M596.9 32.1h0M593.8 34.9h0M594.4 38.1h0M592.3 40.9h0M593.0 45.2h0M589.9 47.1h0M590.9 50.2h0M588.0 53.8h0M589.0 57.1h0M586.9 59.2h0M587.6 63.2h0M584.4 65.6h0M585.6 69.0h0M582.8 71.8h0M582.6 75.3h0M580.5 77.9h0M581.5 81.6h0M578.7 83.5h0M580.1 87.3h0M609.5 3.0h0M607.1 5.3h0M607.7 8.9h0M605.1 11.0h0M605.4 14.7h0M603.4 17.1h0M603.5 21.4h0M600.5 23.3h0M601.8 27.6h0M599.6 30.4h0M599.2 33.0h0M597.5 35.3h0M598.4 39.1h0M595.8 41.9h0M596.0 45.5h0M594.2 48.4h0M595.0 51.4h0M591.7 54.5h0M592.9 57.9h0M589.9 60.3h0M590.7 63.8h0M588.3 66.6h0M588.8 70.3h0M586.3 72.5h0M586.8 76.3h0M583.7 78.6h0M584.9 82.6h0M582.0 84.9h0M583.3 88.2h0M581.0 90.4h0M581.0 95.3h0M579.4 97.2h0M579.7 100.6h0M613.0 3.9h0M610.2 6.3h0M611.2 10.0h0M608.2 12.4h0M609.3 16.2h0M606.8 19.4h0M607.6 22.0h0M604.9 24.7h0M605.2 28.0h0M602.7 30.6h0M604.1 34.4h0M601.5 36.8h0M601.7 40.5h0M598.8 43.2h0M600.0 46.6h0M597.1 49.2h0M598.0 52.7h0M595.0 55.5h0M595.8 59.2h0M593.3 61.5h0M594.1 65.5h0M591.6 68.1h0M592.2 71.1h0M590.0 74.3h0M590.2 77.1h0M588.0 79.8h0M588.9 83.8h0M585.8 85.9h0M586.9 89.9h0M584.2 91.9h0M584.9 95.9h0M582.4 98.3h0M583.0 101.4h0M615.8 1.1h0M616.6 4.7h0M613.7 7.7h0M614.8 10.9h0M612.4 13.8h0M613.0 17.3h0M610.4 19.6h0M611.0 23.5h0M607.9 25.4h0M609.1 29.2h0M606.4 31.6h0M607.3 36.0h0M604.5 38.4h0M605.2 41.5h0M602.4 43.6h0M603.4 47.8h0M600.8 50.3h0M601.5 53.8h0M598.3 56.2h0M599.7 59.7h0M597.2 63.1h0M598.3 66.1h0M594.9 69.0h0M595.7 72.1h0M593.6 74.5h0M593.8 78.7h0M591.2 80.9h0M592.4 84.8h0M589.3 87.1h0M590.5 91.2h0M587.6 93.0h0M588.4 97.0h0M585.8 98.9h0M586.5 102.7h0M619.4 2.6h0M619.9 6.6h0M616.9 8.7h0M618.2 11.7h0M615.2 14.5h0M616.5 18.2h0M613.5 19.8h0M614.0 24.1h0M611.6 26.4h0M613.1 30.4h0M610.1 32.5h0M610.4 36.7h0M607.9 39.0h0M609.2 42.7h0M605.9 44.9h0M607.0 49.0h0M604.6 51.5h0M605.1 55.1h0M603.0 57.6h0M603.6 61.0h0M600.3 63.4h0M601.3 67.1h0M598.8 70.0h0M599.4 73.3h0M596.4 75.9h0M597.7 80.0h0M595.1 81.7h0M596.1 85.8h0M593.0 87.8h0M593.9 91.5h0M591.1 93.9h0M591.8 97.9h0M589.4 100.7h0M625.5 0.9h0M622.9 3.3h0M623.8 7.1h0M621.4 9.9h0M621.7 12.8h0M618.9 15.4h0M620.3 19.3h0M617.0 21.5h0M617.7 25.7h0M615.1 28.3h0M616.1 31.5h0M612.8 34.1h0M613.9 37.9h0M611.5 39.9h0M612.7 43.6h0M609.7 46.3h0M610.4 49.6h0M608.1 52.6h0M608.2 55.8h0M606.0 58.5h0M606.7 62.3h0M604.0 64.4h0M605.3 68.6h0M602.3 70.7h0M603.1 74.0h0M600.3 76.7h0M601.3 80.3h0M598.0 82.8h0M599.1 86.0h0M596.8 89.3h0M598.0 92.7h0M594.2 95.6h0M595.3 98.9h0M592.7 101.6h0M629.1 1.8h0M626.3 4.9h0M626.7 7.9h0M624.1 10.6h0M625.3 14.3h0M622.7 17.0h0M623.7 19.7h0M620.3 22.9h0M621.2 26.7h0M619.1 28.8h0M619.6 32.6h0M617.2 35.0h0M617.7 39.0h0M615.0 41.1h0M616.3 44.6h0M613.0 48.0h0M614.0 51.3h0M611.0 52.9h0M612.4 57.1h0M609.1 59.7h0M610.2 63.3h0M607.8 65.6h0M608.6 69.3h0M605.9 72.3h0M607.0 75.9h0M603.5 77.7h0M605.0 81.5h0M601.8 84.0h0M603.5 87.3h0M600.0 90.3h0M601.0 93.8h0M598.1 96.5h0M599.1 100.0h0M596.3 102.7h0M632.4 2.7h0M629.9 5.7h0M630.9 9.3h0M628.5 11.7h0M627.8 15.0h0M626.1 17.5h0M627.2 21.0h0M624.0 23.8h0M624.8 28.0h0M622.1 30.2h0M622.9 34.1h0M620.7 36.8h0M621.0 39.8h0M618.7 42.3h0M619.2 45.5h0M616.8 48.6h0M617.5 52.1h0M614.7 54.5h0M614.9 58.4h0M612.9 60.8h0M613.5 64.1h0M610.9 66.9h0M611.7 70.6h0M609.3 73.1h0M610.2 76.6h0M607.1 78.9h0M607.7 82.2h0M605.3 85.6h0M606.2 88.8h0M603.6 91.3h0M604.0 94.7h0M602.1 97.4h0M602.9 101.4h0M635.4 0.7h0M636.1 4.2h0M633.3 6.2h0M634.2 10.5h0M631.4 12.9h0M632.5 15.9h0M629.7 18.9h0M630.8 22.7h0M627.9 24.6h0M628.8 28.4h0M625.6 31.1h0M626.8 34.7h0M624.6 37.8h0M624.7 41.0h0M621.9 43.1h0M622.7 47.3h0M620.2 49.4h0M620.9 52.8h0M618.3 55.8h0M619.7 59.5h0M616.4 61.6h0M618.1 65.3h0M614.6 67.5h0M615.4 71.5h0M612.8 74.5h0M613.8 77.4h0M610.4 80.2h0M611.8 83.6h0M608.9 86.5h0M609.5 90.1h0M606.9 93.0h0M607.9 95.9h0M605.2 98.3h0M606.2 101.8h0M638.9 1.6h0M639.7 5.6h0M636.9 8.0h0M637.6 11.2h0M635.0 13.8h0M635.9 17.4h0M633.0 19.7h0M634.2 23.4h0M631.2 26.5h0M632.7 30.2h0M629.7 32.7h0M630.1 36.2h0M627.7 38.4h0M628.4 42.2h0M625.3 44.8h0M626.6 48.2h0M623.4 50.8h0M624.4 54.7h0M621.8 56.8h0M622.1 60.6h0M620.0 63.2h0M621.2 66.3h0M617.8 68.9h0M619.2 72.7h0M616.4 75.1h0M617.0 78.6h0M614.8 81.6h0M615.4 85.5h0M613.0 87.2h0M613.7 91.2h0M610.9 93.3h0M611.7 97.2h0M609.2 99.8h0M642.3 2.8h0M643.2 6.3h0M640.4 8.7h0M641.4 12.1h0M638.4 15.4h0M639.3 18.9h0M636.3 20.6h0M637.7 24.7h0M634.8 26.9h0M635.8 30.3h0M633.0 33.8h0M633.7 37.1h0M630.5 39.2h0M631.8 43.3h0M629.0 45.7h0M630.0 49.0h0M627.4 51.4h0M628.3 55.7h0M625.3 57.7h0M626.2 61.5h0M623.6 64.0h0M624.1 67.7h0M622.0 70.0h0M623.0 74.0h0M620.1 76.4h0M620.6 80.2h0M617.9 82.3h0M619.2 86.2h0M615.6 88.8h0M617.0 92.1h0M614.2 94.7h0M614.8 98.5h0M612.8 101.2h0M648.0 1.0h0M645.8 3.4h0M646.3 7.8h0M644.1 9.9h0M644.6 13.6h0M642.2 15.6h0M642.6 19.7h0M640.4 22.5h0M641.4 25.7h0M638.3 28.4h0M638.8 31.6h0M636.7 34.0h0M637.4 38.1h0M634.1 40.6h0M635.6 44.6h0M633.2 46.7h0M633.5 50.3h0M630.6 52.6h0M631.4 57.0h0M629.0 59.0h0M630.3 62.3h0M627.3 65.4h0M628.0 68.7h0M625.5 71.7h0M626.0 75.6h0M623.8 76.9h0M624.2 80.8h0M621.9 84.1h0M622.5 87.0h0M619.4 89.9h0M620.2 93.8h0M618.1 96.3h0M618.6 99.9h0M615.8 102.0h0M651.8 2.5h0M649.5 4.8h0M649.9 8.3h0M647.7 11.0h0M648.2 14.8h0M645.2 16.9h0M646.5 21.2h0M643.6 23.6h0M644.5 27.1h0M642.1 29.8h0M642.9 33.2h0M640.0 35.9h0M641.2 39.0h0M637.7 42.0h0M639.1 45.1h0M636.1 47.8h0M636.9 51.6h0M634.3 54.0h0M634.4 57.3h0M632.1 59.8h0M633.5 63.6h0M630.8 66.0h0M631.1 69.9h0M628.6 72.5h0M629.8 76.0h0M626.3 78.5h0M627.4 82.3h0M624.9 84.6h0M626.1 88.2h0M623.6 90.3h0M623.7 95.0h0M621.5 97.3h0M622.2 100.3h0M619.8 103.3h0M655.4 3.8h0M653.2 5.8h0M653.6 9.5h0M651.2 12.0h0M652.1 15.4h0M648.9 18.5h0M650.2 21.9h0M647.1 24.2h0M648.1 27.7h0M645.4 30.5h0M646.9 34.0h0M643.4 36.5h0M644.7 39.8h0M641.9 42.9h0M642.6 46.7h0M639.6 49.1h0M640.4 52.7h0M638.0 55.3h0M638.7 58.2h0M636.1 61.1h0M636.8 64.9h0M634.3 67.1h0M635.2 71.0h0M632.7 73.5h0M633.1 76.6h0M630.8 79.2h0M631.0 83.1h0M628.5 85.2h0M628.8 89.4h0M626.7 91.8h0M628.3 95.3h0M624.9 98.2h0M626.0 101.6h0M658.4 1.3h0M659.5 4.8h0M656.0 7.0h0M657.4 10.7h0M654.8 13.0h0M655.3 16.9h0M653.1 19.6h0M653.8 22.8h0M651.4 25.8h0M651.8 29.3h0M648.9 31.3h0M649.2 35.4h0M647.2 37.6h0M648.0 40.9h0M645.6 44.3h0M645.9 47.3h0M643.0 50.0h0M643.6 53.3h0M641.4 56.3h0M642.2 60.1h0M640.0 62.4h0M640.4 66.0h0M638.0 68.9h0M638.3 72.1h0M635.9 74.7h0M636.6 77.9h0M634.5 80.3h0M635.0 84.0h0M632.5 86.7h0M633.0 90.1h0M630.0 92.3h0M631.5 96.7h0M628.0 99.1h0M628.9 102.5h0M661.8 2.3h0M662.8 5.6h0M659.5 8.3h0M661.3 11.3h0M658.2 14.3h0M659.7 17.8h0M656.7 20.8h0M657.3 23.8h0M654.6 26.8h0M655.6 29.8h0M652.1 33.1h0M653.4 35.9h0M650.5 38.7h0M651.3 42.0h0M648.5 44.9h0M649.7 48.8h0M646.4 50.9h0M647.4 54.9h0M645.0 57.1h0M645.8 61.0h0M643.2 63.2h0M644.0 67.5h0M640.9 69.4h0M641.9 72.9h0M639.2 75.8h0M640.2 79.7h0M637.5 81.3h0M638.3 85.6h0M635.5 88.1h0M636.2 91.4h0M634.1 93.8h0M634.7 97.8h0M632.0 100.6h0M668.7 0.6h0M665.8 3.3h0M666.3 6.6h0M663.3 9.2h0M664.3 12.7h0M661.9 15.4h0M662.7 18.7h0M659.6 21.2h0M660.3 25.3h0M657.9 27.3h0M658.8 31.5h0M655.8 33.3h0M656.8 37.3h0M653.7 39.7h0M655.2 43.5h0M652.4 45.8h0M653.2 49.6h0M650.3 52.2h0M651.9 55.1h0M648.3 59.0h0M649.0 61.5h0M646.7 64.1h0M647.7 67.4h0M644.5 70.7h0M645.5 74.4h0M642.9 76.6h0M643.1 80.7h0M641.5 82.8h0M642.1 86.2h0M639.6 89.3h0M639.8 92.4h0M637.6 94.5h0M637.8 99.0h0M635.7 101.3h0M671.8 1.5h0M668.7 4.2h0M669.5 7.8h0M667.1 10.5h0M668.3 14.0h0M665.3 16.5h0M665.9 20.2h0M663.8 22.8h0M664.1 26.2h0M661.7 28.9h0M662.6 31.8h0M659.8 35.0h0M660.4 38.5h0M657.5 40.8h0M658.5 44.3h0M655.7 47.2h0M656.7 50.3h0M654.6 52.4h0M655.0 56.6h0M652.2 59.5h0M653.0 63.0h0M650.2 65.9h0M650.8 69.4h0M648.2 71.6h0M649.4 75.2h0M646.2 77.6h0M647.3 81.0h0M644.6 83.5h0M645.2 87.5h0M642.4 90.2h0M643.6 93.2h0M640.6 96.3h0M642.2 100.0h0M638.6 102.5h0M675.7 2.4h0M672.3 5.7h0M673.6 8.7h0M670.2 11.7h0M671.4 14.8h0M669.1 17.4h0M669.9 20.5h0M666.7 24.1h0M668.0 27.2h0M664.9 30.1h0M666.3 33.1h0M662.7 35.9h0M664.0 39.4h0M660.8 41.8h0M662.2 45.3h0M659.7 48.1h0M660.3 51.8h0M657.6 53.7h0M658.1 57.8h0M655.6 60.4h0M656.7 63.7h0M653.3 66.0h0M654.3 70.1h0M651.9 72.6h0M652.5 76.5h0M649.9 78.8h0M650.6 82.6h0M648.0 85.3h0M649.1 88.5h0M646.2 91.0h0M646.9 95.0h0M644.3 96.8h0M645.0 101.1h0M642.6 103.3h0M678.6 3.5h0M676.2 6.6h0M677.0 9.9h0M674.0 12.1h0M674.8 15.5h0M672.0 18.5h0M673.4 22.7h0M671.0 24.7h0M671.1 28.2h0M669.0 31.4h0M669.3 34.4h0M666.9 36.7h0M666.9 40.2h0M664.8 42.9h0M665.3 46.7h0M662.6 49.6h0M663.5 52.8h0M660.6 55.7h0M662.3 58.8h0M659.1 61.8h0M660.4 65.3h0M657.0 67.4h0M657.8 71.4h0M655.4 73.4h0M656.6 76.7h0M653.7 79.6h0M654.2 83.3h0M652.1 85.5h0M652.2 89.9h0M649.7 92.3h0M651.0 95.6h0M648.0 98.6h0M648.7 101.9h0M680.9 1.3h0M682.3 4.8h0M679.6 8.4h0M680.7 10.6h0M677.8 13.4h0M678.9 17.0h0M675.8 19.9h0M676.3 23.2h0M673.9 26.1h0M674.7 29.9h0M671.8 32.0h0M672.6 35.6h0M669.8 38.3h0M671.1 41.2h0M668.6 44.5h0M669.0 47.9h0M666.4 50.0h0M667.4 53.5h0M664.3 56.0h0M665.6 60.1h0M662.3 62.0h0M663.7 65.8h0M661.0 68.8h0M661.8 72.3h0M659.2 74.1h0M659.7 78.3h0M657.1 81.2h0M658.1 84.8h0M655.4 87.5h0M656.1 91.0h0M653.5 93.3h0M654.0 96.8h0M651.3 99.8h0M651.9 103.0h0M683.2 8.5h0M681.3 14.4h0M681.8 18.2h0M679.3 20.7h0M680.4 23.7h0M677.6 27.2h0M678.0 30.9h0M675.7 33.0h0M676.3 37.0h0M673.7 39.0h0M674.7 43.1h0M671.5 45.4h0M672.4 48.5h0M670.1 51.5h0M670.6 55.3h0M668.0 57.5h0M668.8 60.5h0M666.5 63.0h0M666.8 67.1h0M664.1 69.9h0M665.1 73.7h0M662.4 75.6h0M663.7 79.4h0M660.1 82.0h0M661.7 85.3h0M658.6 88.5h0M659.7 92.2h0M657.1 93.9h0M657.8 97.2h0M654.8 100.4h0M656.2 103.6h0M682.9 21.9h0M681.2 27.8h0M682.0 31.4h0M679.5 34.0h0M679.8 37.7h0M677.4 40.3h0M678.0 43.8h0M675.0 46.4h0M675.9 50.5h0M673.6 52.5h0M674.2 56.1h0M672.0 58.7h0M672.5 62.4h0M669.9 65.0h0M670.3 68.1h0M668.2 71.1h0M668.6 74.7h0M666.8 76.6h0M666.5 80.2h0M664.5 83.3h0M665.3 86.5h0M662.1 89.3h0M663.5 93.0h0M660.1 95.6h0M661.5 99.0h0M658.4 101.0h0M682.8 35.2h0M681.0 41.3h0M681.2 44.9h0M679.0 47.0h0M679.5 50.9h0M676.8 53.6h0M678.0 57.2h0M674.8 60.0h0M675.8 63.2h0M673.1 65.8h0M674.0 69.4h0M671.3 72.2h0M671.6 75.7h0M669.9 78.0h0M670.2 81.2h0M667.8 84.0h0M668.9 87.9h0M665.5 90.5h0M666.8 93.8h0M664.6 97.0h0M664.2 100.1h0M661.8 102.6h0M682.4 48.4h0M683.1 51.9h0M681.2 54.7h0M681.2 58.5h0M679.0 60.8h0M679.5 64.2h0M676.6 67.2h0M678.5 70.0h0M674.9 73.3h0M675.6 76.4h0M672.6 78.6h0M674.3 83.1h0M671.2 85.7h0M672.1 89.5h0M669.7 91.2h0M670.1 95.1h0M668.1 97.2h0M668.3 100.9h0M682.5 62.5h0M682.9 65.9h0M680.1 67.3h0M681.1 72.2h0M678.8 74.4h0M678.9 78.6h0M676.6 80.2h0M678.0 83.9h0M674.3 86.4h0M675.5 90.1h0M672.9 92.6h0M673.5 95.4h0M670.8 98.2h0M671.8 102.2h0M681.9 75.2h0M682.6 78.7h0M679.9 81.4h0M681.1 85.1h0M678.4 87.5h0M679.7 91.8h0M676.7 93.7h0M677.5 97.2h0M674.2 99.5h0M675.6 103.0h0M682.2 88.4h0M682.8 92.2h0M680.3 94.7h0M681.1 98.2h0M678.2 101.0h0M681.8 101.7h0" stroke="#333" stroke-width="2.1" stroke-linecap="round" opacity="0.55"/></g>
<defs><radialGradient id="temv1" cx="0.25" cy="0.35" r="0.3"><stop offset="0" stop-color="#000" stop-opacity="0.2"/><stop offset="1" stop-color="#000" stop-opacity="0"/></radialGradient><radialGradient id="temv2" cx="0.88" cy="0.85" r="0.28"><stop offset="0" stop-color="#fff" stop-opacity="0.22"/><stop offset="1" stop-color="#fff" stop-opacity="0"/></radialGradient></defs>
<rect x="578.0" y="0.0" width="106.0" height="104.2" fill="url(#temv1)"/>
<rect x="578.0" y="0.0" width="106.0" height="104.2" fill="url(#temv2)"/>
<rect x="578.5" y="0.5" width="105.0" height="103.2" fill="none" stroke="#2a2a2a" stroke-width="1"/>
<rect x="578.6" y="86.5" width="36.9" height="17.6" fill="#fff" stroke="#444" stroke-width="0.6"/>
<text x="597.30" y="96.00" font-size="9.8" text-anchor="middle" fill="#111">40 nm</text>
<line x1="582.60" y1="99.60" x2="611.20" y2="99.60" stroke="#111" stroke-width="1.8"/>
<line x1="582.60" y1="97.60" x2="582.60" y2="101.60" stroke="#111" stroke-width="1.2"/>
<line x1="611.20" y1="97.60" x2="611.20" y2="101.60" stroke="#111" stroke-width="1.2"/>
<text x="567.80" y="164.80" font-size="9.6" text-anchor="start" fill="#000" font-weight="bold">g</text>
<rect x="578.6" y="158.8" width="104.89999999999998" height="104.0" fill="url(#fftg)"/>
<circle cx="636.04" cy="194.51" r="5.7" fill="url(#spot)"/>
<circle cx="649.53" cy="207.32" r="5.7" fill="url(#spot)"/>
<circle cx="645.19" cy="225.40" r="5.7" fill="url(#spot)"/>
<circle cx="627.36" cy="230.69" r="5.7" fill="url(#spot)"/>
<circle cx="613.87" cy="217.88" r="5.7" fill="url(#spot)"/>
<circle cx="618.21" cy="199.80" r="5.7" fill="url(#spot)"/>
<circle cx="621.96" cy="181.70" r="3.3" fill="#4c4c4c" opacity="0.7" filter="url(#blur05)"/>
<circle cx="653.59" cy="188.71" r="3.3" fill="#4c4c4c" opacity="0.7" filter="url(#blur05)"/>
<circle cx="663.33" cy="219.61" r="3.3" fill="#4c4c4c" opacity="0.7" filter="url(#blur05)"/>
<circle cx="641.44" cy="243.50" r="3.3" fill="#4c4c4c" opacity="0.7" filter="url(#blur05)"/>
<circle cx="609.81" cy="236.49" r="3.3" fill="#4c4c4c" opacity="0.7" filter="url(#blur05)"/>
<circle cx="600.07" cy="205.59" r="3.3" fill="#4c4c4c" opacity="0.7" filter="url(#blur05)"/>
<circle cx="631.7" cy="212.6" r="0.9" fill="#777"/>
<rect x="578.6" y="158.8" width="104.89999999999998" height="104.0" filter="url(#fftn)" opacity="0.5"/>
<circle cx="621.96" cy="181.70" r="5.2" fill="none" stroke="#3b2cf2" stroke-width="1.3"/>
<circle cx="653.59" cy="188.71" r="5.2" fill="none" stroke="#3b2cf2" stroke-width="1.3"/>
<circle cx="663.33" cy="219.61" r="5.2" fill="none" stroke="#3b2cf2" stroke-width="1.3"/>
<circle cx="641.44" cy="243.50" r="5.2" fill="none" stroke="#3b2cf2" stroke-width="1.3"/>
<circle cx="609.81" cy="236.49" r="5.2" fill="none" stroke="#3b2cf2" stroke-width="1.3"/>
<circle cx="600.07" cy="205.59" r="5.2" fill="none" stroke="#3b2cf2" stroke-width="1.3"/>
<line x1="607.80" y1="247.80" x2="600.50" y2="278.00" stroke="#5a3df0" stroke-width="1.0"/>
<line x1="653.60" y1="237.20" x2="662.00" y2="262.80" stroke="#f4f4f4" stroke-width="0.9"/>
<circle cx="653.2" cy="236.0" r="1.0" fill="none" stroke="#f4f4f4" stroke-width="0.7"/>
<line x1="662.00" y1="262.80" x2="669.80" y2="278.60" stroke="#b8b8b8" stroke-width="0.8"/>
<text x="578.0" y="288.0" font-size="9.3" fill="#5a3de6">(5.01 nm)<tspan font-size="6.6" dy="-3.8">−1</tspan></text>
<text x="636.2" y="288.0" font-size="9.3" fill="#333">(8.94 nm)<tspan font-size="6.6" dy="-3.8">−1</tspan></text>
<text x="0.80" y="203.20" font-size="9.6" text-anchor="start" fill="#000" font-weight="bold">c</text>
<path d="M35.6,233.3 36.4,234.5 37.7,232.7 38.4,234.8 39.7,233.0 40.4,235.2 41.7,233.3 42.4,235.5 43.7,233.7 44.4,235.8 45.7,234.0 46.4,236.2 47.7,234.4 48.4,236.5 49.7,234.7 50.3,236.8 51.7,235.0 52.5,236.2 M35.1,235.1 35.6,236.5 37.4,235.0 37.5,237.3 39.3,235.8 39.5,238.1 41.2,236.7 41.4,238.9 43.1,237.5 43.3,239.7 45.0,238.3 45.2,240.5 46.9,239.1 47.1,241.3 48.5,240.8 M32.5,238.4 32.3,239.8 34.5,239.5 33.5,241.5 35.7,241.1 34.8,243.2 37.0,242.8 36.0,244.8 38.2,244.4 37.2,246.5 39.4,246.1 38.4,248.1 40.7,247.8 39.7,249.8 41.9,249.4 40.9,251.4 42.3,251.7 M29.9,239.7 29.2,240.9 31.4,241.4 29.7,242.9 31.9,243.3 30.3,244.9 32.5,245.3 30.9,246.8 33.1,247.2 31.4,248.8 33.6,249.2 32.0,250.7 34.2,251.1 32.5,252.7 34.7,253.1 34.0,254.3 M26.9,240.0 25.8,240.9 27.6,242.1 25.5,242.9 27.4,244.1 25.3,244.9 27.2,246.1 25.1,246.9 27.0,248.1 24.9,248.9 26.8,250.1 24.7,250.9 26.6,252.1 24.5,252.9 26.4,254.1 24.3,254.9 25.2,256.0 M23.9,239.0 22.5,239.5 23.8,241.4 21.5,241.4 22.8,243.2 20.5,243.2 21.8,245.1 19.5,245.1 20.8,247.0 18.5,246.9 19.8,248.8 17.5,248.8 18.8,250.7 16.5,250.6 16.9,252.1 M21.6,237.2 20.2,237.1 20.7,239.3 18.6,238.5 19.2,240.7 17.1,239.8 17.6,242.0 15.5,241.2 16.0,243.4 13.9,242.5 14.5,244.7 12.4,243.9 12.9,246.0 10.8,245.2 11.3,247.4 9.9,247.3 M20.0,234.1 18.7,233.4 18.3,235.6 16.8,233.9 16.3,236.1 14.8,234.5 14.4,236.7 12.9,235.0 12.4,237.2 10.9,235.6 10.4,237.7 8.9,236.1 8.5,238.3 7.0,236.6 6.5,238.8 5.0,237.2 4.6,239.4 3.3,238.7 M19.8,230.7 18.9,229.5 17.5,231.3 16.8,229.2 15.5,231.0 14.7,228.8 13.4,230.6 12.6,228.5 11.3,230.3 10.5,228.1 9.2,229.9 8.5,227.8 7.1,229.6 6.4,227.4 5.0,229.2 4.1,228.1 M20.6,228.4 20.1,227.0 18.3,228.4 18.3,226.1 16.5,227.4 16.5,225.2 14.7,226.5 14.7,224.3 12.9,225.6 12.9,223.4 11.1,224.7 11.1,222.5 9.3,223.8 9.4,221.6 7.5,222.9 7.1,221.5 M22.1,226.3 22.1,224.9 19.9,225.5 20.6,223.4 18.5,224.1 19.2,222.0 17.0,222.6 17.7,220.5 15.6,221.2 16.3,219.0 14.1,219.7 14.8,217.6 12.7,218.2 13.4,216.1 12.0,216.1 M25.2,224.4 25.9,223.1 23.7,222.8 25.3,221.2 23.0,220.8 24.6,219.2 22.4,218.9 24.0,217.3 21.8,216.9 23.4,215.4 21.2,215.0 22.8,213.4 20.6,213.1 22.1,211.5 19.9,211.1 20.6,209.9 M28.2,224.0 29.3,223.0 27.4,221.8 29.4,220.9 27.5,219.7 29.6,218.8 27.7,217.6 29.7,216.7 27.8,215.5 29.9,214.6 27.9,213.4 30.0,212.4 28.1,211.2 30.1,210.3 28.2,209.1 30.3,208.2 29.4,207.1 M31.4,224.9 32.8,224.4 31.5,222.6 33.8,222.6 32.5,220.7 34.8,220.7 33.5,218.8 35.8,218.8 34.5,216.9 36.8,216.9 35.5,215.0 37.8,215.0 36.5,213.1 38.8,213.1 37.5,211.3 38.9,210.8 M33.6,226.6 35.0,226.6 34.4,224.5 36.5,225.2 35.9,223.1 38.0,223.8 37.4,221.7 39.5,222.4 38.9,220.3 41.1,221.1 40.5,218.9 42.6,219.7 42.0,217.5 44.1,218.3 44.2,216.8 M35.3,229.4 36.6,230.0 36.9,227.7 38.6,229.3 38.9,227.0 40.5,228.6 40.9,226.3 42.5,227.9 42.9,225.6 44.5,227.2 44.8,225.0 46.5,226.5 46.8,224.3 48.5,225.8 49.1,224.5" fill="none" stroke="#b0b0b0" stroke-width="0.9"/>
<circle cx="27.7" cy="232.0" r="7.0" fill="#fbfbfb"/>
<circle cx="27.7" cy="232.0" r="6.40" fill="none" stroke="#1e1e30" stroke-width="0.9" stroke-dasharray="0.9 0.8"/>
<path d="M21.5 231.6h0M26.5 229.6h0M32.0 228.6h0M27.1 226.1h0M28.1 226.5h0M24.0 236.9h0M30.1 231.4h0M27.8 226.8h0M23.3 233.1h0M21.7 232.4h0M22.0 232.0h0M24.2 236.6h0M31.1 229.5h0M22.3 229.5h0M27.0 227.7h0M28.3 235.5h0M26.9 229.6h0M30.4 230.2h0M30.6 230.2h0M32.7 230.6h0M23.2 231.9h0M24.9 228.1h0M26.6 234.6h0M21.7 231.6h0M26.5 230.8h0M30.0 227.2h0M30.0 230.5h0M27.7 230.5h0M25.8 229.3h0M28.5 237.7h0M31.2 234.8h0M29.6 229.6h0M29.1 237.6h0M23.1 234.4h0M33.7 233.2h0M23.7 236.6h0M30.6 237.4h0M24.9 226.6h0M33.0 235.0h0M33.6 230.3h0M33.7 233.0h0M26.9 226.0h0M33.7 232.8h0M27.5 238.1h0M30.1 226.4h0M31.1 237.1h0M30.2 237.6h0M25.5 226.3h0" stroke="#1d1d3a" stroke-width="1.0" stroke-linecap="round"/>
<path d="M34.9 231.7h0M34.5 234.4h0M30.0 238.8h0M28.7 239.1h0M25.3 238.8h0M21.7 236.0h0M20.5 231.7h0M21.8 227.8h0M23.2 226.4h0M27.2 224.8h0M30.1 225.2h0M33.9 228.3h0" stroke="#5fb3a0" stroke-width="0.9" stroke-linecap="round"/>
<path d="M28.2 226.9h0M32.0 229.0h0M31.0 228.2h0M24.9 232.5h0M25.9 229.1h0M30.9 234.4h0M29.2 230.5h0M24.5 230.1h0M25.4 231.8h0M30.7 231.2h0" stroke="#3a4aa0" stroke-width="0.8" stroke-linecap="round"/>
<path d="M84.7,251.0 85.5,252.2 86.9,250.5 87.5,252.7 88.9,251.0 89.5,253.2 90.9,251.5 91.5,253.7 93.0,251.9 93.5,254.1 95.0,252.4 95.5,254.6 97.0,252.9 97.5,255.1 99.0,253.4 99.5,255.5 100.8,254.8 M83.3,254.1 83.4,255.5 85.5,254.5 85.0,256.7 87.1,255.7 86.6,257.9 88.7,256.9 88.2,259.1 90.3,258.2 89.8,260.4 91.9,259.4 91.4,261.6 93.5,260.6 93.0,262.8 95.1,261.8 94.6,264.0 96.7,263.1 96.8,264.5 M81.0,256.1 80.6,257.5 82.9,257.3 81.6,259.2 83.9,259.0 82.7,260.9 84.9,260.8 83.7,262.6 85.9,262.5 84.7,264.4 86.9,264.2 85.7,266.1 88.0,265.9 86.8,267.8 89.0,267.7 87.8,269.6 90.0,269.4 89.7,270.8 M79.0,256.9 78.3,258.2 80.5,258.7 78.9,260.2 81.1,260.7 79.4,262.2 81.6,262.7 80.0,264.3 82.2,264.7 80.5,266.3 82.7,266.8 81.1,268.3 83.3,268.8 81.6,270.3 83.8,270.8 83.1,272.1 M74.6,256.9 73.4,257.6 75.0,259.1 72.8,259.5 74.4,261.1 72.2,261.5 73.9,263.0 71.7,263.4 73.3,264.9 71.1,265.4 72.7,266.9 70.5,267.3 72.1,268.8 69.9,269.3 71.6,270.8 69.4,271.2 70.0,272.5 M71.9,255.5 70.5,255.7 71.4,257.7 69.2,257.3 70.1,259.4 67.9,258.9 68.8,261.0 66.6,260.6 67.5,262.6 65.3,262.2 66.2,264.3 64.0,263.8 64.9,265.9 62.7,265.5 62.8,266.9 M70.2,253.6 68.8,253.3 69.1,255.5 67.2,254.4 67.4,256.6 65.5,255.5 65.7,257.7 63.8,256.6 64.1,258.8 62.1,257.7 62.4,259.9 60.4,258.8 60.7,261.0 58.8,259.9 59.0,262.1 57.6,261.9 M69.0,250.6 67.9,249.8 67.2,251.9 65.9,250.1 65.3,252.3 63.9,250.5 63.3,252.6 61.9,250.8 61.3,253.0 60.0,251.2 59.3,253.3 58.0,251.5 57.4,253.7 56.0,251.9 55.4,254.0 54.1,252.2 53.2,253.4 M69.0,248.2 68.0,247.1 66.7,248.9 65.9,246.8 64.6,248.7 63.8,246.6 62.5,248.4 61.7,246.3 60.4,248.1 59.5,246.0 58.2,247.9 57.4,245.8 56.1,247.6 55.3,245.5 54.1,246.4 M70.1,244.9 69.8,243.5 67.9,244.7 68.1,242.5 66.2,243.6 66.4,241.4 64.5,242.6 64.7,240.3 62.8,241.5 63.0,239.3 61.1,240.4 61.3,238.2 59.4,239.3 59.7,237.1 57.7,238.3 58.0,236.0 56.0,237.2 55.7,235.8 M72.9,242.3 73.2,240.9 70.9,241.0 72.1,239.1 69.9,239.2 71.1,237.2 68.8,237.3 70.0,235.4 67.7,235.5 68.9,233.6 66.7,233.7 67.9,231.8 65.6,231.9 66.8,229.9 65.4,229.5 M75.9,241.3 76.7,240.1 74.6,239.3 76.4,238.0 74.3,237.2 76.2,235.9 74.0,235.1 75.9,233.8 73.8,233.1 75.6,231.8 73.5,231.0 75.3,229.7 73.2,228.9 75.1,227.6 73.9,226.7 M78.7,241.4 79.9,240.6 78.2,239.1 80.4,238.6 78.7,237.1 80.9,236.5 79.2,235.1 81.4,234.5 79.7,233.0 81.8,232.4 80.1,231.0 82.3,230.4 80.6,228.9 82.8,228.4 82.1,227.1 M80.8,242.2 82.2,241.8 81.0,239.9 83.3,240.0 82.1,238.1 84.3,238.1 83.1,236.2 85.4,236.3 84.1,234.4 86.4,234.5 85.2,232.5 87.4,232.6 86.2,230.7 88.5,230.8 87.3,228.9 89.5,228.9 89.2,227.5 M83.4,244.5 84.8,244.7 84.5,242.4 86.6,243.4 86.3,241.2 88.3,242.2 88.0,239.9 90.0,240.9 89.7,238.7 91.7,239.7 91.4,237.4 93.5,238.4 93.2,236.2 95.2,237.2 95.5,235.7 M84.9,248.4 86.0,249.3 86.9,247.2 88.1,249.1 89.0,247.0 90.2,248.9 91.1,246.8 92.3,248.7 93.2,246.6 94.4,248.5 95.3,246.4 96.5,248.3 97.4,246.2 98.6,248.0 99.5,245.9 100.7,247.8 101.7,246.7" fill="none" stroke="#b0b0b0" stroke-width="0.9"/>
<circle cx="76.9" cy="249.2" r="7.0" fill="#fbfbfb"/>
<circle cx="76.9" cy="249.2" r="6.40" fill="none" stroke="#1e1e30" stroke-width="0.9" stroke-dasharray="0.7 1.8"/>
<path d="M75.4 255.1h0M71.9 248.0h0M78.6 255.0h0M74.7 243.5h0M79.6 247.1h0M75.3 251.1h0M77.9 250.5h0M75.4 253.8h0M82.0 249.3h0M75.1 252.1h0M78.7 245.3h0M75.2 253.1h0M76.5 247.8h0M77.8 249.1h0M76.9 243.5h0M82.4 249.8h0M73.8 252.7h0M78.2 249.3h0M79.4 254.7h0M78.7 254.3h0M82.3 246.6h0M74.8 252.3h0M71.5 248.4h0M81.1 252.6h0M78.6 243.7h0M82.8 250.6h0M79.9 251.2h0M72.3 245.4h0M73.7 254.2h0M73.6 248.2h0M75.8 251.6h0M79.0 250.3h0M74.6 243.5h0M77.6 250.4h0M83.0 248.7h0M70.9 247.9h0M71.8 252.6h0M77.4 255.3h0M71.8 245.8h0M79.7 243.8h0M71.0 250.9h0M71.5 252.1h0M82.6 251.3h0M82.2 246.1h0M82.9 250.4h0M70.8 249.4h0M80.1 244.0h0M81.1 253.7h0" stroke="#1d1d3a" stroke-width="1.0" stroke-linecap="round"/>
<path d="M84.1 249.9h0M82.4 253.9h0M80.2 255.6h0M76.1 256.4h0M74.3 255.9h0M70.8 253.0h0M69.8 250.2h0M71.2 244.8h0M72.8 243.3h0M76.8 242.0h0M81.7 243.8h0M83.6 246.5h0" stroke="#5fb3a0" stroke-width="0.9" stroke-linecap="round"/>
<path d="M80.9 248.6h0M71.8 249.6h0M73.7 249.6h0M75.0 250.5h0M72.6 253.4h0M81.5 248.0h0M73.4 249.2h0M79.6 250.9h0M78.0 243.7h0M73.5 253.3h0" stroke="#3a4aa0" stroke-width="0.8" stroke-linecap="round"/>
<text x="27.80" y="210.40" font-size="9.3" text-anchor="middle" fill="#1a1a1a" stroke="#fff" stroke-width="1.6" paint-order="stroke">1.2 nm</text>
<line x1="22.70" y1="219.40" x2="31.20" y2="219.40" stroke="#111" stroke-width="1.1"/>
<path d="M33.60,219.40 L30.60,221.10 L30.60,217.70 Z" fill="#111"/>
<path d="M20.30,219.40 L23.30,217.70 L23.30,221.10 Z" fill="#111"/>
<line x1="27.50" y1="243.20" x2="27.50" y2="247.40" stroke="#111" stroke-width="1.1"/>
<path d="M27.50,249.80 L25.80,246.80 L29.20,246.80 Z" fill="#111"/>
<path d="M27.50,240.80 L29.20,243.80 L25.80,243.80 Z" fill="#111"/>
<text x="27.30" y="261.00" font-size="9.3" text-anchor="middle" fill="#1a1a1a">0.8 nm</text>
<text x="48.50" y="287.40" font-size="9.3" text-anchor="middle" fill="#1a1a1a">precursor micelles</text>
<line x1="97.50" y1="284.20" x2="121.24" y2="284.20" stroke="#111" stroke-width="1.0"/>
<path d="M123.80,284.20 L120.60,286.00 L120.60,282.40 Z" fill="#111"/>
<text x="189.00" y="287.40" font-size="9.3" text-anchor="middle" fill="#1a1a1a">intermediate nanoclusters</text>
<path d="M220.8,237.7 221.5,238.7 222.8,237.2 223.4,239.1 224.7,237.6 225.2,239.4 226.5,237.9 227.1,239.8 228.4,238.3 228.9,240.2 230.2,238.7 230.8,240.6 232.1,239.1 232.6,240.9 233.9,239.4 234.5,241.3 235.8,239.8 236.3,241.7 237.6,240.2 238.2,242.1 239.3,241.4 M220.5,238.4 220.8,239.6 222.5,238.6 222.4,240.5 224.0,239.5 224.0,241.4 225.6,240.4 225.5,242.4 227.2,241.4 227.1,243.3 228.7,242.3 228.6,244.2 230.3,243.2 230.2,245.2 231.9,244.2 231.8,246.1 233.4,245.1 233.3,247.0 235.0,246.1 234.9,248.0 236.6,247.0 236.9,248.2 M219.5,239.6 219.6,240.8 221.4,240.2 220.9,242.1 222.7,241.5 222.2,243.4 224.0,242.8 223.5,244.6 225.3,244.1 224.8,245.9 226.6,245.3 226.1,247.2 227.9,246.6 227.4,248.5 229.2,247.9 228.7,249.7 230.5,249.2 230.0,251.0 231.8,250.4 231.3,252.3 233.1,251.7 232.6,253.6 233.8,253.6 M217.9,240.9 217.8,242.2 219.7,241.9 218.8,243.6 220.7,243.3 219.9,245.1 221.8,244.8 221.0,246.5 222.9,246.2 222.0,248.0 223.9,247.7 223.1,249.4 225.0,249.1 224.2,250.9 226.1,250.6 225.2,252.3 227.1,252.0 226.3,253.8 228.2,253.5 227.4,255.2 229.3,255.0 229.1,256.2 M215.9,242.2 215.6,243.4 217.5,243.4 216.5,245.0 218.4,245.0 217.4,246.6 219.3,246.5 218.3,248.2 220.2,248.1 219.2,249.7 221.1,249.7 220.0,251.3 222.0,251.3 220.9,252.9 222.9,252.9 221.8,254.5 223.7,254.4 222.7,256.1 224.6,256.0 223.6,257.6 225.5,257.6 225.2,258.8 M213.5,243.4 213.1,244.6 215.1,244.7 213.9,246.3 215.8,246.4 214.6,247.9 216.6,248.1 215.4,249.6 217.3,249.7 216.1,251.3 218.1,251.4 216.9,252.9 218.8,253.1 217.6,254.6 219.6,254.7 218.4,256.3 220.3,256.4 219.1,257.9 221.1,258.1 219.9,259.6 221.8,259.7 221.4,260.9 M211.0,244.4 210.5,245.6 212.4,245.9 211.1,247.3 213.0,247.6 211.7,249.0 213.6,249.3 212.4,250.7 214.3,251.0 213.0,252.5 214.9,252.7 213.6,254.2 215.5,254.4 214.2,255.9 216.1,256.2 214.9,257.6 216.8,257.9 215.5,259.3 217.4,259.6 216.1,261.0 217.2,261.6 M208.3,245.3 207.7,246.4 209.6,246.8 208.2,248.2 210.1,248.6 208.7,249.9 210.6,250.3 209.2,251.7 211.1,252.0 209.8,253.4 211.6,253.8 210.3,255.1 212.2,255.5 210.8,256.9 212.7,257.3 211.3,258.6 213.2,259.0 211.8,260.4 213.7,260.7 212.3,262.1 214.2,262.5 213.7,263.6 M205.5,246.1 204.8,247.2 206.7,247.7 205.3,249.0 207.1,249.5 205.7,250.8 207.6,251.3 206.1,252.5 208.0,253.0 206.5,254.3 208.4,254.8 207.0,256.1 208.8,256.6 207.4,257.9 209.3,258.4 207.8,259.7 209.7,260.2 208.2,261.5 210.1,262.0 208.7,263.3 210.5,263.8 209.9,264.9 M202.6,246.7 201.9,247.8 203.7,248.4 202.2,249.6 204.1,250.2 202.6,251.5 204.4,252.1 202.9,253.3 204.8,253.9 203.3,255.2 205.1,255.8 203.6,257.0 205.5,257.6 204.0,258.8 205.8,259.5 204.3,260.7 206.2,261.3 204.7,262.5 206.5,263.1 205.0,264.4 206.8,265.0 206.2,266.1 M199.6,247.2 198.9,248.2 200.7,248.8 199.2,250.0 201.0,250.6 199.4,251.8 201.2,252.4 199.7,253.5 201.5,254.2 199.9,255.3 201.7,256.0 200.2,257.1 202.0,257.8 200.4,258.9 202.2,259.6 200.7,260.7 202.5,261.3 200.9,262.5 202.7,263.1 201.2,264.3 202.1,265.0 M196.6,247.5 195.9,248.5 197.7,249.3 196.1,250.4 197.8,251.1 196.2,252.2 198.0,253.0 196.4,254.1 198.2,254.8 196.6,255.9 198.4,256.7 196.8,257.8 198.6,258.5 197.0,259.6 198.8,260.4 197.2,261.4 198.9,262.2 197.3,263.3 199.1,264.0 197.5,265.1 198.5,266.0 M193.6,247.8 192.8,248.7 194.6,249.5 192.9,250.5 194.7,251.3 193.0,252.3 194.8,253.1 193.2,254.1 194.9,254.9 193.3,255.9 195.0,256.7 193.4,257.7 195.1,258.5 193.5,259.5 195.2,260.3 193.6,261.3 195.3,262.1 193.7,263.1 195.4,263.9 193.8,264.9 194.7,265.8 M190.6,247.9 189.8,248.8 191.5,249.7 189.8,250.7 191.5,251.6 189.9,252.6 191.6,253.5 189.9,254.5 191.6,255.4 189.9,256.4 191.6,257.3 190.0,258.2 191.7,259.1 190.0,260.1 191.7,261.0 190.0,262.0 191.8,262.9 190.1,263.9 191.8,264.8 190.1,265.8 191.8,266.7 191.0,267.6 M187.6,247.9 186.7,248.8 188.4,249.8 186.7,250.6 188.4,251.6 186.6,252.5 188.3,253.5 186.6,254.4 188.3,255.3 186.6,256.2 188.3,257.2 186.5,258.1 188.2,259.0 186.5,259.9 188.2,260.9 186.5,261.8 188.2,262.7 186.4,263.6 188.1,264.6 186.4,265.5 188.1,266.4 187.2,267.3 M184.6,247.8 183.7,248.7 185.3,249.7 183.6,250.5 185.2,251.6 183.4,252.4 185.1,253.5 183.3,254.3 185.0,255.3 183.2,256.2 184.9,257.2 183.1,258.1 184.8,259.1 183.0,259.9 184.6,261.0 182.9,261.8 184.5,262.9 182.8,263.7 184.4,264.7 183.5,265.6 M181.6,247.5 180.6,248.4 182.2,249.4 180.4,250.2 182.0,251.3 180.3,252.0 181.9,253.1 180.1,253.8 181.7,254.9 179.9,255.7 181.5,256.7 179.7,257.5 181.3,258.6 179.5,259.3 181.1,260.4 179.4,261.1 181.0,262.2 179.2,263.0 180.8,264.0 179.0,264.8 180.6,265.9 178.8,266.6 179.6,267.6 M178.6,247.2 177.6,248.0 179.2,249.1 177.4,249.8 178.9,250.9 177.1,251.6 178.7,252.7 176.8,253.4 178.4,254.5 176.6,255.2 178.1,256.3 176.3,257.0 177.9,258.2 176.1,258.8 177.6,260.0 175.8,260.6 177.4,261.8 175.6,262.4 177.1,263.6 175.3,264.3 176.9,265.4 175.1,266.1 175.8,267.1 M175.6,246.7 174.6,247.4 176.1,248.7 174.3,249.3 175.8,250.5 174.0,251.1 175.5,252.3 173.6,252.9 175.1,254.1 173.3,254.7 174.8,255.9 172.9,256.5 174.4,257.7 172.6,258.3 174.1,259.5 172.3,260.1 173.8,261.4 171.9,262.0 173.4,263.2 171.6,263.8 173.1,265.0 172.1,265.7 M172.7,246.1 171.7,246.8 173.2,248.1 171.3,248.6 172.7,249.9 170.9,250.4 172.3,251.6 170.4,252.1 171.9,253.4 170.0,253.9 171.5,255.2 169.6,255.7 171.0,257.0 169.2,257.5 170.6,258.8 168.7,259.3 170.2,260.6 168.3,261.1 169.8,262.4 167.9,262.9 169.3,264.1 168.3,264.8 M169.9,245.3 168.9,246.0 170.2,247.3 168.3,247.7 169.7,249.1 167.8,249.5 169.2,250.8 167.3,251.2 168.7,252.6 166.8,252.9 168.2,254.3 166.3,254.7 167.7,256.0 165.8,256.4 167.1,257.8 165.3,258.2 166.6,259.5 164.7,259.9 166.1,261.3 164.2,261.7 164.8,262.8 M167.2,244.4 166.1,245.0 167.4,246.5 165.5,246.8 166.7,248.3 164.8,248.6 166.1,250.0 164.2,250.3 165.5,251.8 163.5,252.1 164.8,253.6 162.9,253.9 164.2,255.3 162.3,255.6 163.5,257.1 161.6,257.4 162.9,258.9 161.0,259.2 162.2,260.6 161.1,261.2 M164.7,243.4 163.5,243.9 164.7,245.4 162.8,245.5 164.0,247.1 162.0,247.2 163.2,248.7 161.3,248.9 162.5,250.4 160.5,250.5 161.7,252.0 159.8,252.2 161.0,253.7 159.0,253.8 160.2,255.4 158.3,255.5 159.5,257.0 157.6,257.1 158.7,258.7 156.8,258.8 158.0,260.3 156.8,260.8 M162.3,242.2 161.1,242.6 162.1,244.3 160.2,244.3 161.2,245.9 159.3,245.9 160.3,247.6 158.3,247.6 159.3,249.2 157.4,249.2 158.4,250.9 156.5,250.9 157.5,252.5 155.5,252.5 156.6,254.2 154.6,254.1 155.6,255.8 153.7,255.8 154.7,257.5 153.5,257.9 M160.3,240.9 159.0,241.2 159.9,242.9 158.0,242.6 158.8,244.4 156.9,244.1 157.7,245.8 155.8,245.6 156.6,247.3 154.7,247.0 155.6,248.8 153.7,248.5 154.5,250.3 152.6,250.0 153.4,251.7 151.5,251.5 152.3,253.2 150.4,252.9 151.2,254.7 149.3,254.4 149.5,255.7 M158.7,239.6 157.4,239.6 158.0,241.5 156.1,240.9 156.6,242.7 154.8,242.2 155.3,244.0 153.5,243.5 154.0,245.3 152.2,244.8 152.7,246.6 150.9,246.0 151.4,247.9 149.6,247.3 150.1,249.2 148.2,248.6 148.8,250.5 146.9,249.9 147.5,251.8 145.6,251.2 145.6,252.4 M157.7,238.4 156.5,238.1 156.5,240.1 154.9,239.1 154.9,241.0 153.2,240.0 153.3,242.0 151.6,241.0 151.7,243.0 150.0,242.0 150.1,243.9 148.4,242.9 148.5,244.9 146.8,243.9 146.9,245.9 145.2,244.9 145.2,246.8 143.6,245.8 143.6,247.8 142.4,247.5 M157.4,237.7 156.4,237.0 155.8,238.8 154.6,237.4 154.1,239.2 152.8,237.7 152.3,239.6 151.1,238.1 150.5,239.9 149.3,238.4 148.8,240.3 147.5,238.8 147.0,240.6 145.8,239.1 145.2,241.0 144.0,239.5 143.5,241.4 142.2,239.9 141.7,241.7 140.5,240.2 139.9,242.1 138.9,241.4 M157.4,237.3 156.7,236.3 155.4,237.8 154.8,235.9 153.6,237.4 153.0,235.6 151.7,237.1 151.1,235.2 149.9,236.7 149.3,234.8 148.0,236.3 147.4,234.5 146.2,235.9 145.6,234.1 144.3,235.6 143.7,233.7 142.5,235.2 141.9,233.3 140.6,234.8 140.0,233.0 138.9,233.6 M157.7,236.6 157.4,235.4 155.7,236.4 155.8,234.5 154.2,235.5 154.3,233.6 152.6,234.6 152.7,232.7 151.1,233.7 151.2,231.7 149.6,232.7 149.7,230.8 148.0,231.8 148.1,229.9 146.5,230.9 146.6,229.0 144.9,230.0 145.0,228.0 143.4,229.0 143.5,227.1 141.8,228.1 141.9,226.2 140.7,226.5 M158.7,235.4 158.6,234.2 156.8,234.8 157.3,232.9 155.5,233.5 156.0,231.7 154.2,232.2 154.7,230.4 152.9,231.0 153.4,229.1 151.6,229.7 152.2,227.8 150.3,228.4 150.9,226.6 149.0,227.2 149.6,225.3 147.7,225.9 148.3,224.0 146.4,224.6 147.0,222.8 145.1,223.3 145.1,222.1 M160.3,234.1 160.4,232.8 158.5,233.1 159.3,231.3 157.4,231.6 158.2,229.9 156.3,230.1 157.1,228.4 155.2,228.6 156.1,226.9 154.1,227.2 155.0,225.4 153.1,225.7 153.9,223.9 152.0,224.2 152.8,222.4 150.9,222.7 151.7,220.9 149.8,221.2 150.6,219.5 148.7,219.7 148.8,218.5 M162.3,232.8 162.6,231.6 160.7,231.6 161.7,230.0 159.8,230.0 160.8,228.4 158.9,228.5 159.9,226.8 158.0,226.9 159.1,225.3 157.1,225.3 158.2,223.7 156.2,223.7 157.3,222.1 155.4,222.2 156.4,220.5 154.5,220.6 155.5,219.0 153.6,219.0 154.6,217.4 152.7,217.4 153.0,216.2 M164.7,231.6 165.1,230.4 163.1,230.3 164.3,228.7 162.4,228.6 163.5,227.0 161.6,226.9 162.8,225.3 160.9,225.2 162.0,223.7 160.1,223.5 161.3,222.0 159.3,221.8 160.5,220.3 158.6,220.1 159.8,218.6 157.8,218.5 159.0,216.9 157.1,216.8 158.2,215.2 156.3,215.1 156.7,213.9 M167.2,230.6 167.7,229.4 165.8,229.1 167.1,227.6 165.1,227.3 166.4,225.8 164.5,225.5 165.8,224.0 163.8,223.7 165.1,222.3 163.2,222.0 164.5,220.5 162.6,220.2 163.8,218.7 161.9,218.4 163.2,216.9 161.3,216.6 162.5,215.2 160.6,214.9 161.9,213.4 160.8,212.8 M169.9,229.7 170.5,228.5 168.6,228.1 170.0,226.8 168.1,226.4 169.4,225.0 167.6,224.6 168.9,223.2 167.0,222.8 168.4,221.5 166.5,221.0 167.9,219.7 166.0,219.3 167.4,217.9 165.5,217.5 166.8,216.1 164.9,215.7 166.3,214.4 164.4,214.0 165.8,212.6 164.7,212.0 M172.7,228.9 173.4,227.8 171.5,227.3 172.9,226.0 171.1,225.5 172.5,224.3 170.6,223.8 172.1,222.5 170.2,222.0 171.7,220.7 169.8,220.2 171.2,218.9 169.4,218.4 170.8,217.1 169.0,216.6 170.4,215.3 168.5,214.8 170.0,213.5 168.1,213.0 169.5,211.8 167.7,211.3 169.1,210.0 168.1,209.3 M175.6,228.3 176.3,227.2 174.5,226.7 176.0,225.4 174.1,224.9 175.6,223.6 173.8,223.0 175.3,221.8 173.5,221.2 175.0,220.0 173.1,219.4 174.6,218.2 172.8,217.6 174.3,216.4 172.4,215.8 173.9,214.6 172.1,214.0 173.6,212.8 171.8,212.2 173.3,211.0 171.4,210.4 172.9,209.2 171.9,208.5 M178.6,227.8 179.3,226.8 177.5,226.2 179.0,225.0 177.2,224.4 178.8,223.2 177.0,222.6 178.5,221.5 176.7,220.8 178.3,219.7 176.5,219.0 178.0,217.9 176.2,217.2 177.8,216.1 176.0,215.5 177.5,214.3 175.7,213.7 177.3,212.5 175.5,211.9 177.0,210.8 175.2,210.1 176.8,209.0 175.8,208.2 M181.6,227.5 182.3,226.5 180.5,225.7 182.1,224.6 180.3,223.9 182.0,222.8 180.2,222.0 181.8,220.9 180.0,220.2 181.6,219.1 179.8,218.3 181.4,217.2 179.6,216.5 181.2,215.4 179.4,214.6 181.0,213.5 179.3,212.8 180.9,211.7 179.1,210.9 180.7,209.8 178.9,209.1 179.6,208.1 M184.6,227.2 185.4,226.3 183.6,225.4 185.3,224.4 183.5,223.6 185.1,222.6 183.4,221.7 185.0,220.7 183.3,219.9 184.9,218.8 183.2,218.0 184.8,217.0 183.1,216.2 184.7,215.1 183.0,214.3 184.6,213.3 182.9,212.5 184.5,211.4 182.7,210.6 184.4,209.6 183.5,208.7 M187.6,227.1 188.4,226.2 186.7,225.3 188.4,224.3 186.7,223.5 188.3,222.5 186.6,221.6 188.3,220.7 186.6,219.8 188.3,218.8 186.6,218.0 188.2,217.0 186.5,216.1 188.2,215.2 186.5,214.3 188.2,213.3 186.5,212.5 188.1,211.5 186.4,210.6 188.1,209.7 187.2,208.8 M190.6,227.1 191.5,226.2 189.8,225.2 191.5,224.4 189.8,223.4 191.6,222.5 189.9,221.6 191.6,220.7 189.9,219.7 191.6,218.8 189.9,217.9 191.7,217.0 190.0,216.0 191.7,215.1 190.0,214.2 191.7,213.3 190.0,212.3 191.8,211.4 190.1,210.5 191.8,209.6 191.0,208.6 M193.6,227.2 194.5,226.3 192.9,225.3 194.6,224.4 193.0,223.4 194.8,222.6 193.1,221.5 194.9,220.7 193.2,219.6 195.0,218.8 193.3,217.7 195.1,216.9 193.4,215.9 195.2,215.0 193.6,214.0 195.3,213.1 193.7,212.1 195.4,211.2 193.8,210.2 194.7,209.3 M196.6,227.5 197.6,226.6 196.0,225.5 197.8,224.8 196.2,223.7 197.9,222.9 196.3,221.8 198.1,221.0 196.5,219.9 198.3,219.2 196.7,218.1 198.5,217.3 196.9,216.2 198.7,215.5 197.1,214.4 198.9,213.6 197.3,212.5 199.0,211.7 197.4,210.6 199.2,209.9 197.6,208.8 198.6,207.9 M199.6,227.8 200.6,227.0 199.0,225.8 200.9,225.2 199.3,224.0 201.1,223.3 199.6,222.1 201.4,221.4 199.8,220.3 201.6,219.6 200.1,218.4 201.9,217.7 200.4,216.6 202.2,215.9 200.6,214.7 202.4,214.0 200.9,212.8 202.7,212.2 201.1,211.0 203.0,210.3 202.2,209.2 M202.6,228.3 203.6,227.6 202.1,226.4 203.9,225.8 202.4,224.6 204.2,224.0 202.7,222.8 204.6,222.3 203.1,221.1 204.9,220.5 203.4,219.3 205.2,218.7 203.7,217.5 205.6,216.9 204.0,215.7 205.9,215.2 204.4,214.0 206.2,213.4 204.7,212.2 206.5,211.6 205.0,210.4 206.9,209.9 206.2,208.8 M205.5,228.9 206.5,228.2 205.1,226.9 206.9,226.4 205.5,225.1 207.4,224.6 205.9,223.3 207.8,222.7 206.4,221.4 208.2,220.9 206.8,219.6 208.7,219.1 207.2,217.8 209.1,217.3 207.7,216.0 209.5,215.4 208.1,214.1 210.0,213.6 208.5,212.3 210.4,211.8 209.8,210.7 M208.3,229.7 209.3,229.0 208.0,227.7 209.9,227.3 208.5,225.9 210.4,225.5 209.0,224.2 210.9,223.8 209.5,222.4 211.4,222.0 210.0,220.7 211.9,220.3 210.6,218.9 212.4,218.5 211.1,217.2 213.0,216.8 211.6,215.4 213.5,215.0 212.1,213.7 214.0,213.3 212.6,211.9 214.5,211.5 214.0,210.4 M211.0,230.6 212.1,230.0 210.8,228.6 212.7,228.3 211.4,226.9 213.3,226.6 212.0,225.2 213.9,224.9 212.6,223.5 214.5,223.2 213.3,221.8 215.2,221.5 213.9,220.1 215.8,219.8 214.5,218.4 216.4,218.1 215.1,216.7 217.0,216.4 215.7,215.0 217.6,214.7 216.3,213.3 218.2,213.1 217.8,211.9 M213.5,231.6 214.7,231.1 213.5,229.5 215.5,229.4 214.3,227.8 216.2,227.7 215.1,226.1 217.0,226.0 215.8,224.4 217.8,224.2 216.6,222.7 218.5,222.5 217.4,221.0 219.3,220.8 218.1,219.3 220.1,219.1 218.9,217.6 220.8,217.4 219.7,215.9 220.8,215.4 M215.9,232.8 217.1,232.4 216.0,230.8 218.0,230.8 216.9,229.2 218.9,229.2 217.8,227.6 219.8,227.6 218.7,226.0 220.7,226.0 219.6,224.4 221.6,224.4 220.5,222.8 222.5,222.8 221.4,221.2 223.4,221.2 222.3,219.6 224.3,219.6 223.2,218.0 225.2,218.0 224.9,216.8 M217.9,234.1 219.2,233.8 218.3,232.1 220.2,232.4 219.4,230.6 221.3,230.9 220.5,229.2 222.4,229.5 221.5,227.7 223.4,228.0 222.6,226.2 224.5,226.5 223.7,224.8 225.6,225.1 224.8,223.3 226.7,223.6 225.8,221.8 227.7,222.1 226.9,220.4 228.8,220.7 228.0,218.9 229.9,219.2 229.7,218.0 M219.5,235.4 220.8,235.4 220.2,233.6 222.0,234.1 221.5,232.3 223.3,232.9 222.8,231.0 224.6,231.6 224.1,229.8 225.9,230.4 225.4,228.5 227.2,229.1 226.6,227.3 228.5,227.8 227.9,226.0 229.8,226.6 229.2,224.7 231.1,225.3 230.5,223.5 232.3,224.0 231.8,222.2 233.0,222.2 M220.5,236.6 221.7,236.9 221.6,235.0 223.3,236.0 223.2,234.0 224.8,235.0 224.8,233.1 226.4,234.1 226.3,232.1 228.0,233.1 227.9,231.2 229.6,232.2 229.5,230.3 231.1,231.3 231.1,229.3 232.7,230.3 232.6,228.4 234.3,229.4 234.2,227.4 235.9,228.4 235.8,226.5 237.4,227.5 237.8,226.3 M220.8,237.3 221.9,238.0 222.5,236.1 223.7,237.6 224.3,235.8 225.5,237.2 226.1,235.4 227.4,236.9 228.0,235.0 229.2,236.5 229.8,234.6 231.1,236.1 231.6,234.3 232.9,235.8 233.5,233.9 234.7,235.4 235.3,233.5 236.6,235.0 237.2,233.2 238.4,234.6 239.2,233.6" fill="none" stroke="#b9b9b9" stroke-width="0.85"/>
<ellipse cx="189.1" cy="237.5" rx="39.2" ry="17.9" fill="none" stroke="#111" stroke-width="1.2"/>
<g transform="rotate(2 189 238)">
<rect x="157.6" y="228.0" width="62.2" height="17.6" fill="#1f4f9c"/>
<path d="M160.40,226.95 L163.82,230.50 L160.40,234.05 L156.98,230.50 Z M167.24,226.95 L170.66,230.50 L167.24,234.05 L163.82,230.50 Z M174.08,226.95 L177.50,230.50 L174.08,234.05 L170.66,230.50 Z M180.92,226.95 L184.34,230.50 L180.92,234.05 L177.50,230.50 Z M187.76,226.95 L191.18,230.50 L187.76,234.05 L184.34,230.50 Z M194.60,226.95 L198.02,230.50 L194.60,234.05 L191.18,230.50 Z M201.44,226.95 L204.86,230.50 L201.44,234.05 L198.02,230.50 Z M208.28,226.95 L211.70,230.50 L208.28,234.05 L204.86,230.50 Z M215.12,226.95 L218.54,230.50 L215.12,234.05 L211.70,230.50 Z M160.40,234.05 L163.82,237.60 L160.40,241.15 L156.98,237.60 Z M167.24,234.05 L170.66,237.60 L167.24,241.15 L163.82,237.60 Z M174.08,234.05 L177.50,237.60 L174.08,241.15 L170.66,237.60 Z M180.92,234.05 L184.34,237.60 L180.92,241.15 L177.50,237.60 Z M187.76,234.05 L191.18,237.60 L187.76,241.15 L184.34,237.60 Z M194.60,234.05 L198.02,237.60 L194.60,241.15 L191.18,237.60 Z M201.44,234.05 L204.86,237.60 L201.44,241.15 L198.02,237.60 Z M208.28,234.05 L211.70,237.60 L208.28,241.15 L204.86,237.60 Z M215.12,234.05 L218.54,237.60 L215.12,241.15 L211.70,237.60 Z M160.40,241.15 L163.82,244.70 L160.40,248.25 L156.98,244.70 Z M167.24,241.15 L170.66,244.70 L167.24,248.25 L163.82,244.70 Z M174.08,241.15 L177.50,244.70 L174.08,248.25 L170.66,244.70 Z M180.92,241.15 L184.34,244.70 L180.92,248.25 L177.50,244.70 Z M187.76,241.15 L191.18,244.70 L187.76,248.25 L184.34,244.70 Z M194.60,241.15 L198.02,244.70 L194.60,248.25 L191.18,244.70 Z M201.44,241.15 L204.86,244.70 L201.44,248.25 L198.02,244.70 Z M208.28,241.15 L211.70,244.70 L208.28,248.25 L204.86,244.70 Z M215.12,241.15 L218.54,244.70 L215.12,248.25 L211.70,244.70 Z" fill="#2f6fc4" stroke="#184690" stroke-width="0.5"/>
<path d="M160.40,227.55 L162.92,230.20 L160.40,230.50 L157.88,230.20 Z M167.24,227.55 L169.76,230.20 L167.24,230.50 L164.72,230.20 Z M174.08,227.55 L176.60,230.20 L174.08,230.50 L171.56,230.20 Z M180.92,227.55 L183.44,230.20 L180.92,230.50 L178.40,230.20 Z M187.76,227.55 L190.28,230.20 L187.76,230.50 L185.24,230.20 Z M194.60,227.55 L197.12,230.20 L194.60,230.50 L192.08,230.20 Z M201.44,227.55 L203.96,230.20 L201.44,230.50 L198.92,230.20 Z M208.28,227.55 L210.80,230.20 L208.28,230.50 L205.76,230.20 Z M215.12,227.55 L217.64,230.20 L215.12,230.50 L212.60,230.20 Z M160.40,234.65 L162.92,237.30 L160.40,237.60 L157.88,237.30 Z M167.24,234.65 L169.76,237.30 L167.24,237.60 L164.72,237.30 Z M174.08,234.65 L176.60,237.30 L174.08,237.60 L171.56,237.30 Z M180.92,234.65 L183.44,237.30 L180.92,237.60 L178.40,237.30 Z M187.76,234.65 L190.28,237.30 L187.76,237.60 L185.24,237.30 Z M194.60,234.65 L197.12,237.30 L194.60,237.60 L192.08,237.30 Z M201.44,234.65 L203.96,237.30 L201.44,237.60 L198.92,237.30 Z M208.28,234.65 L210.80,237.30 L208.28,237.60 L205.76,237.30 Z M215.12,234.65 L217.64,237.30 L215.12,237.60 L212.60,237.30 Z M160.40,241.75 L162.92,244.40 L160.40,244.70 L157.88,244.40 Z M167.24,241.75 L169.76,244.40 L167.24,244.70 L164.72,244.40 Z M174.08,241.75 L176.60,244.40 L174.08,244.70 L171.56,244.40 Z M180.92,241.75 L183.44,244.40 L180.92,244.70 L178.40,244.40 Z M187.76,241.75 L190.28,244.40 L187.76,244.70 L185.24,244.40 Z M194.60,241.75 L197.12,244.40 L194.60,244.70 L192.08,244.40 Z M201.44,241.75 L203.96,244.40 L201.44,244.70 L198.92,244.40 Z M208.28,241.75 L210.80,244.40 L208.28,244.70 L205.76,244.40 Z M215.12,241.75 L217.64,244.40 L215.12,244.70 L212.60,244.40 Z" fill="#4a8ede" opacity="0.8"/>
<circle cx="163.82" cy="234.05" r="1.2" fill="#e3352b"/><circle cx="170.66" cy="234.05" r="1.2" fill="#e3352b"/><circle cx="177.50" cy="234.05" r="1.2" fill="#e3352b"/><circle cx="184.34" cy="234.05" r="1.2" fill="#e3352b"/><circle cx="191.18" cy="234.05" r="1.2" fill="#e3352b"/><circle cx="198.02" cy="234.05" r="1.2" fill="#e3352b"/><circle cx="204.86" cy="234.05" r="1.2" fill="#e3352b"/><circle cx="211.70" cy="234.05" r="1.2" fill="#e3352b"/><circle cx="163.82" cy="241.15" r="1.2" fill="#e3352b"/><circle cx="170.66" cy="241.15" r="1.2" fill="#e3352b"/><circle cx="177.50" cy="241.15" r="1.2" fill="#e3352b"/><circle cx="184.34" cy="241.15" r="1.2" fill="#e3352b"/><circle cx="191.18" cy="241.15" r="1.2" fill="#e3352b"/><circle cx="198.02" cy="241.15" r="1.2" fill="#e3352b"/><circle cx="204.86" cy="241.15" r="1.2" fill="#e3352b"/><circle cx="211.70" cy="241.15" r="1.2" fill="#e3352b"/>
<path d="M160.4 226.9h0M160.4 248.2h0M167.2 226.9h0M167.2 248.2h0M174.1 226.9h0M174.1 248.2h0M180.9 226.9h0M180.9 248.2h0M187.8 226.9h0M187.8 248.2h0M194.6 226.9h0M194.6 248.2h0M201.4 226.9h0M201.4 248.2h0M208.3 226.9h0M208.3 248.2h0M215.1 226.9h0M215.1 248.2h0" stroke="#8fd0c0" stroke-width="0.9" stroke-linecap="round"/>
</g>
<line x1="175.50" y1="202.40" x2="163.56" y2="202.40" stroke="#111" stroke-width="1.0"/>
<path d="M161.00,202.40 L164.20,200.60 L164.20,204.20 Z" fill="#111"/>
<text x="191.80" y="205.50" font-size="9.3" text-anchor="middle" fill="#1a1a1a">5.9 nm</text>
<line x1="208.60" y1="202.40" x2="220.24" y2="202.40" stroke="#111" stroke-width="1.0"/>
<path d="M222.80,202.40 L219.60,204.20 L219.60,200.60 Z" fill="#111"/>
<text x="130.80" y="211.20" font-size="9.3" text-anchor="middle" fill="#1a1a1a">2.1 nm</text>
<line x1="140.52" y1="216.67" x2="151.18" y2="208.73" stroke="#111" stroke-width="1.1"/>
<path d="M153.10,207.30 L151.71,210.46 L149.68,207.73 Z" fill="#111"/>
<path d="M138.60,218.10 L139.99,214.94 L142.02,217.67 Z" fill="#111"/>
<text x="126.80" y="240.90" font-size="9.3" text-anchor="middle" fill="#1a1a1a">2.1 nm</text>
<line x1="136.30" y1="233.20" x2="136.30" y2="228.16" stroke="#111" stroke-width="1.0"/>
<path d="M136.30,225.60 L138.10,228.80 L134.50,228.80 Z" fill="#111"/>
<line x1="136.30" y1="242.60" x2="136.30" y2="247.44" stroke="#111" stroke-width="1.0"/>
<path d="M136.30,250.00 L134.50,246.80 L138.10,246.80 Z" fill="#111"/>
<defs><radialGradient id="csg" cx="0.38" cy="0.35" r="0.65"><stop offset="0" stop-color="#ff8a7a"/><stop offset="0.5" stop-color="#e02a20"/><stop offset="1" stop-color="#8a0c08"/></radialGradient><radialGradient id="pbg" cx="0.38" cy="0.35" r="0.65"><stop offset="0" stop-color="#777"/><stop offset="1" stop-color="#111"/></radialGradient><radialGradient id="brg" cx="0.38" cy="0.35" r="0.65"><stop offset="0" stop-color="#6a7adf"/><stop offset="1" stop-color="#14207a"/></radialGradient></defs>
<circle cx="261.8" cy="219.5" r="4.3" fill="url(#csg)"/>
<circle cx="261.8" cy="233.6" r="2.8" fill="url(#pbg)"/>
<circle cx="261.8" cy="247.4" r="1.8" fill="url(#brg)"/>
<text x="271.8" y="222.8" font-size="9.3" fill="#1a1a1a">Cs<tspan font-size="6.6" dy="-3.8">+</tspan></text>
<text x="271.8" y="236.9" font-size="9.3" fill="#1a1a1a">Pb<tspan font-size="6.6" dy="-3.8">2+</tspan></text>
<text x="271.8" y="250.7" font-size="9.3" fill="#1a1a1a">Br<tspan font-size="6.6" dy="-3.8">−</tspan></text>
<path d="M261.8,258.5 260.7,259.5 262.9,260.5 260.7,261.5 262.9,262.5 260.7,263.5 262.9,264.6 260.7,265.6 262.9,266.6 260.7,267.6 262.9,268.6 260.7,269.6 262.9,270.6 260.7,271.6 262.9,272.6 260.7,273.6 262.9,274.6 260.7,275.6 262.9,276.7 260.7,277.7 262.9,278.7 260.7,279.7 262.9,280.7 261.8,281.7" fill="none" stroke="#a0a0a0" stroke-width="1.0"/>
<circle cx="261.8" cy="258.2" r="0.9" fill="#4aa090"/>
<text x="271.80" y="265.40" font-size="9.3" text-anchor="start" fill="#1a1a1a">oleic acid/</text>
<text x="271.80" y="278.50" font-size="9.3" text-anchor="start" fill="#1a1a1a">oleylamine</text>
</svg>
</body></html>
